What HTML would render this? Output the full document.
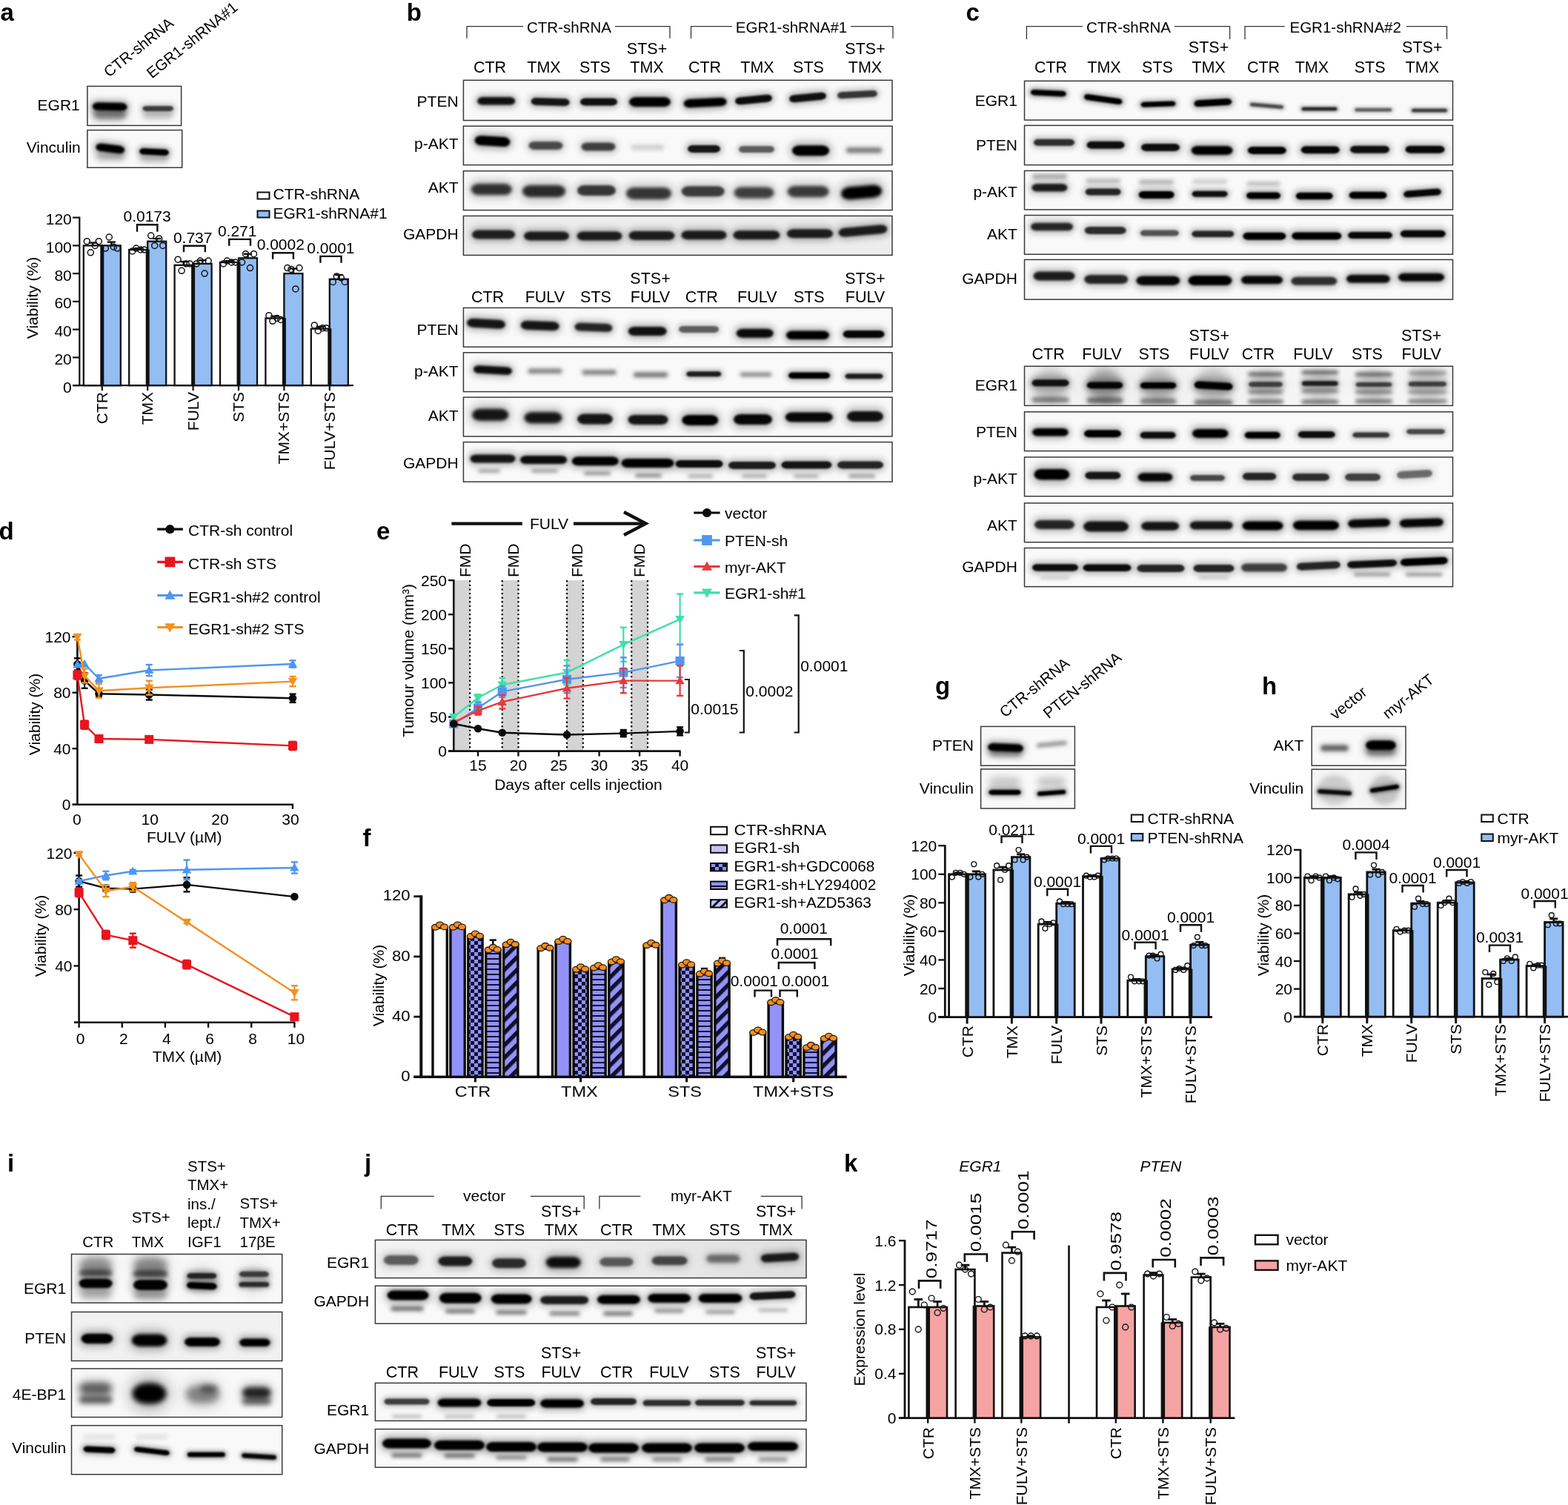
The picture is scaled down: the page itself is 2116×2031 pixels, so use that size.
<!DOCTYPE html>
<html><head><meta charset="utf-8"><title>Figure</title>
<style>html,body{margin:0;padding:0;background:#fff;}svg{display:block;}</style>
</head><body>
<svg xmlns="http://www.w3.org/2000/svg" width="2116" height="2031" viewBox="0 0 2116 2031" font-family='"Liberation Sans", Arial, sans-serif'>
<defs><linearGradient id="gradj" x1="0" y1="0" x2="1" y2="0"><stop offset="0" stop-color="#f3f3f3"/><stop offset="0.5" stop-color="#ececec"/><stop offset="1" stop-color="#e0e0e0"/></linearGradient><filter id="b0" x="-30%" y="-120%" width="160%" height="340%"><feGaussianBlur stdDeviation="4.5"/></filter><filter id="b1" x="-30%" y="-120%" width="160%" height="340%"><feGaussianBlur stdDeviation="1.5"/></filter><filter id="b2" x="-30%" y="-120%" width="160%" height="340%"><feGaussianBlur stdDeviation="5.5"/></filter><filter id="b3" x="-30%" y="-120%" width="160%" height="340%"><feGaussianBlur stdDeviation="3.0"/></filter><filter id="b4" x="-30%" y="-120%" width="160%" height="340%"><feGaussianBlur stdDeviation="1.0"/></filter><filter id="b5" x="-30%" y="-120%" width="160%" height="340%"><feGaussianBlur stdDeviation="4.0"/></filter><filter id="b6" x="-30%" y="-120%" width="160%" height="340%"><feGaussianBlur stdDeviation="3.5"/></filter><filter id="b7" x="-30%" y="-120%" width="160%" height="340%"><feGaussianBlur stdDeviation="5.0"/></filter><filter id="b8" x="-30%" y="-120%" width="160%" height="340%"><feGaussianBlur stdDeviation="2.0"/></filter><filter id="b9" x="-30%" y="-120%" width="160%" height="340%"><feGaussianBlur stdDeviation="6.0"/></filter><filter id="b10" x="-30%" y="-120%" width="160%" height="340%"><feGaussianBlur stdDeviation="6.5"/></filter><filter id="b11" x="-30%" y="-120%" width="160%" height="340%"><feGaussianBlur stdDeviation="7.0"/></filter><filter id="b12" x="-30%" y="-120%" width="160%" height="340%"><feGaussianBlur stdDeviation="2.5"/></filter><filter id="b13" x="-30%" y="-120%" width="160%" height="340%"><feGaussianBlur stdDeviation="17.5"/></filter><filter id="b14" x="-30%" y="-120%" width="160%" height="340%"><feGaussianBlur stdDeviation="16.0"/></filter><filter id="b15" x="-30%" y="-120%" width="160%" height="340%"><feGaussianBlur stdDeviation="9.0"/></filter><filter id="b16" x="-30%" y="-120%" width="160%" height="340%"><feGaussianBlur stdDeviation="12.0"/></filter><filter id="b17" x="-30%" y="-120%" width="160%" height="340%"><feGaussianBlur stdDeviation="11.0"/></filter><filter id="b18" x="-30%" y="-120%" width="160%" height="340%"><feGaussianBlur stdDeviation="9.5"/></filter><pattern id="pchk" patternUnits="userSpaceOnUse" width="10" height="10"><rect width="10" height="10" fill="#9292f8"/><rect width="5" height="5" fill="#101030"/><rect x="5" y="5" width="5" height="5" fill="#101030"/></pattern><pattern id="phor" patternUnits="userSpaceOnUse" width="8" height="7"><rect width="8" height="7" fill="#9292f8"/><rect y="5" width="8" height="2" fill="#101030"/></pattern><pattern id="pdia" patternUnits="userSpaceOnUse" width="12" height="12" patternTransform="rotate(-45)"><rect width="12" height="12" fill="#9292f8"/><rect y="0" width="12" height="5.5" fill="#101030"/></pattern><pattern id="pdia2" patternUnits="userSpaceOnUse" width="8" height="8" patternTransform="rotate(-45)"><rect width="8" height="8" fill="#c4c4f6"/><rect y="0" width="8" height="3" fill="#101030"/></pattern></defs>
<rect width="2116" height="2031" fill="#fff"/>
<text x="0.5" y="28.0" font-size="33" font-weight="bold" fill="#000">a</text>
<text x="147.0" y="105.0" font-size="20.5" transform="rotate(-38.8 147.0 105.0)">CTR-shRNA</text>
<text x="205.0" y="106.6" font-size="20.5" transform="rotate(-38.8 205.0 106.6)">EGR1-shRNA#1</text>
<rect x="117.9" y="116.4" width="126.7" height="53.0" fill="#f9f9f9"/>
<clipPath id="cl1"><rect x="117.9" y="116.4" width="126.7" height="53.0"/></clipPath>
<g clip-path="url(#cl1)">
<rect x="121.7" y="134.9" width="53.0" height="18.0" rx="9.0" fill="#000" fill-opacity="0.320" filter="url(#b0)" transform="rotate(1.17 148.2 143.9)"/>
<rect x="124.7" y="138.6" width="47.0" height="10.7" rx="7.5" ry="5.3" fill="#000" fill-opacity="1.000" filter="url(#b1)" transform="rotate(1.17 148.2 143.9)"/>
<rect x="122.7" y="142.5" width="51.0" height="23.0" rx="11.5" fill="#000" fill-opacity="0.130" filter="url(#b2)"/>
<rect x="125.7" y="147.0" width="45.0" height="14.0" rx="9.8" ry="7.0" fill="#000" fill-opacity="0.405" filter="url(#b3)"/>
<rect x="189.4" y="140.2" width="47.6" height="12.5" rx="6.2" fill="#000" fill-opacity="0.218" filter="url(#b3)"/>
<rect x="192.4" y="142.9" width="41.6" height="7.0" rx="4.9" ry="3.5" fill="#000" fill-opacity="0.682" filter="url(#b4)"/>
<rect x="190.2" y="146.5" width="46.0" height="17.0" rx="8.5" fill="#000" fill-opacity="0.057" filter="url(#b5)"/>
<rect x="193.2" y="150.0" width="40.0" height="10.0" rx="7.0" ry="5.0" fill="#000" fill-opacity="0.178" filter="url(#b3)"/>
</g>
<rect x="117.9" y="116.4" width="126.7" height="53.0" fill="none" stroke="#3a3a3a" stroke-width="1.5"/>
<text x="107.8" y="148.7" font-size="21" text-anchor="end">EGR1</text>
<rect x="117.9" y="175.6" width="127.8" height="50.6" fill="#f9f9f9"/>
<clipPath id="cl2"><rect x="117.9" y="175.6" width="127.8" height="50.6"/></clipPath>
<g clip-path="url(#cl2)">
<rect x="126.3" y="191.3" width="45.0" height="18.0" rx="9.0" fill="#000" fill-opacity="0.320" filter="url(#b0)" transform="rotate(6.95 148.8 200.3)"/>
<rect x="129.3" y="195.0" width="39.0" height="10.7" rx="7.5" ry="5.3" fill="#000" fill-opacity="1.000" filter="url(#b1)" transform="rotate(6.95 148.8 200.3)"/>
<rect x="126.8" y="202.5" width="44.0" height="17.0" rx="8.5" fill="#000" fill-opacity="0.065" filter="url(#b5)"/>
<rect x="129.8" y="206.0" width="38.0" height="10.0" rx="7.0" ry="5.0" fill="#000" fill-opacity="0.204" filter="url(#b3)"/>
<rect x="185.1" y="197.6" width="45.8" height="14.9" rx="7.4" fill="#000" fill-opacity="0.320" filter="url(#b6)" transform="rotate(2.74 208.0 205.0)"/>
<rect x="188.1" y="200.7" width="39.8" height="8.6" rx="6.0" ry="4.3" fill="#000" fill-opacity="1.000" filter="url(#b4)" transform="rotate(2.74 208.0 205.0)"/>
<rect x="186.0" y="206.2" width="44.0" height="15.5" rx="7.8" fill="#000" fill-opacity="0.057" filter="url(#b6)"/>
<rect x="189.0" y="209.5" width="38.0" height="9.0" rx="6.3" ry="4.5" fill="#000" fill-opacity="0.178" filter="url(#b3)"/>
</g>
<rect x="117.9" y="175.6" width="127.8" height="50.6" fill="none" stroke="#3a3a3a" stroke-width="1.5"/>
<text x="108.8" y="206.4" font-size="21" text-anchor="end">Vinculin</text>
<line x1="107.3" y1="292.6" x2="107.3" y2="521.1" stroke="#111" stroke-width="2.2"/>
<line x1="98.0" y1="520.1" x2="477.0" y2="520.1" stroke="#111" stroke-width="2.2"/>
<line x1="98.0" y1="520.1" x2="107.3" y2="520.1" stroke="#111" stroke-width="2.2"/>
<text x="96.8" y="529.5" font-size="21" text-anchor="end">0</text>
<line x1="98.0" y1="482.4" x2="107.3" y2="482.4" stroke="#111" stroke-width="2.2"/>
<text x="96.8" y="491.8" font-size="21" text-anchor="end">20</text>
<line x1="98.0" y1="444.6" x2="107.3" y2="444.6" stroke="#111" stroke-width="2.2"/>
<text x="96.8" y="454.0" font-size="21" text-anchor="end">40</text>
<line x1="98.0" y1="406.9" x2="107.3" y2="406.9" stroke="#111" stroke-width="2.2"/>
<text x="96.8" y="416.2" font-size="21" text-anchor="end">60</text>
<line x1="98.0" y1="369.1" x2="107.3" y2="369.1" stroke="#111" stroke-width="2.2"/>
<text x="96.8" y="378.5" font-size="21" text-anchor="end">80</text>
<line x1="98.0" y1="331.4" x2="107.3" y2="331.4" stroke="#111" stroke-width="2.2"/>
<text x="96.8" y="340.8" font-size="21" text-anchor="end">100</text>
<line x1="98.0" y1="293.6" x2="107.3" y2="293.6" stroke="#111" stroke-width="2.2"/>
<text x="96.8" y="303.0" font-size="21" text-anchor="end">120</text>
<text x="51.0" y="402.0" font-size="21" transform="rotate(-90 51.0 402.0)" text-anchor="middle">Viability (%)</text>
<rect x="112.8" y="331.4" width="25.0" height="188.8" fill="#fff" stroke="#111" stroke-width="2.3"/>
<rect x="137.8" y="331.4" width="25.0" height="188.8" fill="#93bdf3" stroke="#111" stroke-width="2.3"/>
<rect x="135.3" y="330.9" width="5.0" height="189.2" fill="#111"/>
<line x1="125.3" y1="331.4" x2="125.3" y2="327.6" stroke="#111" stroke-width="2.4"/>
<line x1="119.7" y1="327.6" x2="130.9" y2="327.6" stroke="#111" stroke-width="2.4"/>
<circle cx="117.3" cy="325.7" r="4.0" fill="none" stroke="#111" stroke-width="1.5"/>
<circle cx="122.3" cy="340.8" r="4.0" fill="none" stroke="#111" stroke-width="1.5"/>
<circle cx="128.3" cy="331.4" r="4.0" fill="none" stroke="#111" stroke-width="1.5"/>
<circle cx="133.3" cy="325.7" r="4.0" fill="none" stroke="#111" stroke-width="1.5"/>
<line x1="150.3" y1="331.4" x2="150.3" y2="326.6" stroke="#111" stroke-width="2.4"/>
<line x1="144.7" y1="326.6" x2="155.9" y2="326.6" stroke="#111" stroke-width="2.4"/>
<circle cx="142.3" cy="335.1" r="4.0" fill="none" stroke="#111" stroke-width="1.5"/>
<circle cx="147.3" cy="320.0" r="4.0" fill="none" stroke="#111" stroke-width="1.5"/>
<circle cx="153.3" cy="333.2" r="4.0" fill="none" stroke="#111" stroke-width="1.5"/>
<circle cx="158.3" cy="335.1" r="4.0" fill="none" stroke="#111" stroke-width="1.5"/>
<rect x="174.2" y="337.0" width="25.0" height="183.1" fill="#fff" stroke="#111" stroke-width="2.3"/>
<rect x="199.2" y="325.7" width="25.0" height="194.4" fill="#93bdf3" stroke="#111" stroke-width="2.3"/>
<rect x="196.7" y="336.5" width="5.0" height="183.6" fill="#111"/>
<line x1="186.7" y1="337.0" x2="186.7" y2="335.1" stroke="#111" stroke-width="2.4"/>
<line x1="181.1" y1="335.1" x2="192.3" y2="335.1" stroke="#111" stroke-width="2.4"/>
<circle cx="178.7" cy="338.9" r="4.0" fill="none" stroke="#111" stroke-width="1.5"/>
<circle cx="183.7" cy="335.1" r="4.0" fill="none" stroke="#111" stroke-width="1.5"/>
<circle cx="189.7" cy="337.0" r="4.0" fill="none" stroke="#111" stroke-width="1.5"/>
<circle cx="194.7" cy="337.0" r="4.0" fill="none" stroke="#111" stroke-width="1.5"/>
<line x1="211.7" y1="325.7" x2="211.7" y2="321.9" stroke="#111" stroke-width="2.4"/>
<line x1="206.1" y1="321.9" x2="217.3" y2="321.9" stroke="#111" stroke-width="2.4"/>
<circle cx="203.7" cy="318.1" r="4.0" fill="none" stroke="#111" stroke-width="1.5"/>
<circle cx="208.7" cy="331.4" r="4.0" fill="none" stroke="#111" stroke-width="1.5"/>
<circle cx="214.7" cy="321.9" r="4.0" fill="none" stroke="#111" stroke-width="1.5"/>
<circle cx="219.7" cy="331.4" r="4.0" fill="none" stroke="#111" stroke-width="1.5"/>
<rect x="235.6" y="357.8" width="25.0" height="162.3" fill="#fff" stroke="#111" stroke-width="2.3"/>
<rect x="260.6" y="355.9" width="25.0" height="164.2" fill="#93bdf3" stroke="#111" stroke-width="2.3"/>
<rect x="258.1" y="357.3" width="5.0" height="162.8" fill="#111"/>
<line x1="248.1" y1="357.8" x2="248.1" y2="353.1" stroke="#111" stroke-width="2.4"/>
<line x1="242.5" y1="353.1" x2="253.7" y2="353.1" stroke="#111" stroke-width="2.4"/>
<circle cx="240.1" cy="350.2" r="4.0" fill="none" stroke="#111" stroke-width="1.5"/>
<circle cx="245.1" cy="365.3" r="4.0" fill="none" stroke="#111" stroke-width="1.5"/>
<circle cx="251.1" cy="355.9" r="4.0" fill="none" stroke="#111" stroke-width="1.5"/>
<circle cx="256.1" cy="355.9" r="4.0" fill="none" stroke="#111" stroke-width="1.5"/>
<line x1="273.1" y1="355.9" x2="273.1" y2="351.2" stroke="#111" stroke-width="2.4"/>
<line x1="267.5" y1="351.2" x2="278.7" y2="351.2" stroke="#111" stroke-width="2.4"/>
<circle cx="265.1" cy="355.9" r="4.0" fill="none" stroke="#111" stroke-width="1.5"/>
<circle cx="270.1" cy="352.1" r="4.0" fill="none" stroke="#111" stroke-width="1.5"/>
<circle cx="276.1" cy="369.1" r="4.0" fill="none" stroke="#111" stroke-width="1.5"/>
<circle cx="281.1" cy="352.1" r="4.0" fill="none" stroke="#111" stroke-width="1.5"/>
<rect x="297.0" y="354.0" width="25.0" height="166.1" fill="#fff" stroke="#111" stroke-width="2.3"/>
<rect x="322.0" y="348.3" width="25.0" height="171.8" fill="#93bdf3" stroke="#111" stroke-width="2.3"/>
<rect x="319.5" y="353.5" width="5.0" height="166.6" fill="#111"/>
<line x1="309.5" y1="354.0" x2="309.5" y2="352.1" stroke="#111" stroke-width="2.4"/>
<line x1="303.9" y1="352.1" x2="315.1" y2="352.1" stroke="#111" stroke-width="2.4"/>
<circle cx="301.5" cy="355.9" r="4.0" fill="none" stroke="#111" stroke-width="1.5"/>
<circle cx="306.5" cy="352.1" r="4.0" fill="none" stroke="#111" stroke-width="1.5"/>
<circle cx="312.5" cy="354.0" r="4.0" fill="none" stroke="#111" stroke-width="1.5"/>
<circle cx="317.5" cy="354.0" r="4.0" fill="none" stroke="#111" stroke-width="1.5"/>
<line x1="334.5" y1="348.3" x2="334.5" y2="342.7" stroke="#111" stroke-width="2.4"/>
<line x1="328.9" y1="342.7" x2="340.1" y2="342.7" stroke="#111" stroke-width="2.4"/>
<circle cx="326.5" cy="354.0" r="4.0" fill="none" stroke="#111" stroke-width="1.5"/>
<circle cx="331.5" cy="342.7" r="4.0" fill="none" stroke="#111" stroke-width="1.5"/>
<circle cx="337.5" cy="361.6" r="4.0" fill="none" stroke="#111" stroke-width="1.5"/>
<circle cx="342.5" cy="342.7" r="4.0" fill="none" stroke="#111" stroke-width="1.5"/>
<rect x="358.4" y="429.5" width="25.0" height="90.6" fill="#fff" stroke="#111" stroke-width="2.3"/>
<rect x="383.4" y="369.1" width="25.0" height="151.0" fill="#93bdf3" stroke="#111" stroke-width="2.3"/>
<rect x="380.9" y="429.0" width="5.0" height="91.1" fill="#111"/>
<line x1="370.9" y1="429.5" x2="370.9" y2="426.7" stroke="#111" stroke-width="2.4"/>
<line x1="365.3" y1="426.7" x2="376.5" y2="426.7" stroke="#111" stroke-width="2.4"/>
<circle cx="362.9" cy="425.7" r="4.0" fill="none" stroke="#111" stroke-width="1.5"/>
<circle cx="367.9" cy="433.3" r="4.0" fill="none" stroke="#111" stroke-width="1.5"/>
<circle cx="373.9" cy="429.5" r="4.0" fill="none" stroke="#111" stroke-width="1.5"/>
<circle cx="378.9" cy="431.4" r="4.0" fill="none" stroke="#111" stroke-width="1.5"/>
<line x1="395.9" y1="369.1" x2="395.9" y2="362.5" stroke="#111" stroke-width="2.4"/>
<line x1="390.3" y1="362.5" x2="401.5" y2="362.5" stroke="#111" stroke-width="2.4"/>
<circle cx="387.9" cy="361.6" r="4.0" fill="none" stroke="#111" stroke-width="1.5"/>
<circle cx="392.9" cy="363.4" r="4.0" fill="none" stroke="#111" stroke-width="1.5"/>
<circle cx="398.9" cy="389.9" r="4.0" fill="none" stroke="#111" stroke-width="1.5"/>
<circle cx="403.9" cy="361.6" r="4.0" fill="none" stroke="#111" stroke-width="1.5"/>
<rect x="419.8" y="443.7" width="25.0" height="76.4" fill="#fff" stroke="#111" stroke-width="2.3"/>
<rect x="444.8" y="376.7" width="25.0" height="143.4" fill="#93bdf3" stroke="#111" stroke-width="2.3"/>
<rect x="442.3" y="443.2" width="5.0" height="76.9" fill="#111"/>
<line x1="432.3" y1="443.7" x2="432.3" y2="440.8" stroke="#111" stroke-width="2.4"/>
<line x1="426.7" y1="440.8" x2="437.9" y2="440.8" stroke="#111" stroke-width="2.4"/>
<circle cx="424.3" cy="438.9" r="4.0" fill="none" stroke="#111" stroke-width="1.5"/>
<circle cx="429.3" cy="446.5" r="4.0" fill="none" stroke="#111" stroke-width="1.5"/>
<circle cx="435.3" cy="442.7" r="4.0" fill="none" stroke="#111" stroke-width="1.5"/>
<circle cx="440.3" cy="442.7" r="4.0" fill="none" stroke="#111" stroke-width="1.5"/>
<line x1="457.3" y1="376.7" x2="457.3" y2="371.0" stroke="#111" stroke-width="2.4"/>
<line x1="451.7" y1="371.0" x2="462.9" y2="371.0" stroke="#111" stroke-width="2.4"/>
<circle cx="449.3" cy="380.4" r="4.0" fill="none" stroke="#111" stroke-width="1.5"/>
<circle cx="454.3" cy="372.9" r="4.0" fill="none" stroke="#111" stroke-width="1.5"/>
<circle cx="460.3" cy="374.8" r="4.0" fill="none" stroke="#111" stroke-width="1.5"/>
<circle cx="465.3" cy="380.4" r="4.0" fill="none" stroke="#111" stroke-width="1.5"/>
<line x1="137.8" y1="520.1" x2="137.8" y2="527.1" stroke="#111" stroke-width="2.2"/>
<text x="144.8" y="529.0" font-size="21" transform="rotate(-90 144.8 529.0)" text-anchor="end">CTR</text>
<line x1="199.2" y1="520.1" x2="199.2" y2="527.1" stroke="#111" stroke-width="2.2"/>
<text x="206.2" y="529.0" font-size="21" transform="rotate(-90 206.2 529.0)" text-anchor="end">TMX</text>
<line x1="260.6" y1="520.1" x2="260.6" y2="527.1" stroke="#111" stroke-width="2.2"/>
<text x="267.6" y="529.0" font-size="21" transform="rotate(-90 267.6 529.0)" text-anchor="end">FULV</text>
<line x1="322.0" y1="520.1" x2="322.0" y2="527.1" stroke="#111" stroke-width="2.2"/>
<text x="329.0" y="529.0" font-size="21" transform="rotate(-90 329.0 529.0)" text-anchor="end">STS</text>
<line x1="383.4" y1="520.1" x2="383.4" y2="527.1" stroke="#111" stroke-width="2.2"/>
<text x="390.4" y="529.0" font-size="21" transform="rotate(-90 390.4 529.0)" text-anchor="end">TMX+STS</text>
<line x1="444.8" y1="520.1" x2="444.8" y2="527.1" stroke="#111" stroke-width="2.2"/>
<text x="451.8" y="529.0" font-size="21" transform="rotate(-90 451.8 529.0)" text-anchor="end">FULV+STS</text>
<text x="198.6" y="299.2" font-size="21" text-anchor="middle">0.0173</text>
<polyline points="185.0,312.7 185.0,303.3 212.4,303.3 212.4,312.7" fill="none" stroke="#111" stroke-width="2.4"/>
<text x="260.2" y="328.0" font-size="21" text-anchor="middle">0.737</text>
<polyline points="248.0,340.3 248.0,331.8 276.8,331.8 276.8,340.3" fill="none" stroke="#111" stroke-width="2.4"/>
<text x="320.2" y="319.0" font-size="21" text-anchor="middle">0.271</text>
<polyline points="309.2,331.8 309.2,322.9 338.0,322.9 338.0,331.8" fill="none" stroke="#111" stroke-width="2.4"/>
<text x="378.8" y="337.0" font-size="21" text-anchor="middle">0.0002</text>
<polyline points="368.1,349.7 368.1,341.3 395.9,341.3 395.9,349.7" fill="none" stroke="#111" stroke-width="2.4"/>
<text x="446.4" y="342.0" font-size="21" text-anchor="middle">0.0001</text>
<polyline points="432.4,354.8 432.4,345.9 460.5,345.9 460.5,354.8" fill="none" stroke="#111" stroke-width="2.4"/>
<rect x="347.5" y="259.5" width="16.0" height="9.0" fill="#fff" stroke="#111" stroke-width="2"/>
<text x="368.5" y="268.5" font-size="21">CTR-shRNA</text>
<rect x="347.5" y="284.5" width="16.0" height="9.0" fill="#93bdf3" stroke="#111" stroke-width="2"/>
<text x="368.5" y="294.5" font-size="21">EGR1-shRNA#1</text>
<text x="548.7" y="27.7" font-size="33" font-weight="bold" fill="#000">b</text>
<line x1="630.0" y1="35.7" x2="706.0" y2="35.7" stroke="#333" stroke-width="1.3"/>
<line x1="830.0" y1="35.7" x2="904.0" y2="35.7" stroke="#333" stroke-width="1.3"/>
<line x1="630.0" y1="35.1" x2="630.0" y2="51.8" stroke="#333" stroke-width="1.3"/>
<line x1="904.0" y1="35.1" x2="904.0" y2="51.8" stroke="#333" stroke-width="1.3"/>
<text x="768.0" y="44.2" font-size="20.5" text-anchor="middle">CTR-shRNA</text>
<line x1="932.5" y1="35.7" x2="988.0" y2="35.7" stroke="#333" stroke-width="1.3"/>
<line x1="1148.0" y1="35.7" x2="1205.0" y2="35.7" stroke="#333" stroke-width="1.3"/>
<line x1="932.5" y1="35.1" x2="932.5" y2="51.8" stroke="#333" stroke-width="1.3"/>
<line x1="1205.0" y1="35.1" x2="1205.0" y2="51.8" stroke="#333" stroke-width="1.3"/>
<text x="1068.0" y="44.2" font-size="20.5" text-anchor="middle">EGR1-shRNA#1</text>
<text x="661.0" y="98.2" font-size="21.5" text-anchor="middle">CTR</text>
<text x="734.0" y="98.2" font-size="21.5" text-anchor="middle">TMX</text>
<text x="803.0" y="98.2" font-size="21.5" text-anchor="middle">STS</text>
<text x="873.0" y="73.2" font-size="21.5" text-anchor="middle">STS+</text>
<text x="873.0" y="98.2" font-size="21.5" text-anchor="middle">TMX</text>
<text x="951.0" y="98.2" font-size="21.5" text-anchor="middle">CTR</text>
<text x="1022.0" y="98.2" font-size="21.5" text-anchor="middle">TMX</text>
<text x="1091.0" y="98.2" font-size="21.5" text-anchor="middle">STS</text>
<text x="1167.5" y="73.2" font-size="21.5" text-anchor="middle">STS+</text>
<text x="1167.5" y="98.2" font-size="21.5" text-anchor="middle">TMX</text>
<rect x="625.4" y="108.3" width="578.6" height="54.2" fill="#f9f9f9"/>
<clipPath id="cl3"><rect x="625.4" y="108.3" width="578.6" height="54.2"/></clipPath>
<g clip-path="url(#cl3)">
<rect x="641.2" y="127.4" width="57.0" height="17.8" rx="8.9" fill="#000" fill-opacity="0.291" filter="url(#b5)"/>
<rect x="644.2" y="131.1" width="51.0" height="10.5" rx="7.3" ry="5.2" fill="#000" fill-opacity="0.909" filter="url(#b1)"/>
<rect x="713.6" y="129.0" width="58.0" height="17.0" rx="8.5" fill="#000" fill-opacity="0.283" filter="url(#b5)" transform="rotate(1.70 742.6 137.5)"/>
<rect x="716.6" y="132.5" width="52.0" height="10.0" rx="7.0" ry="5.0" fill="#000" fill-opacity="0.885" filter="url(#b4)" transform="rotate(1.70 742.6 137.5)"/>
<rect x="780.0" y="129.0" width="56.0" height="17.0" rx="8.5" fill="#000" fill-opacity="0.291" filter="url(#b5)"/>
<rect x="783.0" y="132.5" width="50.0" height="10.0" rx="7.0" ry="5.0" fill="#000" fill-opacity="0.909" filter="url(#b4)"/>
<rect x="846.0" y="126.8" width="62.0" height="21.5" rx="10.8" fill="#000" fill-opacity="0.315" filter="url(#b7)"/>
<rect x="849.0" y="131.0" width="56.0" height="13.0" rx="9.1" ry="6.5" fill="#000" fill-opacity="0.985" filter="url(#b1)"/>
<rect x="919.7" y="129.0" width="64.0" height="19.2" rx="9.6" fill="#000" fill-opacity="0.320" filter="url(#b0)" transform="rotate(-2.86 951.7 138.6)"/>
<rect x="922.7" y="132.8" width="58.0" height="11.5" rx="8.0" ry="5.8" fill="#000" fill-opacity="1.000" filter="url(#b1)" transform="rotate(-2.86 951.7 138.6)"/>
<rect x="989.0" y="125.9" width="56.0" height="17.0" rx="8.5" fill="#000" fill-opacity="0.301" filter="url(#b5)" transform="rotate(-5.49 1017.0 134.4)"/>
<rect x="992.0" y="129.4" width="50.0" height="10.0" rx="7.0" ry="5.0" fill="#000" fill-opacity="0.939" filter="url(#b4)" transform="rotate(-5.49 1017.0 134.4)"/>
<rect x="1062.0" y="122.9" width="56.0" height="17.0" rx="8.5" fill="#000" fill-opacity="0.291" filter="url(#b5)" transform="rotate(-5.49 1090.0 131.4)"/>
<rect x="1065.0" y="126.4" width="50.0" height="10.0" rx="7.0" ry="5.0" fill="#000" fill-opacity="0.909" filter="url(#b4)" transform="rotate(-5.49 1090.0 131.4)"/>
<rect x="1127.0" y="119.8" width="60.0" height="15.5" rx="7.8" fill="#000" fill-opacity="0.232" filter="url(#b6)" transform="rotate(-3.07 1157.0 127.6)"/>
<rect x="1130.0" y="123.1" width="54.0" height="9.0" rx="6.3" ry="4.5" fill="#000" fill-opacity="0.724" filter="url(#b4)" transform="rotate(-3.07 1157.0 127.6)"/>
</g>
<rect x="625.4" y="108.3" width="578.6" height="54.2" fill="none" stroke="#3a3a3a" stroke-width="1.5"/>
<text x="618.6" y="143.5" font-size="21" text-anchor="end">PTEN</text>
<rect x="625.4" y="170.2" width="578.6" height="52.4" fill="#f9f9f9"/>
<clipPath id="cl4"><rect x="625.4" y="170.2" width="578.6" height="52.4"/></clipPath>
<g clip-path="url(#cl4)">
<rect x="637.5" y="179.8" width="54.0" height="21.5" rx="10.8" fill="#000" fill-opacity="0.320" filter="url(#b7)" transform="rotate(3.43 664.5 190.6)"/>
<rect x="640.5" y="184.1" width="48.0" height="13.0" rx="9.1" ry="6.5" fill="#000" fill-opacity="1.000" filter="url(#b1)" transform="rotate(3.43 664.5 190.6)"/>
<rect x="710.5" y="187.2" width="52.0" height="18.5" rx="9.2" fill="#000" fill-opacity="0.204" filter="url(#b0)"/>
<rect x="713.5" y="190.9" width="46.0" height="11.0" rx="7.7" ry="5.5" fill="#000" fill-opacity="0.639" filter="url(#b1)"/>
<rect x="781.5" y="188.8" width="52.0" height="18.5" rx="9.2" fill="#000" fill-opacity="0.218" filter="url(#b0)"/>
<rect x="784.5" y="192.5" width="46.0" height="11.0" rx="7.7" ry="5.5" fill="#000" fill-opacity="0.682" filter="url(#b1)"/>
<rect x="849.0" y="192.8" width="50.0" height="12.5" rx="6.2" fill="#000" fill-opacity="0.039" filter="url(#b3)"/>
<rect x="852.0" y="195.5" width="44.0" height="7.0" rx="4.9" ry="3.5" fill="#000" fill-opacity="0.121" filter="url(#b8)"/>
<rect x="925.0" y="192.5" width="50.0" height="17.0" rx="8.5" fill="#000" fill-opacity="0.283" filter="url(#b5)"/>
<rect x="928.0" y="196.0" width="44.0" height="10.0" rx="7.0" ry="5.0" fill="#000" fill-opacity="0.885" filter="url(#b4)"/>
<rect x="994.0" y="193.8" width="54.0" height="15.5" rx="7.8" fill="#000" fill-opacity="0.176" filter="url(#b6)"/>
<rect x="997.0" y="197.0" width="48.0" height="9.0" rx="6.3" ry="4.5" fill="#000" fill-opacity="0.549" filter="url(#b4)"/>
<rect x="1066.0" y="191.8" width="56.0" height="23.0" rx="11.5" fill="#000" fill-opacity="0.320" filter="url(#b2)"/>
<rect x="1069.0" y="196.3" width="50.0" height="14.0" rx="9.8" ry="7.0" fill="#000" fill-opacity="1.000" filter="url(#b1)"/>
<rect x="1139.0" y="196.4" width="54.0" height="12.5" rx="6.2" fill="#000" fill-opacity="0.130" filter="url(#b3)"/>
<rect x="1142.0" y="199.2" width="48.0" height="7.0" rx="4.9" ry="3.5" fill="#000" fill-opacity="0.405" filter="url(#b8)"/>
</g>
<rect x="625.4" y="170.2" width="578.6" height="52.4" fill="none" stroke="#3a3a3a" stroke-width="1.5"/>
<text x="618.6" y="200.5" font-size="21" text-anchor="end">p-AKT</text>
<rect x="625.4" y="230.7" width="578.6" height="52.9" fill="#f9f9f9"/>
<clipPath id="cl5"><rect x="625.4" y="230.7" width="578.6" height="52.9"/></clipPath>
<g clip-path="url(#cl5)">
<rect x="632.8" y="243.3" width="61.0" height="24.5" rx="12.2" fill="#000" fill-opacity="0.240" filter="url(#b9)"/>
<rect x="635.8" y="248.1" width="55.0" height="15.0" rx="10.5" ry="7.5" fill="#000" fill-opacity="0.749" filter="url(#b8)"/>
<rect x="702.0" y="245.0" width="64.0" height="26.0" rx="13.0" fill="#000" fill-opacity="0.250" filter="url(#b10)"/>
<rect x="705.0" y="250.0" width="58.0" height="16.0" rx="11.2" ry="8.0" fill="#000" fill-opacity="0.782" filter="url(#b8)"/>
<rect x="776.0" y="245.5" width="58.0" height="23.0" rx="11.5" fill="#000" fill-opacity="0.232" filter="url(#b2)"/>
<rect x="779.0" y="250.0" width="52.0" height="14.0" rx="9.8" ry="7.0" fill="#000" fill-opacity="0.724" filter="url(#b1)"/>
<rect x="842.0" y="248.0" width="67.0" height="26.0" rx="13.0" fill="#000" fill-opacity="0.232" filter="url(#b10)"/>
<rect x="845.0" y="253.0" width="61.0" height="16.0" rx="11.2" ry="8.0" fill="#000" fill-opacity="0.724" filter="url(#b8)"/>
<rect x="916.7" y="246.8" width="64.0" height="23.0" rx="11.5" fill="#000" fill-opacity="0.224" filter="url(#b2)"/>
<rect x="919.7" y="251.3" width="58.0" height="14.0" rx="9.8" ry="7.0" fill="#000" fill-opacity="0.699" filter="url(#b1)"/>
<rect x="987.5" y="247.8" width="60.0" height="24.5" rx="12.2" fill="#000" fill-opacity="0.218" filter="url(#b9)"/>
<rect x="990.5" y="252.5" width="54.0" height="15.0" rx="10.5" ry="7.5" fill="#000" fill-opacity="0.682" filter="url(#b8)"/>
<rect x="1059.6" y="246.2" width="62.0" height="24.5" rx="12.2" fill="#000" fill-opacity="0.226" filter="url(#b9)"/>
<rect x="1062.6" y="251.0" width="56.0" height="15.0" rx="10.5" ry="7.5" fill="#000" fill-opacity="0.707" filter="url(#b8)"/>
<rect x="1132.1" y="245.8" width="61.0" height="27.5" rx="13.8" fill="#000" fill-opacity="0.320" filter="url(#b11)" transform="rotate(-5.01 1162.6 259.5)"/>
<rect x="1135.1" y="251.0" width="55.0" height="17.0" rx="11.9" ry="8.5" fill="#000" fill-opacity="1.000" filter="url(#b8)" transform="rotate(-5.01 1162.6 259.5)"/>
</g>
<rect x="625.4" y="230.7" width="578.6" height="52.9" fill="none" stroke="#3a3a3a" stroke-width="1.5"/>
<text x="618.6" y="259.5" font-size="21" text-anchor="end">AKT</text>
<rect x="625.4" y="291.4" width="578.6" height="53.0" fill="#ededed"/>
<clipPath id="cl6"><rect x="625.4" y="291.4" width="578.6" height="53.0"/></clipPath>
<g clip-path="url(#cl6)">
<rect x="634.0" y="306.5" width="64.0" height="20.0" rx="10.0" fill="#000" fill-opacity="0.266" filter="url(#b7)"/>
<rect x="637.0" y="310.5" width="58.0" height="12.0" rx="8.4" ry="6.0" fill="#000" fill-opacity="0.830" filter="url(#b1)"/>
<rect x="704.0" y="308.4" width="67.0" height="20.0" rx="10.0" fill="#000" fill-opacity="0.271" filter="url(#b7)"/>
<rect x="707.0" y="312.4" width="61.0" height="12.0" rx="8.4" ry="6.0" fill="#000" fill-opacity="0.846" filter="url(#b1)"/>
<rect x="775.5" y="308.4" width="67.0" height="20.0" rx="10.0" fill="#000" fill-opacity="0.271" filter="url(#b7)"/>
<rect x="778.5" y="312.4" width="61.0" height="12.0" rx="8.4" ry="6.0" fill="#000" fill-opacity="0.846" filter="url(#b1)"/>
<rect x="845.5" y="308.0" width="68.0" height="20.0" rx="10.0" fill="#000" fill-opacity="0.271" filter="url(#b7)"/>
<rect x="848.5" y="312.0" width="62.0" height="12.0" rx="8.4" ry="6.0" fill="#000" fill-opacity="0.846" filter="url(#b1)"/>
<rect x="916.5" y="307.3" width="67.0" height="20.0" rx="10.0" fill="#000" fill-opacity="0.271" filter="url(#b7)"/>
<rect x="919.5" y="311.3" width="61.0" height="12.0" rx="8.4" ry="6.0" fill="#000" fill-opacity="0.846" filter="url(#b1)"/>
<rect x="986.5" y="307.3" width="69.0" height="20.0" rx="10.0" fill="#000" fill-opacity="0.271" filter="url(#b7)"/>
<rect x="989.5" y="311.3" width="63.0" height="12.0" rx="8.4" ry="6.0" fill="#000" fill-opacity="0.846" filter="url(#b1)"/>
<rect x="1059.0" y="305.2" width="68.0" height="20.0" rx="10.0" fill="#000" fill-opacity="0.271" filter="url(#b7)"/>
<rect x="1062.0" y="309.2" width="62.0" height="12.0" rx="8.4" ry="6.0" fill="#000" fill-opacity="0.846" filter="url(#b1)"/>
<rect x="1128.5" y="301.6" width="72.0" height="20.0" rx="10.0" fill="#000" fill-opacity="0.271" filter="url(#b7)" transform="rotate(-5.04 1164.5 311.6)"/>
<rect x="1131.5" y="305.6" width="66.0" height="12.0" rx="8.4" ry="6.0" fill="#000" fill-opacity="0.846" filter="url(#b1)" transform="rotate(-5.04 1164.5 311.6)"/>
</g>
<rect x="625.4" y="291.4" width="578.6" height="53.0" fill="none" stroke="#3a3a3a" stroke-width="1.5"/>
<text x="618.6" y="323.2" font-size="21" text-anchor="end">GAPDH</text>
<text x="658.0" y="408.2" font-size="21.5" text-anchor="middle">CTR</text>
<text x="735.4" y="408.2" font-size="21.5" text-anchor="middle">FULV</text>
<text x="804.0" y="408.2" font-size="21.5" text-anchor="middle">STS</text>
<text x="877.5" y="382.9" font-size="21.5" text-anchor="middle">STS+</text>
<text x="877.5" y="408.2" font-size="21.5" text-anchor="middle">FULV</text>
<text x="946.8" y="408.2" font-size="21.5" text-anchor="middle">CTR</text>
<text x="1021.8" y="408.2" font-size="21.5" text-anchor="middle">FULV</text>
<text x="1091.8" y="408.2" font-size="21.5" text-anchor="middle">STS</text>
<text x="1167.5" y="382.9" font-size="21.5" text-anchor="middle">STS+</text>
<text x="1167.5" y="408.2" font-size="21.5" text-anchor="middle">FULV</text>
<rect x="625.4" y="415.4" width="578.6" height="52.8" fill="#f9f9f9"/>
<clipPath id="cl7"><rect x="625.4" y="415.4" width="578.6" height="52.8"/></clipPath>
<g clip-path="url(#cl7)">
<rect x="627.0" y="426.8" width="58.0" height="20.0" rx="10.0" fill="#000" fill-opacity="0.283" filter="url(#b7)" transform="rotate(3.18 656.0 436.8)"/>
<rect x="630.0" y="430.8" width="52.0" height="12.0" rx="8.4" ry="6.0" fill="#000" fill-opacity="0.885" filter="url(#b1)" transform="rotate(3.18 656.0 436.8)"/>
<rect x="699.7" y="429.5" width="58.0" height="20.0" rx="10.0" fill="#000" fill-opacity="0.283" filter="url(#b7)" transform="rotate(2.12 728.7 439.5)"/>
<rect x="702.7" y="433.5" width="52.0" height="12.0" rx="8.4" ry="6.0" fill="#000" fill-opacity="0.885" filter="url(#b1)" transform="rotate(2.12 728.7 439.5)"/>
<rect x="772.5" y="432.6" width="57.0" height="18.5" rx="9.2" fill="#000" fill-opacity="0.258" filter="url(#b0)" transform="rotate(2.16 801.0 441.8)"/>
<rect x="775.5" y="436.3" width="51.0" height="11.0" rx="7.7" ry="5.5" fill="#000" fill-opacity="0.806" filter="url(#b1)" transform="rotate(2.16 801.0 441.8)"/>
<rect x="844.7" y="437.0" width="58.0" height="20.0" rx="10.0" fill="#000" fill-opacity="0.291" filter="url(#b7)"/>
<rect x="847.7" y="441.0" width="52.0" height="12.0" rx="8.4" ry="6.0" fill="#000" fill-opacity="0.909" filter="url(#b1)"/>
<rect x="913.0" y="436.6" width="60.0" height="15.5" rx="7.8" fill="#000" fill-opacity="0.176" filter="url(#b6)"/>
<rect x="916.0" y="439.9" width="54.0" height="9.0" rx="6.3" ry="4.5" fill="#000" fill-opacity="0.549" filter="url(#b4)"/>
<rect x="990.7" y="439.8" width="56.0" height="20.0" rx="10.0" fill="#000" fill-opacity="0.301" filter="url(#b7)"/>
<rect x="993.7" y="443.8" width="50.0" height="12.0" rx="8.4" ry="6.0" fill="#000" fill-opacity="0.939" filter="url(#b1)"/>
<rect x="1058.0" y="442.8" width="64.0" height="19.2" rx="9.6" fill="#000" fill-opacity="0.320" filter="url(#b0)"/>
<rect x="1061.0" y="446.6" width="58.0" height="11.5" rx="8.0" ry="5.8" fill="#000" fill-opacity="1.000" filter="url(#b1)"/>
<rect x="1134.6" y="442.5" width="62.0" height="17.0" rx="8.5" fill="#000" fill-opacity="0.308" filter="url(#b5)"/>
<rect x="1137.6" y="446.0" width="56.0" height="10.0" rx="7.0" ry="5.0" fill="#000" fill-opacity="0.962" filter="url(#b4)"/>
</g>
<rect x="625.4" y="415.4" width="578.6" height="52.8" fill="none" stroke="#3a3a3a" stroke-width="1.5"/>
<text x="618.6" y="451.6" font-size="21" text-anchor="end">PTEN</text>
<rect x="625.4" y="475.8" width="578.6" height="52.8" fill="#f9f9f9"/>
<clipPath id="cl8"><rect x="625.4" y="475.8" width="578.6" height="52.8"/></clipPath>
<g clip-path="url(#cl8)">
<rect x="636.0" y="490.6" width="58.0" height="17.8" rx="8.9" fill="#000" fill-opacity="0.296" filter="url(#b5)" transform="rotate(3.18 665.0 499.5)"/>
<rect x="639.0" y="494.2" width="52.0" height="10.5" rx="7.3" ry="5.2" fill="#000" fill-opacity="0.924" filter="url(#b1)" transform="rotate(3.18 665.0 499.5)"/>
<rect x="710.0" y="495.3" width="51.0" height="11.0" rx="5.5" fill="#000" fill-opacity="0.123" filter="url(#b12)"/>
<rect x="713.0" y="497.8" width="45.0" height="6.0" rx="4.2" ry="3.0" fill="#000" fill-opacity="0.385" filter="url(#b8)"/>
<rect x="783.1" y="496.9" width="51.0" height="11.0" rx="5.5" fill="#000" fill-opacity="0.123" filter="url(#b12)"/>
<rect x="786.1" y="499.4" width="45.0" height="6.0" rx="4.2" ry="3.0" fill="#000" fill-opacity="0.385" filter="url(#b8)"/>
<rect x="852.5" y="500.2" width="51.0" height="11.0" rx="5.5" fill="#000" fill-opacity="0.139" filter="url(#b12)"/>
<rect x="855.5" y="502.7" width="45.0" height="6.0" rx="4.2" ry="3.0" fill="#000" fill-opacity="0.435" filter="url(#b8)"/>
<rect x="923.3" y="498.6" width="53.0" height="12.5" rx="6.2" fill="#000" fill-opacity="0.271" filter="url(#b3)"/>
<rect x="926.3" y="501.3" width="47.0" height="7.0" rx="4.9" ry="3.5" fill="#000" fill-opacity="0.846" filter="url(#b4)"/>
<rect x="996.5" y="500.6" width="47.0" height="9.5" rx="4.8" fill="#000" fill-opacity="0.113" filter="url(#b8)"/>
<rect x="999.5" y="502.9" width="41.0" height="5.0" rx="3.5" ry="2.5" fill="#000" fill-opacity="0.354" filter="url(#b8)"/>
<rect x="1061.0" y="499.4" width="62.0" height="14.8" rx="7.4" fill="#000" fill-opacity="0.320" filter="url(#b6)"/>
<rect x="1064.0" y="502.6" width="56.0" height="8.5" rx="5.9" ry="4.2" fill="#000" fill-opacity="1.000" filter="url(#b4)"/>
<rect x="1137.5" y="501.6" width="57.0" height="12.5" rx="6.2" fill="#000" fill-opacity="0.271" filter="url(#b3)"/>
<rect x="1140.5" y="504.3" width="51.0" height="7.0" rx="4.9" ry="3.5" fill="#000" fill-opacity="0.846" filter="url(#b4)"/>
</g>
<rect x="625.4" y="475.8" width="578.6" height="52.8" fill="none" stroke="#3a3a3a" stroke-width="1.5"/>
<text x="618.6" y="507.5" font-size="21" text-anchor="end">p-AKT</text>
<rect x="625.4" y="536.1" width="578.6" height="52.8" fill="#f9f9f9"/>
<clipPath id="cl9"><rect x="625.4" y="536.1" width="578.6" height="52.8"/></clipPath>
<g clip-path="url(#cl9)">
<rect x="634.2" y="546.8" width="55.0" height="26.0" rx="13.0" fill="#000" fill-opacity="0.283" filter="url(#b10)"/>
<rect x="637.2" y="551.8" width="49.0" height="16.0" rx="11.2" ry="8.0" fill="#000" fill-opacity="0.885" filter="url(#b8)"/>
<rect x="704.5" y="551.5" width="57.0" height="24.5" rx="12.2" fill="#000" fill-opacity="0.283" filter="url(#b9)"/>
<rect x="707.5" y="556.2" width="51.0" height="15.0" rx="10.5" ry="7.5" fill="#000" fill-opacity="0.885" filter="url(#b8)"/>
<rect x="776.0" y="554.1" width="54.0" height="23.0" rx="11.5" fill="#000" fill-opacity="0.283" filter="url(#b2)"/>
<rect x="779.0" y="558.6" width="48.0" height="14.0" rx="9.8" ry="7.0" fill="#000" fill-opacity="0.885" filter="url(#b1)"/>
<rect x="844.5" y="555.6" width="60.0" height="21.5" rx="10.8" fill="#000" fill-opacity="0.283" filter="url(#b7)"/>
<rect x="847.5" y="559.9" width="54.0" height="13.0" rx="9.1" ry="6.5" fill="#000" fill-opacity="0.885" filter="url(#b1)"/>
<rect x="917.3" y="555.5" width="55.0" height="23.0" rx="11.5" fill="#000" fill-opacity="0.320" filter="url(#b2)"/>
<rect x="920.3" y="560.0" width="49.0" height="14.0" rx="9.8" ry="7.0" fill="#000" fill-opacity="1.000" filter="url(#b1)"/>
<rect x="987.0" y="554.5" width="58.0" height="23.0" rx="11.5" fill="#000" fill-opacity="0.308" filter="url(#b2)"/>
<rect x="990.0" y="559.0" width="52.0" height="14.0" rx="9.8" ry="7.0" fill="#000" fill-opacity="0.962" filter="url(#b1)"/>
<rect x="1056.8" y="552.2" width="70.0" height="21.5" rx="10.8" fill="#000" fill-opacity="0.308" filter="url(#b7)"/>
<rect x="1059.8" y="556.5" width="64.0" height="13.0" rx="9.1" ry="6.5" fill="#000" fill-opacity="0.962" filter="url(#b1)"/>
<rect x="1140.0" y="550.5" width="55.0" height="23.0" rx="11.5" fill="#000" fill-opacity="0.291" filter="url(#b2)"/>
<rect x="1143.0" y="555.0" width="49.0" height="14.0" rx="9.8" ry="7.0" fill="#000" fill-opacity="0.909" filter="url(#b1)"/>
</g>
<rect x="625.4" y="536.1" width="578.6" height="52.8" fill="none" stroke="#3a3a3a" stroke-width="1.5"/>
<text x="618.6" y="568.0" font-size="21" text-anchor="end">AKT</text>
<rect x="625.4" y="596.6" width="578.6" height="53.6" fill="#f9f9f9"/>
<clipPath id="cl10"><rect x="625.4" y="596.6" width="578.6" height="53.6"/></clipPath>
<g clip-path="url(#cl10)">
<rect x="631.5" y="609.8" width="67.0" height="18.5" rx="9.2" fill="#000" fill-opacity="0.283" filter="url(#b0)"/>
<rect x="634.5" y="613.5" width="61.0" height="11.0" rx="7.7" ry="5.5" fill="#000" fill-opacity="0.885" filter="url(#b1)"/>
<rect x="699.1" y="611.2" width="69.0" height="18.5" rx="9.2" fill="#000" fill-opacity="0.301" filter="url(#b0)"/>
<rect x="702.1" y="615.0" width="63.0" height="11.0" rx="7.7" ry="5.5" fill="#000" fill-opacity="0.939" filter="url(#b1)"/>
<rect x="768.8" y="612.2" width="69.0" height="20.0" rx="10.0" fill="#000" fill-opacity="0.320" filter="url(#b7)"/>
<rect x="771.8" y="616.2" width="63.0" height="12.0" rx="8.4" ry="6.0" fill="#000" fill-opacity="1.000" filter="url(#b1)"/>
<rect x="835.5" y="615.0" width="77.0" height="20.0" rx="10.0" fill="#000" fill-opacity="0.320" filter="url(#b7)"/>
<rect x="838.5" y="619.0" width="71.0" height="12.0" rx="8.4" ry="6.0" fill="#000" fill-opacity="1.000" filter="url(#b1)"/>
<rect x="908.6" y="617.6" width="70.0" height="17.0" rx="8.5" fill="#000" fill-opacity="0.296" filter="url(#b5)"/>
<rect x="911.6" y="621.1" width="64.0" height="10.0" rx="7.0" ry="5.0" fill="#000" fill-opacity="0.924" filter="url(#b4)"/>
<rect x="980.0" y="619.5" width="70.0" height="17.0" rx="8.5" fill="#000" fill-opacity="0.271" filter="url(#b5)"/>
<rect x="983.0" y="623.0" width="64.0" height="10.0" rx="7.0" ry="5.0" fill="#000" fill-opacity="0.846" filter="url(#b4)"/>
<rect x="1051.4" y="619.0" width="74.0" height="17.0" rx="8.5" fill="#000" fill-opacity="0.283" filter="url(#b5)"/>
<rect x="1054.4" y="622.5" width="68.0" height="10.0" rx="7.0" ry="5.0" fill="#000" fill-opacity="0.885" filter="url(#b4)"/>
<rect x="1127.0" y="619.0" width="68.0" height="17.0" rx="8.5" fill="#000" fill-opacity="0.258" filter="url(#b5)"/>
<rect x="1130.0" y="622.5" width="62.0" height="10.0" rx="7.0" ry="5.0" fill="#000" fill-opacity="0.806" filter="url(#b4)"/>
<rect x="643.0" y="631.6" width="34.0" height="8.0" rx="4.0" fill="#000" fill-opacity="0.088" filter="url(#b8)"/>
<rect x="646.0" y="633.6" width="28.0" height="4.0" rx="2.8" ry="2.0" fill="#000" fill-opacity="0.276" filter="url(#b8)"/>
<rect x="715.0" y="631.6" width="40.0" height="8.0" rx="4.0" fill="#000" fill-opacity="0.088" filter="url(#b8)"/>
<rect x="718.0" y="633.6" width="34.0" height="4.0" rx="2.8" ry="2.0" fill="#000" fill-opacity="0.276" filter="url(#b8)"/>
<rect x="786.0" y="634.7" width="40.0" height="8.0" rx="4.0" fill="#000" fill-opacity="0.103" filter="url(#b8)"/>
<rect x="789.0" y="636.7" width="34.0" height="4.0" rx="2.8" ry="2.0" fill="#000" fill-opacity="0.321" filter="url(#b8)"/>
<rect x="855.0" y="637.7" width="40.0" height="8.0" rx="4.0" fill="#000" fill-opacity="0.113" filter="url(#b8)"/>
<rect x="858.0" y="639.7" width="34.0" height="4.0" rx="2.8" ry="2.0" fill="#000" fill-opacity="0.354" filter="url(#b8)"/>
<rect x="926.0" y="638.5" width="38.0" height="8.0" rx="4.0" fill="#000" fill-opacity="0.077" filter="url(#b8)"/>
<rect x="929.0" y="640.5" width="32.0" height="4.0" rx="2.8" ry="2.0" fill="#000" fill-opacity="0.241" filter="url(#b8)"/>
<rect x="999.0" y="638.5" width="38.0" height="8.0" rx="4.0" fill="#000" fill-opacity="0.077" filter="url(#b8)"/>
<rect x="1002.0" y="640.5" width="32.0" height="4.0" rx="2.8" ry="2.0" fill="#000" fill-opacity="0.241" filter="url(#b8)"/>
<rect x="1069.0" y="638.5" width="38.0" height="8.0" rx="4.0" fill="#000" fill-opacity="0.077" filter="url(#b8)"/>
<rect x="1072.0" y="640.5" width="32.0" height="4.0" rx="2.8" ry="2.0" fill="#000" fill-opacity="0.241" filter="url(#b8)"/>
<rect x="1143.0" y="638.5" width="40.0" height="8.0" rx="4.0" fill="#000" fill-opacity="0.096" filter="url(#b8)"/>
<rect x="1146.0" y="640.5" width="34.0" height="4.0" rx="2.8" ry="2.0" fill="#000" fill-opacity="0.299" filter="url(#b8)"/>
</g>
<rect x="625.4" y="596.6" width="578.6" height="53.6" fill="none" stroke="#3a3a3a" stroke-width="1.5"/>
<text x="618.6" y="632.0" font-size="21" text-anchor="end">GAPDH</text>
<text x="1303.5" y="27.7" font-size="33" font-weight="bold" fill="#000">c</text>
<line x1="1385.4" y1="35.7" x2="1461.0" y2="35.7" stroke="#333" stroke-width="1.3"/>
<line x1="1585.0" y1="35.7" x2="1659.6" y2="35.7" stroke="#333" stroke-width="1.3"/>
<line x1="1385.4" y1="35.1" x2="1385.4" y2="52.9" stroke="#333" stroke-width="1.3"/>
<line x1="1659.6" y1="35.1" x2="1659.6" y2="52.9" stroke="#333" stroke-width="1.3"/>
<text x="1523.0" y="44.2" font-size="20.5" text-anchor="middle">CTR-shRNA</text>
<line x1="1680.0" y1="35.7" x2="1733.7" y2="35.7" stroke="#333" stroke-width="1.3"/>
<line x1="1897.7" y1="35.7" x2="1952.5" y2="35.7" stroke="#333" stroke-width="1.3"/>
<line x1="1680.0" y1="35.1" x2="1680.0" y2="52.9" stroke="#333" stroke-width="1.3"/>
<line x1="1952.5" y1="35.1" x2="1952.5" y2="52.9" stroke="#333" stroke-width="1.3"/>
<text x="1815.7" y="44.2" font-size="20.5" text-anchor="middle">EGR1-shRNA#2</text>
<text x="1418.0" y="98.2" font-size="21.5" text-anchor="middle">CTR</text>
<text x="1490.0" y="98.2" font-size="21.5" text-anchor="middle">TMX</text>
<text x="1562.0" y="98.2" font-size="21.5" text-anchor="middle">STS</text>
<text x="1631.0" y="71.4" font-size="21.5" text-anchor="middle">STS+</text>
<text x="1631.0" y="98.2" font-size="21.5" text-anchor="middle">TMX</text>
<text x="1705.0" y="98.2" font-size="21.5" text-anchor="middle">CTR</text>
<text x="1770.4" y="98.2" font-size="21.5" text-anchor="middle">TMX</text>
<text x="1848.6" y="98.2" font-size="21.5" text-anchor="middle">STS</text>
<text x="1919.3" y="71.4" font-size="21.5" text-anchor="middle">STS+</text>
<text x="1919.3" y="98.2" font-size="21.5" text-anchor="middle">TMX</text>
<rect x="1382.5" y="109.3" width="578.0" height="52.7" fill="#f9f9f9"/>
<clipPath id="cl11"><rect x="1382.5" y="109.3" width="578.0" height="52.7"/></clipPath>
<g clip-path="url(#cl11)">
<rect x="1387.8" y="118.8" width="54.0" height="13.6" rx="6.8" fill="#000" fill-opacity="0.320" filter="url(#b3)" transform="rotate(2.75 1414.8 125.6)"/>
<rect x="1390.8" y="121.8" width="48.0" height="7.7" rx="5.4" ry="3.9" fill="#000" fill-opacity="1.000" filter="url(#b4)" transform="rotate(2.75 1414.8 125.6)"/>
<rect x="1459.7" y="127.0" width="58.0" height="14.0" rx="7.0" fill="#000" fill-opacity="0.320" filter="url(#b3)" transform="rotate(8.01 1488.7 134.0)"/>
<rect x="1462.7" y="130.0" width="52.0" height="8.0" rx="5.6" ry="4.0" fill="#000" fill-opacity="1.000" filter="url(#b4)" transform="rotate(8.01 1488.7 134.0)"/>
<rect x="1536.5" y="134.3" width="53.0" height="12.5" rx="6.2" fill="#000" fill-opacity="0.320" filter="url(#b3)" transform="rotate(-1.87 1563.0 140.6)"/>
<rect x="1539.5" y="137.1" width="47.0" height="7.0" rx="4.9" ry="3.5" fill="#000" fill-opacity="1.000" filter="url(#b4)" transform="rotate(-1.87 1563.0 140.6)"/>
<rect x="1608.3" y="130.8" width="57.0" height="15.5" rx="7.8" fill="#000" fill-opacity="0.320" filter="url(#b6)" transform="rotate(-3.24 1636.8 138.6)"/>
<rect x="1611.3" y="134.1" width="51.0" height="9.0" rx="6.3" ry="4.5" fill="#000" fill-opacity="1.000" filter="url(#b4)" transform="rotate(-3.24 1636.8 138.6)"/>
<rect x="1683.9" y="138.1" width="51.0" height="9.5" rx="4.8" fill="#000" fill-opacity="0.204" filter="url(#b8)" transform="rotate(4.86 1709.4 142.8)"/>
<rect x="1686.9" y="140.3" width="45.0" height="5.0" rx="3.5" ry="2.5" fill="#000" fill-opacity="0.639" filter="url(#b4)" transform="rotate(4.86 1709.4 142.8)"/>
<rect x="1753.5" y="142.2" width="54.0" height="9.5" rx="4.8" fill="#000" fill-opacity="0.250" filter="url(#b8)"/>
<rect x="1756.5" y="144.4" width="48.0" height="5.0" rx="3.5" ry="2.5" fill="#000" fill-opacity="0.782" filter="url(#b4)"/>
<rect x="1825.3" y="143.6" width="56.0" height="9.5" rx="4.8" fill="#000" fill-opacity="0.167" filter="url(#b8)"/>
<rect x="1828.3" y="145.8" width="50.0" height="5.0" rx="3.5" ry="2.5" fill="#000" fill-opacity="0.522" filter="url(#b4)"/>
<rect x="1902.0" y="144.2" width="54.0" height="9.5" rx="4.8" fill="#000" fill-opacity="0.218" filter="url(#b8)"/>
<rect x="1905.0" y="146.5" width="48.0" height="5.0" rx="3.5" ry="2.5" fill="#000" fill-opacity="0.682" filter="url(#b4)"/>
</g>
<rect x="1382.5" y="109.3" width="578.0" height="52.7" fill="none" stroke="#3a3a3a" stroke-width="1.5"/>
<text x="1372.9" y="142.5" font-size="21" text-anchor="end">EGR1</text>
<rect x="1382.5" y="169.3" width="578.0" height="53.3" fill="#f9f9f9"/>
<clipPath id="cl12"><rect x="1382.5" y="169.3" width="578.0" height="53.3"/></clipPath>
<g clip-path="url(#cl12)">
<rect x="1392.0" y="184.6" width="61.0" height="15.5" rx="7.8" fill="#000" fill-opacity="0.245" filter="url(#b6)"/>
<rect x="1395.0" y="187.8" width="55.0" height="9.0" rx="6.3" ry="4.5" fill="#000" fill-opacity="0.765" filter="url(#b4)"/>
<rect x="1463.5" y="187.2" width="57.0" height="17.0" rx="8.5" fill="#000" fill-opacity="0.296" filter="url(#b5)"/>
<rect x="1466.5" y="190.7" width="51.0" height="10.0" rx="7.0" ry="5.0" fill="#000" fill-opacity="0.924" filter="url(#b4)"/>
<rect x="1537.0" y="190.5" width="58.0" height="17.0" rx="8.5" fill="#000" fill-opacity="0.296" filter="url(#b5)"/>
<rect x="1540.0" y="194.0" width="52.0" height="10.0" rx="7.0" ry="5.0" fill="#000" fill-opacity="0.924" filter="url(#b4)"/>
<rect x="1604.6" y="193.0" width="62.0" height="20.0" rx="10.0" fill="#000" fill-opacity="0.320" filter="url(#b7)"/>
<rect x="1607.6" y="197.0" width="56.0" height="12.0" rx="8.4" ry="6.0" fill="#000" fill-opacity="1.000" filter="url(#b1)"/>
<rect x="1680.8" y="194.5" width="58.0" height="17.0" rx="8.5" fill="#000" fill-opacity="0.315" filter="url(#b5)"/>
<rect x="1683.8" y="198.0" width="52.0" height="10.0" rx="7.0" ry="5.0" fill="#000" fill-opacity="0.985" filter="url(#b4)"/>
<rect x="1752.7" y="193.7" width="58.0" height="17.0" rx="8.5" fill="#000" fill-opacity="0.308" filter="url(#b5)"/>
<rect x="1755.7" y="197.2" width="52.0" height="10.0" rx="7.0" ry="5.0" fill="#000" fill-opacity="0.962" filter="url(#b4)"/>
<rect x="1819.0" y="193.3" width="59.0" height="17.0" rx="8.5" fill="#000" fill-opacity="0.296" filter="url(#b5)"/>
<rect x="1822.0" y="196.8" width="53.0" height="10.0" rx="7.0" ry="5.0" fill="#000" fill-opacity="0.924" filter="url(#b4)"/>
<rect x="1893.5" y="193.3" width="59.0" height="17.0" rx="8.5" fill="#000" fill-opacity="0.308" filter="url(#b5)"/>
<rect x="1896.5" y="196.8" width="53.0" height="10.0" rx="7.0" ry="5.0" fill="#000" fill-opacity="0.962" filter="url(#b4)"/>
</g>
<rect x="1382.5" y="169.3" width="578.0" height="53.3" fill="none" stroke="#3a3a3a" stroke-width="1.5"/>
<text x="1372.9" y="202.5" font-size="21" text-anchor="end">PTEN</text>
<rect x="1382.5" y="230.4" width="578.0" height="52.5" fill="#f9f9f9"/>
<clipPath id="cl13"><rect x="1382.5" y="230.4" width="578.0" height="52.5"/></clipPath>
<g clip-path="url(#cl13)">
<rect x="1389.4" y="244.4" width="54.0" height="17.8" rx="8.9" fill="#000" fill-opacity="0.271" filter="url(#b5)"/>
<rect x="1392.4" y="248.1" width="48.0" height="10.5" rx="7.3" ry="5.2" fill="#000" fill-opacity="0.846" filter="url(#b1)"/>
<rect x="1461.7" y="251.2" width="54.0" height="15.5" rx="7.8" fill="#000" fill-opacity="0.258" filter="url(#b6)"/>
<rect x="1464.7" y="254.5" width="48.0" height="9.0" rx="6.3" ry="4.5" fill="#000" fill-opacity="0.806" filter="url(#b4)"/>
<rect x="1533.6" y="254.4" width="54.0" height="17.0" rx="8.5" fill="#000" fill-opacity="0.320" filter="url(#b5)"/>
<rect x="1536.6" y="257.9" width="48.0" height="10.0" rx="7.0" ry="5.0" fill="#000" fill-opacity="1.000" filter="url(#b4)"/>
<rect x="1605.6" y="254.7" width="54.0" height="14.0" rx="7.0" fill="#000" fill-opacity="0.296" filter="url(#b3)"/>
<rect x="1608.6" y="257.7" width="48.0" height="8.0" rx="5.6" ry="4.0" fill="#000" fill-opacity="0.924" filter="url(#b4)"/>
<rect x="1679.0" y="256.2" width="52.0" height="15.5" rx="7.8" fill="#000" fill-opacity="0.320" filter="url(#b6)"/>
<rect x="1682.0" y="259.5" width="46.0" height="9.0" rx="6.3" ry="4.5" fill="#000" fill-opacity="1.000" filter="url(#b4)"/>
<rect x="1745.7" y="256.4" width="56.0" height="16.2" rx="8.1" fill="#000" fill-opacity="0.320" filter="url(#b5)"/>
<rect x="1748.7" y="259.8" width="50.0" height="9.5" rx="6.6" ry="4.8" fill="#000" fill-opacity="1.000" filter="url(#b4)"/>
<rect x="1817.5" y="255.4" width="57.0" height="16.2" rx="8.1" fill="#000" fill-opacity="0.320" filter="url(#b5)"/>
<rect x="1820.5" y="258.8" width="51.0" height="9.5" rx="6.6" ry="4.8" fill="#000" fill-opacity="1.000" filter="url(#b4)"/>
<rect x="1891.0" y="252.9" width="57.0" height="15.5" rx="7.8" fill="#000" fill-opacity="0.308" filter="url(#b6)" transform="rotate(-4.32 1919.5 260.6)"/>
<rect x="1894.0" y="256.1" width="51.0" height="9.0" rx="6.3" ry="4.5" fill="#000" fill-opacity="0.962" filter="url(#b4)" transform="rotate(-4.32 1919.5 260.6)"/>
<rect x="1390.4" y="232.5" width="52.0" height="11.0" rx="5.5" fill="#000" fill-opacity="0.077" filter="url(#b12)"/>
<rect x="1393.4" y="235.0" width="46.0" height="6.0" rx="4.2" ry="3.0" fill="#000" fill-opacity="0.241" filter="url(#b8)"/>
<rect x="1462.7" y="238.5" width="52.0" height="11.0" rx="5.5" fill="#000" fill-opacity="0.057" filter="url(#b12)"/>
<rect x="1465.7" y="241.0" width="46.0" height="6.0" rx="4.2" ry="3.0" fill="#000" fill-opacity="0.178" filter="url(#b8)"/>
<rect x="1534.6" y="240.2" width="52.0" height="11.0" rx="5.5" fill="#000" fill-opacity="0.065" filter="url(#b12)"/>
<rect x="1537.6" y="242.7" width="46.0" height="6.0" rx="4.2" ry="3.0" fill="#000" fill-opacity="0.204" filter="url(#b8)"/>
<rect x="1606.6" y="239.5" width="52.0" height="11.0" rx="5.5" fill="#000" fill-opacity="0.039" filter="url(#b12)"/>
<rect x="1609.6" y="242.0" width="46.0" height="6.0" rx="4.2" ry="3.0" fill="#000" fill-opacity="0.121" filter="url(#b8)"/>
<rect x="1680.0" y="243.2" width="50.0" height="9.5" rx="4.8" fill="#000" fill-opacity="0.057" filter="url(#b8)"/>
<rect x="1683.0" y="245.5" width="44.0" height="5.0" rx="3.5" ry="2.5" fill="#000" fill-opacity="0.178" filter="url(#b8)"/>
</g>
<rect x="1382.5" y="230.4" width="578.0" height="52.5" fill="none" stroke="#3a3a3a" stroke-width="1.5"/>
<text x="1372.9" y="266.0" font-size="21" text-anchor="end">p-AKT</text>
<rect x="1382.5" y="290.5" width="578.0" height="52.7" fill="#f9f9f9"/>
<clipPath id="cl14"><rect x="1382.5" y="290.5" width="578.0" height="52.7"/></clipPath>
<g clip-path="url(#cl14)">
<rect x="1388.0" y="297.1" width="63.0" height="17.8" rx="8.9" fill="#000" fill-opacity="0.258" filter="url(#b5)"/>
<rect x="1391.0" y="300.8" width="57.0" height="10.5" rx="7.3" ry="5.2" fill="#000" fill-opacity="0.806" filter="url(#b1)"/>
<rect x="1460.7" y="302.5" width="62.0" height="17.0" rx="8.5" fill="#000" fill-opacity="0.245" filter="url(#b5)"/>
<rect x="1463.7" y="306.0" width="56.0" height="10.0" rx="7.0" ry="5.0" fill="#000" fill-opacity="0.765" filter="url(#b4)"/>
<rect x="1535.8" y="307.5" width="58.0" height="14.0" rx="7.0" fill="#000" fill-opacity="0.190" filter="url(#b3)"/>
<rect x="1538.8" y="310.5" width="52.0" height="8.0" rx="5.6" ry="4.0" fill="#000" fill-opacity="0.595" filter="url(#b4)"/>
<rect x="1605.3" y="308.3" width="63.0" height="14.8" rx="7.4" fill="#000" fill-opacity="0.258" filter="url(#b6)"/>
<rect x="1608.3" y="311.4" width="57.0" height="8.5" rx="5.9" ry="4.2" fill="#000" fill-opacity="0.806" filter="url(#b4)"/>
<rect x="1674.3" y="310.3" width="64.0" height="17.0" rx="8.5" fill="#000" fill-opacity="0.320" filter="url(#b5)"/>
<rect x="1677.3" y="313.8" width="58.0" height="10.0" rx="7.0" ry="5.0" fill="#000" fill-opacity="1.000" filter="url(#b4)"/>
<rect x="1740.3" y="309.9" width="73.0" height="17.0" rx="8.5" fill="#000" fill-opacity="0.320" filter="url(#b5)"/>
<rect x="1743.3" y="313.4" width="67.0" height="10.0" rx="7.0" ry="5.0" fill="#000" fill-opacity="1.000" filter="url(#b4)"/>
<rect x="1816.0" y="309.9" width="66.0" height="15.5" rx="7.8" fill="#000" fill-opacity="0.308" filter="url(#b6)"/>
<rect x="1819.0" y="313.1" width="60.0" height="9.0" rx="6.3" ry="4.5" fill="#000" fill-opacity="0.962" filter="url(#b4)"/>
<rect x="1886.8" y="307.4" width="67.0" height="16.2" rx="8.1" fill="#000" fill-opacity="0.308" filter="url(#b5)"/>
<rect x="1889.8" y="310.8" width="61.0" height="9.5" rx="6.6" ry="4.8" fill="#000" fill-opacity="0.962" filter="url(#b4)"/>
</g>
<rect x="1382.5" y="290.5" width="578.0" height="52.7" fill="none" stroke="#3a3a3a" stroke-width="1.5"/>
<text x="1372.9" y="323.0" font-size="21" text-anchor="end">AKT</text>
<rect x="1382.5" y="350.4" width="578.0" height="53.7" fill="#f9f9f9"/>
<clipPath id="cl15"><rect x="1382.5" y="350.4" width="578.0" height="53.7"/></clipPath>
<g clip-path="url(#cl15)">
<rect x="1391.5" y="362.6" width="62.0" height="20.0" rx="10.0" fill="#000" fill-opacity="0.271" filter="url(#b7)"/>
<rect x="1394.5" y="366.6" width="56.0" height="12.0" rx="8.4" ry="6.0" fill="#000" fill-opacity="0.846" filter="url(#b1)"/>
<rect x="1460.2" y="367.0" width="65.0" height="20.0" rx="10.0" fill="#000" fill-opacity="0.258" filter="url(#b7)"/>
<rect x="1463.2" y="371.0" width="59.0" height="12.0" rx="8.4" ry="6.0" fill="#000" fill-opacity="0.806" filter="url(#b1)"/>
<rect x="1530.3" y="368.2" width="65.0" height="20.8" rx="10.4" fill="#000" fill-opacity="0.308" filter="url(#b7)"/>
<rect x="1533.3" y="372.4" width="59.0" height="12.5" rx="8.8" ry="6.2" fill="#000" fill-opacity="0.962" filter="url(#b1)"/>
<rect x="1600.5" y="367.9" width="65.0" height="21.5" rx="10.8" fill="#000" fill-opacity="0.320" filter="url(#b7)"/>
<rect x="1603.5" y="372.1" width="59.0" height="13.0" rx="9.1" ry="6.5" fill="#000" fill-opacity="1.000" filter="url(#b1)"/>
<rect x="1672.0" y="368.6" width="62.0" height="18.5" rx="9.2" fill="#000" fill-opacity="0.308" filter="url(#b0)"/>
<rect x="1675.0" y="372.3" width="56.0" height="11.0" rx="7.7" ry="5.5" fill="#000" fill-opacity="0.962" filter="url(#b1)"/>
<rect x="1739.3" y="370.1" width="68.0" height="18.5" rx="9.2" fill="#000" fill-opacity="0.245" filter="url(#b0)"/>
<rect x="1742.3" y="373.8" width="62.0" height="11.0" rx="7.7" ry="5.5" fill="#000" fill-opacity="0.765" filter="url(#b1)"/>
<rect x="1813.9" y="367.1" width="65.0" height="18.5" rx="9.2" fill="#000" fill-opacity="0.296" filter="url(#b0)"/>
<rect x="1816.9" y="370.8" width="59.0" height="11.0" rx="7.7" ry="5.5" fill="#000" fill-opacity="0.924" filter="url(#b1)"/>
<rect x="1884.0" y="364.9" width="68.0" height="18.5" rx="9.2" fill="#000" fill-opacity="0.308" filter="url(#b0)"/>
<rect x="1887.0" y="368.7" width="62.0" height="11.0" rx="7.7" ry="5.5" fill="#000" fill-opacity="0.962" filter="url(#b1)"/>
</g>
<rect x="1382.5" y="350.4" width="578.0" height="53.7" fill="none" stroke="#3a3a3a" stroke-width="1.5"/>
<text x="1372.9" y="383.0" font-size="21" text-anchor="end">GAPDH</text>
<text x="1414.6" y="485.0" font-size="21.5" text-anchor="middle">CTR</text>
<text x="1487.0" y="485.0" font-size="21.5" text-anchor="middle">FULV</text>
<text x="1557.5" y="485.0" font-size="21.5" text-anchor="middle">STS</text>
<text x="1631.8" y="460.0" font-size="21.5" text-anchor="middle">STS+</text>
<text x="1631.8" y="485.0" font-size="21.5" text-anchor="middle">FULV</text>
<text x="1697.9" y="485.0" font-size="21.5" text-anchor="middle">CTR</text>
<text x="1772.0" y="485.0" font-size="21.5" text-anchor="middle">FULV</text>
<text x="1845.0" y="485.0" font-size="21.5" text-anchor="middle">STS</text>
<text x="1918.2" y="460.0" font-size="21.5" text-anchor="middle">STS+</text>
<text x="1918.2" y="485.0" font-size="21.5" text-anchor="middle">FULV</text>
<rect x="1382.5" y="494.3" width="578.0" height="53.1" fill="#f9f9f9"/>
<clipPath id="cl16"><rect x="1382.5" y="494.3" width="578.0" height="53.1"/></clipPath>
<g clip-path="url(#cl16)">
<rect x="1389.5" y="509.0" width="56.0" height="15.5" rx="7.8" fill="#000" fill-opacity="0.283" filter="url(#b6)"/>
<rect x="1392.5" y="512.3" width="50.0" height="9.0" rx="6.3" ry="4.5" fill="#000" fill-opacity="0.885" filter="url(#b4)"/>
<rect x="1463.8" y="512.1" width="54.5" height="15.5" rx="7.8" fill="#000" fill-opacity="0.308" filter="url(#b6)"/>
<rect x="1466.8" y="515.4" width="48.5" height="9.0" rx="6.3" ry="4.5" fill="#000" fill-opacity="0.962" filter="url(#b4)"/>
<rect x="1535.8" y="512.8" width="54.5" height="14.8" rx="7.4" fill="#000" fill-opacity="0.320" filter="url(#b6)"/>
<rect x="1538.8" y="516.0" width="48.5" height="8.5" rx="5.9" ry="4.2" fill="#000" fill-opacity="1.000" filter="url(#b4)"/>
<rect x="1608.6" y="512.1" width="58.0" height="17.0" rx="8.5" fill="#000" fill-opacity="0.320" filter="url(#b5)" transform="rotate(3.18 1637.6 520.6)"/>
<rect x="1611.6" y="515.6" width="52.0" height="10.0" rx="7.0" ry="5.0" fill="#000" fill-opacity="1.000" filter="url(#b4)" transform="rotate(3.18 1637.6 520.6)"/>
<rect x="1682.0" y="512.5" width="52.0" height="12.5" rx="6.2" fill="#000" fill-opacity="0.204" filter="url(#b3)"/>
<rect x="1685.0" y="515.3" width="46.0" height="7.0" rx="4.9" ry="3.5" fill="#000" fill-opacity="0.639" filter="url(#b4)"/>
<rect x="1754.0" y="511.6" width="54.5" height="11.8" rx="5.9" fill="#000" fill-opacity="0.258" filter="url(#b12)"/>
<rect x="1757.0" y="514.2" width="48.5" height="6.5" rx="4.5" ry="3.2" fill="#000" fill-opacity="0.806" filter="url(#b4)"/>
<rect x="1826.8" y="513.6" width="54.5" height="11.0" rx="5.5" fill="#000" fill-opacity="0.204" filter="url(#b12)"/>
<rect x="1829.8" y="516.1" width="48.5" height="6.0" rx="4.2" ry="3.0" fill="#000" fill-opacity="0.639" filter="url(#b4)"/>
<rect x="1897.9" y="512.4" width="57.0" height="11.8" rx="5.9" fill="#000" fill-opacity="0.204" filter="url(#b12)"/>
<rect x="1900.9" y="515.0" width="51.0" height="6.5" rx="4.5" ry="3.2" fill="#000" fill-opacity="0.639" filter="url(#b4)"/>
<rect x="1389.5" y="533.5" width="56.0" height="12.5" rx="6.2" fill="#000" fill-opacity="0.113" filter="url(#b3)"/>
<rect x="1392.5" y="536.2" width="50.0" height="7.0" rx="4.9" ry="3.5" fill="#000" fill-opacity="0.354" filter="url(#b8)"/>
<rect x="1463.8" y="533.5" width="54.5" height="14.0" rx="7.0" fill="#000" fill-opacity="0.130" filter="url(#b3)"/>
<rect x="1466.8" y="536.5" width="48.5" height="8.0" rx="5.6" ry="4.0" fill="#000" fill-opacity="0.405" filter="url(#b8)"/>
<rect x="1535.8" y="534.5" width="54.5" height="14.0" rx="7.0" fill="#000" fill-opacity="0.113" filter="url(#b3)"/>
<rect x="1538.8" y="537.5" width="48.5" height="8.0" rx="5.6" ry="4.0" fill="#000" fill-opacity="0.354" filter="url(#b8)"/>
<rect x="1608.6" y="536.8" width="58.0" height="12.5" rx="6.2" fill="#000" fill-opacity="0.130" filter="url(#b3)"/>
<rect x="1611.6" y="539.5" width="52.0" height="7.0" rx="4.9" ry="3.5" fill="#000" fill-opacity="0.405" filter="url(#b8)"/>
<rect x="1682.0" y="537.2" width="52.0" height="9.5" rx="4.8" fill="#000" fill-opacity="0.130" filter="url(#b8)"/>
<rect x="1685.0" y="539.5" width="46.0" height="5.0" rx="3.5" ry="2.5" fill="#000" fill-opacity="0.405" filter="url(#b8)"/>
<rect x="1754.0" y="537.5" width="54.5" height="9.5" rx="4.8" fill="#000" fill-opacity="0.130" filter="url(#b8)"/>
<rect x="1757.0" y="539.7" width="48.5" height="5.0" rx="3.5" ry="2.5" fill="#000" fill-opacity="0.405" filter="url(#b8)"/>
<rect x="1826.8" y="536.8" width="54.5" height="9.5" rx="4.8" fill="#000" fill-opacity="0.130" filter="url(#b8)"/>
<rect x="1829.8" y="539.0" width="48.5" height="5.0" rx="3.5" ry="2.5" fill="#000" fill-opacity="0.405" filter="url(#b8)"/>
<rect x="1897.9" y="536.8" width="57.0" height="9.5" rx="4.8" fill="#000" fill-opacity="0.113" filter="url(#b8)"/>
<rect x="1900.9" y="539.0" width="51.0" height="5.0" rx="3.5" ry="2.5" fill="#000" fill-opacity="0.354" filter="url(#b8)"/>
<rect x="1682.0" y="500.1" width="52.0" height="9.5" rx="4.8" fill="#000" fill-opacity="0.130" filter="url(#b8)"/>
<rect x="1685.0" y="502.4" width="46.0" height="5.0" rx="3.5" ry="2.5" fill="#000" fill-opacity="0.405" filter="url(#b8)"/>
<rect x="1754.0" y="497.9" width="54.5" height="9.5" rx="4.8" fill="#000" fill-opacity="0.130" filter="url(#b8)"/>
<rect x="1757.0" y="500.1" width="48.5" height="5.0" rx="3.5" ry="2.5" fill="#000" fill-opacity="0.405" filter="url(#b8)"/>
<rect x="1826.8" y="500.6" width="54.5" height="9.5" rx="4.8" fill="#000" fill-opacity="0.130" filter="url(#b8)"/>
<rect x="1829.8" y="502.8" width="48.5" height="5.0" rx="3.5" ry="2.5" fill="#000" fill-opacity="0.405" filter="url(#b8)"/>
<rect x="1897.9" y="497.1" width="57.0" height="12.5" rx="6.2" fill="#000" fill-opacity="0.077" filter="url(#b3)"/>
<rect x="1900.9" y="499.9" width="51.0" height="7.0" rx="4.9" ry="3.5" fill="#000" fill-opacity="0.241" filter="url(#b8)"/>
<rect x="1682.0" y="524.0" width="52.0" height="9.5" rx="4.8" fill="#000" fill-opacity="0.096" filter="url(#b8)"/>
<rect x="1685.0" y="526.3" width="46.0" height="5.0" rx="3.5" ry="2.5" fill="#000" fill-opacity="0.299" filter="url(#b8)"/>
<rect x="1754.0" y="522.8" width="54.5" height="9.5" rx="4.8" fill="#000" fill-opacity="0.096" filter="url(#b8)"/>
<rect x="1757.0" y="525.0" width="48.5" height="5.0" rx="3.5" ry="2.5" fill="#000" fill-opacity="0.299" filter="url(#b8)"/>
<rect x="1826.8" y="524.2" width="54.5" height="9.5" rx="4.8" fill="#000" fill-opacity="0.096" filter="url(#b8)"/>
<rect x="1829.8" y="526.5" width="48.5" height="5.0" rx="3.5" ry="2.5" fill="#000" fill-opacity="0.299" filter="url(#b8)"/>
<rect x="1897.9" y="524.2" width="57.0" height="9.5" rx="4.8" fill="#000" fill-opacity="0.077" filter="url(#b8)"/>
<rect x="1900.9" y="526.5" width="51.0" height="5.0" rx="3.5" ry="2.5" fill="#000" fill-opacity="0.241" filter="url(#b8)"/>
<rect x="1390.5" y="486.0" width="54.0" height="68.0" rx="27.0" fill="#000" fill-opacity="0.065" filter="url(#b13)"/>
<rect x="1393.5" y="498.0" width="48.0" height="44.0" rx="24.0" ry="22.0" fill="#000" fill-opacity="0.204" filter="url(#b9)"/>
<rect x="1465.0" y="486.0" width="52.0" height="68.0" rx="26.0" fill="#000" fill-opacity="0.103" filter="url(#b13)"/>
<rect x="1468.0" y="498.0" width="46.0" height="44.0" rx="23.0" ry="22.0" fill="#000" fill-opacity="0.321" filter="url(#b9)"/>
<rect x="1537.0" y="486.0" width="52.0" height="68.0" rx="26.0" fill="#000" fill-opacity="0.077" filter="url(#b13)"/>
<rect x="1540.0" y="498.0" width="46.0" height="44.0" rx="23.0" ry="22.0" fill="#000" fill-opacity="0.241" filter="url(#b9)"/>
<rect x="1609.6" y="486.0" width="56.0" height="68.0" rx="28.0" fill="#000" fill-opacity="0.065" filter="url(#b13)"/>
<rect x="1612.6" y="498.0" width="50.0" height="44.0" rx="25.0" ry="22.0" fill="#000" fill-opacity="0.204" filter="url(#b9)"/>
<rect x="1683.0" y="486.0" width="50.0" height="68.0" rx="25.0" fill="#000" fill-opacity="0.048" filter="url(#b13)"/>
<rect x="1686.0" y="498.0" width="44.0" height="44.0" rx="22.0" ry="22.0" fill="#000" fill-opacity="0.150" filter="url(#b9)"/>
<rect x="1755.3" y="486.0" width="52.0" height="68.0" rx="26.0" fill="#000" fill-opacity="0.048" filter="url(#b13)"/>
<rect x="1758.3" y="498.0" width="46.0" height="44.0" rx="23.0" ry="22.0" fill="#000" fill-opacity="0.150" filter="url(#b9)"/>
<rect x="1828.0" y="486.0" width="52.0" height="68.0" rx="26.0" fill="#000" fill-opacity="0.048" filter="url(#b13)"/>
<rect x="1831.0" y="498.0" width="46.0" height="44.0" rx="23.0" ry="22.0" fill="#000" fill-opacity="0.150" filter="url(#b9)"/>
<rect x="1899.4" y="486.0" width="54.0" height="68.0" rx="27.0" fill="#000" fill-opacity="0.048" filter="url(#b13)"/>
<rect x="1902.4" y="498.0" width="48.0" height="44.0" rx="24.0" ry="22.0" fill="#000" fill-opacity="0.150" filter="url(#b9)"/>
</g>
<rect x="1382.5" y="494.3" width="578.0" height="53.1" fill="none" stroke="#3a3a3a" stroke-width="1.5"/>
<text x="1372.9" y="527.0" font-size="21" text-anchor="end">EGR1</text>
<rect x="1382.5" y="555.8" width="578.0" height="52.8" fill="#f9f9f9"/>
<clipPath id="cl17"><rect x="1382.5" y="555.8" width="578.0" height="52.8"/></clipPath>
<g clip-path="url(#cl17)">
<rect x="1390.2" y="574.4" width="54.5" height="17.8" rx="8.9" fill="#000" fill-opacity="0.320" filter="url(#b5)"/>
<rect x="1393.2" y="578.0" width="48.5" height="10.5" rx="7.3" ry="5.2" fill="#000" fill-opacity="1.000" filter="url(#b1)"/>
<rect x="1460.0" y="576.8" width="56.0" height="17.0" rx="8.5" fill="#000" fill-opacity="0.320" filter="url(#b5)"/>
<rect x="1463.0" y="580.3" width="50.0" height="10.0" rx="7.0" ry="5.0" fill="#000" fill-opacity="1.000" filter="url(#b4)"/>
<rect x="1535.6" y="579.5" width="54.0" height="15.5" rx="7.8" fill="#000" fill-opacity="0.296" filter="url(#b6)"/>
<rect x="1538.6" y="582.7" width="48.0" height="9.0" rx="6.3" ry="4.5" fill="#000" fill-opacity="0.924" filter="url(#b4)"/>
<rect x="1606.0" y="574.9" width="54.5" height="20.0" rx="10.0" fill="#000" fill-opacity="0.320" filter="url(#b7)"/>
<rect x="1609.0" y="578.9" width="48.5" height="12.0" rx="8.4" ry="6.0" fill="#000" fill-opacity="1.000" filter="url(#b1)"/>
<rect x="1676.7" y="579.5" width="54.0" height="15.5" rx="7.8" fill="#000" fill-opacity="0.320" filter="url(#b6)"/>
<rect x="1679.7" y="582.7" width="48.0" height="9.0" rx="6.3" ry="4.5" fill="#000" fill-opacity="1.000" filter="url(#b4)"/>
<rect x="1748.7" y="578.6" width="56.0" height="15.5" rx="7.8" fill="#000" fill-opacity="0.296" filter="url(#b6)"/>
<rect x="1751.7" y="581.9" width="50.0" height="9.0" rx="6.3" ry="4.5" fill="#000" fill-opacity="0.924" filter="url(#b4)"/>
<rect x="1822.2" y="580.9" width="56.0" height="12.5" rx="6.2" fill="#000" fill-opacity="0.232" filter="url(#b3)"/>
<rect x="1825.2" y="583.6" width="50.0" height="7.0" rx="4.9" ry="3.5" fill="#000" fill-opacity="0.724" filter="url(#b4)"/>
<rect x="1895.0" y="576.1" width="58.0" height="12.5" rx="6.2" fill="#000" fill-opacity="0.204" filter="url(#b3)"/>
<rect x="1898.0" y="578.9" width="52.0" height="7.0" rx="4.9" ry="3.5" fill="#000" fill-opacity="0.639" filter="url(#b4)"/>
</g>
<rect x="1382.5" y="555.8" width="578.0" height="52.8" fill="none" stroke="#3a3a3a" stroke-width="1.5"/>
<text x="1372.9" y="589.5" font-size="21" text-anchor="end">PTEN</text>
<rect x="1382.5" y="616.9" width="578.0" height="52.8" fill="#f9f9f9"/>
<clipPath id="cl18"><rect x="1382.5" y="616.9" width="578.0" height="52.8"/></clipPath>
<g clip-path="url(#cl18)">
<rect x="1392.4" y="628.4" width="54.0" height="23.8" rx="11.9" fill="#000" fill-opacity="0.320" filter="url(#b9)"/>
<rect x="1395.4" y="633.0" width="48.0" height="14.5" rx="10.1" ry="7.2" fill="#000" fill-opacity="1.000" filter="url(#b1)"/>
<rect x="1461.3" y="633.3" width="54.0" height="17.0" rx="8.5" fill="#000" fill-opacity="0.283" filter="url(#b5)"/>
<rect x="1464.3" y="636.8" width="48.0" height="10.0" rx="7.0" ry="5.0" fill="#000" fill-opacity="0.885" filter="url(#b4)"/>
<rect x="1532.5" y="634.4" width="53.0" height="19.2" rx="9.6" fill="#000" fill-opacity="0.308" filter="url(#b0)"/>
<rect x="1535.5" y="638.2" width="47.0" height="11.5" rx="8.0" ry="5.8" fill="#000" fill-opacity="0.962" filter="url(#b1)"/>
<rect x="1603.0" y="638.0" width="53.0" height="14.0" rx="7.0" fill="#000" fill-opacity="0.204" filter="url(#b3)"/>
<rect x="1606.0" y="641.0" width="47.0" height="8.0" rx="5.6" ry="4.0" fill="#000" fill-opacity="0.639" filter="url(#b4)"/>
<rect x="1673.8" y="634.5" width="51.5" height="17.0" rx="8.5" fill="#000" fill-opacity="0.258" filter="url(#b5)"/>
<rect x="1676.8" y="638.0" width="45.5" height="10.0" rx="7.0" ry="5.0" fill="#000" fill-opacity="0.806" filter="url(#b4)"/>
<rect x="1741.0" y="635.5" width="56.0" height="17.0" rx="8.5" fill="#000" fill-opacity="0.245" filter="url(#b5)"/>
<rect x="1744.0" y="639.0" width="50.0" height="10.0" rx="7.0" ry="5.0" fill="#000" fill-opacity="0.765" filter="url(#b4)"/>
<rect x="1812.0" y="635.5" width="54.0" height="17.0" rx="8.5" fill="#000" fill-opacity="0.218" filter="url(#b5)"/>
<rect x="1815.0" y="639.0" width="48.0" height="10.0" rx="7.0" ry="5.0" fill="#000" fill-opacity="0.682" filter="url(#b4)"/>
<rect x="1882.0" y="631.5" width="54.0" height="17.0" rx="8.5" fill="#000" fill-opacity="0.161" filter="url(#b5)" transform="rotate(-3.43 1909.0 640.0)"/>
<rect x="1885.0" y="635.0" width="48.0" height="10.0" rx="7.0" ry="5.0" fill="#000" fill-opacity="0.503" filter="url(#b4)" transform="rotate(-3.43 1909.0 640.0)"/>
</g>
<rect x="1382.5" y="616.9" width="578.0" height="52.8" fill="none" stroke="#3a3a3a" stroke-width="1.5"/>
<text x="1372.9" y="652.5" font-size="21" text-anchor="end">p-AKT</text>
<rect x="1382.5" y="678.9" width="578.0" height="52.8" fill="#f9f9f9"/>
<clipPath id="cl19"><rect x="1382.5" y="678.9" width="578.0" height="52.8"/></clipPath>
<g clip-path="url(#cl19)">
<rect x="1393.0" y="698.0" width="60.0" height="20.0" rx="10.0" fill="#000" fill-opacity="0.258" filter="url(#b7)"/>
<rect x="1396.0" y="702.0" width="54.0" height="12.0" rx="8.4" ry="6.0" fill="#000" fill-opacity="0.806" filter="url(#b1)"/>
<rect x="1459.0" y="699.1" width="67.0" height="23.0" rx="11.5" fill="#000" fill-opacity="0.283" filter="url(#b2)"/>
<rect x="1462.0" y="703.6" width="61.0" height="14.0" rx="9.8" ry="7.0" fill="#000" fill-opacity="0.885" filter="url(#b1)"/>
<rect x="1537.1" y="700.4" width="57.0" height="19.2" rx="9.6" fill="#000" fill-opacity="0.283" filter="url(#b0)"/>
<rect x="1540.1" y="704.2" width="51.0" height="11.5" rx="8.0" ry="5.8" fill="#000" fill-opacity="0.885" filter="url(#b1)"/>
<rect x="1602.8" y="699.8" width="64.0" height="18.5" rx="9.2" fill="#000" fill-opacity="0.283" filter="url(#b0)"/>
<rect x="1605.8" y="703.5" width="58.0" height="11.0" rx="7.7" ry="5.5" fill="#000" fill-opacity="0.885" filter="url(#b1)"/>
<rect x="1673.5" y="699.6" width="61.0" height="20.0" rx="10.0" fill="#000" fill-opacity="0.320" filter="url(#b7)"/>
<rect x="1676.5" y="703.6" width="55.0" height="12.0" rx="8.4" ry="6.0" fill="#000" fill-opacity="1.000" filter="url(#b1)"/>
<rect x="1742.0" y="698.6" width="68.0" height="20.8" rx="10.4" fill="#000" fill-opacity="0.320" filter="url(#b7)"/>
<rect x="1745.0" y="702.8" width="62.0" height="12.5" rx="8.8" ry="6.2" fill="#000" fill-opacity="1.000" filter="url(#b1)"/>
<rect x="1816.0" y="696.8" width="63.0" height="18.5" rx="9.2" fill="#000" fill-opacity="0.308" filter="url(#b0)" transform="rotate(-1.94 1847.5 706.0)"/>
<rect x="1819.0" y="700.5" width="57.0" height="11.0" rx="7.7" ry="5.5" fill="#000" fill-opacity="0.962" filter="url(#b1)" transform="rotate(-1.94 1847.5 706.0)"/>
<rect x="1885.8" y="696.2" width="65.0" height="18.5" rx="9.2" fill="#000" fill-opacity="0.308" filter="url(#b0)" transform="rotate(-1.88 1918.3 705.5)"/>
<rect x="1888.8" y="700.0" width="59.0" height="11.0" rx="7.7" ry="5.5" fill="#000" fill-opacity="0.962" filter="url(#b1)" transform="rotate(-1.88 1918.3 705.5)"/>
</g>
<rect x="1382.5" y="678.9" width="578.0" height="52.8" fill="none" stroke="#3a3a3a" stroke-width="1.5"/>
<text x="1372.9" y="715.5" font-size="21" text-anchor="end">AKT</text>
<rect x="1382.5" y="739.5" width="578.0" height="52.2" fill="#f9f9f9"/>
<clipPath id="cl20"><rect x="1382.5" y="739.5" width="578.0" height="52.2"/></clipPath>
<g clip-path="url(#cl20)">
<rect x="1390.0" y="757.9" width="68.0" height="16.2" rx="8.1" fill="#000" fill-opacity="0.296" filter="url(#b5)"/>
<rect x="1393.0" y="761.2" width="62.0" height="9.5" rx="6.6" ry="4.8" fill="#000" fill-opacity="0.924" filter="url(#b4)"/>
<rect x="1458.5" y="758.2" width="71.0" height="16.2" rx="8.1" fill="#000" fill-opacity="0.301" filter="url(#b5)"/>
<rect x="1461.5" y="761.5" width="65.0" height="9.5" rx="6.6" ry="4.8" fill="#000" fill-opacity="0.939" filter="url(#b4)"/>
<rect x="1531.5" y="758.5" width="70.0" height="17.0" rx="8.5" fill="#000" fill-opacity="0.258" filter="url(#b5)"/>
<rect x="1534.5" y="762.0" width="64.0" height="10.0" rx="7.0" ry="5.0" fill="#000" fill-opacity="0.806" filter="url(#b4)"/>
<rect x="1607.5" y="758.5" width="61.0" height="17.0" rx="8.5" fill="#000" fill-opacity="0.258" filter="url(#b5)"/>
<rect x="1610.5" y="762.0" width="55.0" height="10.0" rx="7.0" ry="5.0" fill="#000" fill-opacity="0.806" filter="url(#b4)"/>
<rect x="1672.0" y="756.8" width="68.0" height="18.5" rx="9.2" fill="#000" fill-opacity="0.218" filter="url(#b0)"/>
<rect x="1675.0" y="760.5" width="62.0" height="11.0" rx="7.7" ry="5.5" fill="#000" fill-opacity="0.682" filter="url(#b1)"/>
<rect x="1746.8" y="754.9" width="65.0" height="17.0" rx="8.5" fill="#000" fill-opacity="0.258" filter="url(#b5)" transform="rotate(-2.82 1779.3 763.4)"/>
<rect x="1749.8" y="758.4" width="59.0" height="10.0" rx="7.0" ry="5.0" fill="#000" fill-opacity="0.806" filter="url(#b4)" transform="rotate(-2.82 1779.3 763.4)"/>
<rect x="1815.1" y="752.9" width="73.0" height="16.2" rx="8.1" fill="#000" fill-opacity="0.296" filter="url(#b5)" transform="rotate(-2.49 1851.6 761.0)"/>
<rect x="1818.1" y="756.2" width="67.0" height="9.5" rx="6.6" ry="4.8" fill="#000" fill-opacity="0.924" filter="url(#b4)" transform="rotate(-2.49 1851.6 761.0)"/>
<rect x="1886.8" y="749.3" width="70.0" height="17.0" rx="8.5" fill="#000" fill-opacity="0.320" filter="url(#b5)" transform="rotate(-2.60 1921.8 757.8)"/>
<rect x="1889.8" y="752.8" width="64.0" height="10.0" rx="7.0" ry="5.0" fill="#000" fill-opacity="1.000" filter="url(#b4)" transform="rotate(-2.60 1921.8 757.8)"/>
<rect x="1824.6" y="771.3" width="54.0" height="8.0" rx="4.0" fill="#000" fill-opacity="0.096" filter="url(#b8)"/>
<rect x="1827.6" y="773.3" width="48.0" height="4.0" rx="2.8" ry="2.0" fill="#000" fill-opacity="0.299" filter="url(#b8)"/>
<rect x="1894.8" y="771.3" width="54.0" height="8.0" rx="4.0" fill="#000" fill-opacity="0.103" filter="url(#b8)"/>
<rect x="1897.8" y="773.3" width="48.0" height="4.0" rx="2.8" ry="2.0" fill="#000" fill-opacity="0.321" filter="url(#b8)"/>
<rect x="1402.0" y="776.5" width="44.0" height="6.5" rx="3.2" fill="#000" fill-opacity="0.048" filter="url(#b8)"/>
<rect x="1405.0" y="778.3" width="38.0" height="3.0" rx="2.1" ry="1.5" fill="#000" fill-opacity="0.150" filter="url(#b8)"/>
<rect x="1616.0" y="776.5" width="44.0" height="6.5" rx="3.2" fill="#000" fill-opacity="0.048" filter="url(#b8)"/>
<rect x="1619.0" y="778.3" width="38.0" height="3.0" rx="2.1" ry="1.5" fill="#000" fill-opacity="0.150" filter="url(#b8)"/>
</g>
<rect x="1382.5" y="739.5" width="578.0" height="52.2" fill="none" stroke="#3a3a3a" stroke-width="1.5"/>
<text x="1372.9" y="772.0" font-size="21" text-anchor="end">GAPDH</text>
<text x="-1.5" y="728.0" font-size="33" font-weight="bold" fill="#000">d</text>
<line x1="212.2" y1="714.2" x2="246.9" y2="714.2" stroke="#0a0a0a" stroke-width="3.2"/>
<circle cx="229.4" cy="714.2" r="6.1" fill="#0a0a0a"/>
<text x="254.0" y="723.4" font-size="21">CTR-sh control</text>
<line x1="212.2" y1="758.4" x2="246.9" y2="758.4" stroke="#e8141e" stroke-width="3.2"/>
<rect x="222.5" y="751.5" width="13.8" height="13.8" fill="#e8141e"/>
<text x="254.0" y="767.6" font-size="21">CTR-sh STS</text>
<line x1="212.2" y1="803.5" x2="246.9" y2="803.5" stroke="#5096ee" stroke-width="3.2"/>
<path d="M229.4,796.4 L236.5,808.8 L222.3,808.8Z" fill="#5096ee"/>
<text x="254.0" y="812.7" font-size="21">EGR1-sh#2 control</text>
<line x1="212.2" y1="846.5" x2="246.9" y2="846.5" stroke="#f39020" stroke-width="3.2"/>
<path d="M229.4,853.6 L236.5,841.2 L222.3,841.2Z" fill="#f39020"/>
<text x="254.0" y="855.7" font-size="21">EGR1-sh#2 STS</text>
<line x1="104.4" y1="858.2" x2="104.4" y2="1086.7" stroke="#111" stroke-width="2.6"/>
<line x1="98.0" y1="1085.7" x2="396.0" y2="1085.7" stroke="#111" stroke-width="2.6"/>
<line x1="97.5" y1="1085.7" x2="104.4" y2="1085.7" stroke="#111" stroke-width="2.4"/>
<text x="95.5" y="1093.2" font-size="21" text-anchor="end">0</text>
<line x1="97.5" y1="1010.2" x2="104.4" y2="1010.2" stroke="#111" stroke-width="2.4"/>
<text x="95.5" y="1017.7" font-size="21" text-anchor="end">40</text>
<line x1="97.5" y1="934.7" x2="104.4" y2="934.7" stroke="#111" stroke-width="2.4"/>
<text x="95.5" y="942.2" font-size="21" text-anchor="end">80</text>
<line x1="97.5" y1="859.2" x2="104.4" y2="859.2" stroke="#111" stroke-width="2.4"/>
<text x="95.5" y="866.7" font-size="21" text-anchor="end">120</text>
<line x1="395.0" y1="1085.7" x2="395.0" y2="1091.7" stroke="#111" stroke-width="2.4"/>
<text x="103.9" y="1112.6" font-size="21" text-anchor="middle">0</text>
<text x="202.2" y="1112.6" font-size="21" text-anchor="middle">10</text>
<text x="296.9" y="1112.6" font-size="21" text-anchor="middle">20</text>
<text x="392.0" y="1112.6" font-size="21" text-anchor="middle">30</text>
<text x="248.8" y="1137.0" font-size="21" text-anchor="middle">FULV (µM)</text>
<text x="54.0" y="964.0" font-size="21" transform="rotate(-90 54.0 964.0)" text-anchor="middle">Viability (%)</text>
<polyline points="104.4,896.4 114.1,918.5 133.5,936.2 201.2,937.5 395.0,942.2" fill="none" stroke="#0a0a0a" stroke-width="2.4" stroke-linejoin="round"/>
<line x1="104.4" y1="904.5" x2="104.4" y2="888.3" stroke="#0a0a0a" stroke-width="2.2"/>
<line x1="99.9" y1="888.3" x2="108.9" y2="888.3" stroke="#0a0a0a" stroke-width="2.4"/>
<line x1="99.9" y1="904.5" x2="108.9" y2="904.5" stroke="#0a0a0a" stroke-width="2.4"/>
<line x1="114.1" y1="928.8" x2="114.1" y2="908.1" stroke="#0a0a0a" stroke-width="2.2"/>
<line x1="109.6" y1="908.1" x2="118.6" y2="908.1" stroke="#0a0a0a" stroke-width="2.4"/>
<line x1="109.6" y1="928.8" x2="118.6" y2="928.8" stroke="#0a0a0a" stroke-width="2.4"/>
<line x1="133.5" y1="940.0" x2="133.5" y2="932.4" stroke="#0a0a0a" stroke-width="2.2"/>
<line x1="129.0" y1="932.4" x2="138.0" y2="932.4" stroke="#0a0a0a" stroke-width="2.4"/>
<line x1="129.0" y1="940.0" x2="138.0" y2="940.0" stroke="#0a0a0a" stroke-width="2.4"/>
<line x1="201.2" y1="944.5" x2="201.2" y2="930.5" stroke="#0a0a0a" stroke-width="2.2"/>
<line x1="196.8" y1="930.5" x2="205.8" y2="930.5" stroke="#0a0a0a" stroke-width="2.4"/>
<line x1="196.8" y1="944.5" x2="205.8" y2="944.5" stroke="#0a0a0a" stroke-width="2.4"/>
<line x1="395.0" y1="947.9" x2="395.0" y2="936.6" stroke="#0a0a0a" stroke-width="2.2"/>
<line x1="390.5" y1="936.6" x2="399.5" y2="936.6" stroke="#0a0a0a" stroke-width="2.4"/>
<line x1="390.5" y1="947.9" x2="399.5" y2="947.9" stroke="#0a0a0a" stroke-width="2.4"/>
<circle cx="104.4" cy="896.4" r="5.3" fill="#0a0a0a"/>
<circle cx="114.1" cy="918.5" r="5.3" fill="#0a0a0a"/>
<circle cx="133.5" cy="936.2" r="5.3" fill="#0a0a0a"/>
<circle cx="201.2" cy="937.5" r="5.3" fill="#0a0a0a"/>
<circle cx="395.0" cy="942.2" r="5.3" fill="#0a0a0a"/>
<polyline points="104.4,897.0 114.1,896.0 133.5,915.8 201.2,904.5 395.0,896.0" fill="none" stroke="#5096ee" stroke-width="2.4" stroke-linejoin="round"/>
<line x1="133.5" y1="920.5" x2="133.5" y2="911.1" stroke="#5096ee" stroke-width="2.2"/>
<line x1="129.0" y1="911.1" x2="138.0" y2="911.1" stroke="#5096ee" stroke-width="2.4"/>
<line x1="129.0" y1="920.5" x2="138.0" y2="920.5" stroke="#5096ee" stroke-width="2.4"/>
<line x1="201.2" y1="912.1" x2="201.2" y2="897.0" stroke="#5096ee" stroke-width="2.2"/>
<line x1="196.8" y1="897.0" x2="205.8" y2="897.0" stroke="#5096ee" stroke-width="2.4"/>
<line x1="196.8" y1="912.1" x2="205.8" y2="912.1" stroke="#5096ee" stroke-width="2.4"/>
<line x1="395.0" y1="900.7" x2="395.0" y2="891.3" stroke="#5096ee" stroke-width="2.2"/>
<line x1="390.5" y1="891.3" x2="399.5" y2="891.3" stroke="#5096ee" stroke-width="2.4"/>
<line x1="390.5" y1="900.7" x2="399.5" y2="900.7" stroke="#5096ee" stroke-width="2.4"/>
<path d="M104.4,890.8 L110.6,901.6 L98.2,901.6Z" fill="#5096ee"/>
<path d="M114.1,889.8 L120.3,900.7 L107.9,900.7Z" fill="#5096ee"/>
<path d="M133.5,909.6 L139.7,920.5 L127.3,920.5Z" fill="#5096ee"/>
<path d="M201.2,898.3 L207.4,909.1 L195.1,909.1Z" fill="#5096ee"/>
<path d="M395.0,889.8 L401.2,900.7 L388.8,900.7Z" fill="#5096ee"/>
<polyline points="104.4,859.8 114.1,912.1 133.5,932.2 201.2,928.3 395.0,919.6" fill="none" stroke="#f39020" stroke-width="2.4" stroke-linejoin="round"/>
<line x1="104.4" y1="863.5" x2="104.4" y2="856.0" stroke="#f39020" stroke-width="2.2"/>
<line x1="99.9" y1="856.0" x2="108.9" y2="856.0" stroke="#f39020" stroke-width="2.4"/>
<line x1="99.9" y1="863.5" x2="108.9" y2="863.5" stroke="#f39020" stroke-width="2.4"/>
<line x1="114.1" y1="921.5" x2="114.1" y2="902.6" stroke="#f39020" stroke-width="2.2"/>
<line x1="109.6" y1="902.6" x2="118.6" y2="902.6" stroke="#f39020" stroke-width="2.4"/>
<line x1="109.6" y1="921.5" x2="118.6" y2="921.5" stroke="#f39020" stroke-width="2.4"/>
<line x1="133.5" y1="941.7" x2="133.5" y2="922.8" stroke="#f39020" stroke-width="2.2"/>
<line x1="129.0" y1="922.8" x2="138.0" y2="922.8" stroke="#f39020" stroke-width="2.4"/>
<line x1="129.0" y1="941.7" x2="138.0" y2="941.7" stroke="#f39020" stroke-width="2.4"/>
<line x1="201.2" y1="937.7" x2="201.2" y2="918.8" stroke="#f39020" stroke-width="2.2"/>
<line x1="196.8" y1="918.8" x2="205.8" y2="918.8" stroke="#f39020" stroke-width="2.4"/>
<line x1="196.8" y1="937.7" x2="205.8" y2="937.7" stroke="#f39020" stroke-width="2.4"/>
<line x1="395.0" y1="926.2" x2="395.0" y2="913.0" stroke="#f39020" stroke-width="2.2"/>
<line x1="390.5" y1="913.0" x2="399.5" y2="913.0" stroke="#f39020" stroke-width="2.4"/>
<line x1="390.5" y1="926.2" x2="399.5" y2="926.2" stroke="#f39020" stroke-width="2.4"/>
<path d="M104.4,866.0 L110.6,855.1 L98.2,855.1Z" fill="#f39020"/>
<path d="M114.1,918.3 L120.3,907.4 L107.9,907.4Z" fill="#f39020"/>
<path d="M133.5,938.4 L139.7,927.6 L127.3,927.6Z" fill="#f39020"/>
<path d="M201.2,934.5 L207.4,923.6 L195.1,923.6Z" fill="#f39020"/>
<path d="M395.0,925.8 L401.2,915.0 L388.8,915.0Z" fill="#f39020"/>
<polyline points="104.4,910.9 114.1,978.1 133.5,997.0 201.2,997.9 395.0,1006.4" fill="none" stroke="#e8141e" stroke-width="2.4" stroke-linejoin="round"/>
<line x1="104.4" y1="916.6" x2="104.4" y2="905.3" stroke="#e8141e" stroke-width="2.2"/>
<line x1="99.9" y1="905.3" x2="108.9" y2="905.3" stroke="#e8141e" stroke-width="2.4"/>
<line x1="99.9" y1="916.6" x2="108.9" y2="916.6" stroke="#e8141e" stroke-width="2.4"/>
<line x1="114.1" y1="983.8" x2="114.1" y2="972.5" stroke="#e8141e" stroke-width="2.2"/>
<line x1="109.6" y1="972.5" x2="118.6" y2="972.5" stroke="#e8141e" stroke-width="2.4"/>
<line x1="109.6" y1="983.8" x2="118.6" y2="983.8" stroke="#e8141e" stroke-width="2.4"/>
<line x1="133.5" y1="998.9" x2="133.5" y2="995.1" stroke="#e8141e" stroke-width="2.2"/>
<line x1="129.0" y1="995.1" x2="138.0" y2="995.1" stroke="#e8141e" stroke-width="2.4"/>
<line x1="129.0" y1="998.9" x2="138.0" y2="998.9" stroke="#e8141e" stroke-width="2.4"/>
<line x1="201.2" y1="999.8" x2="201.2" y2="996.0" stroke="#e8141e" stroke-width="2.2"/>
<line x1="196.8" y1="996.0" x2="205.8" y2="996.0" stroke="#e8141e" stroke-width="2.4"/>
<line x1="196.8" y1="999.8" x2="205.8" y2="999.8" stroke="#e8141e" stroke-width="2.4"/>
<line x1="395.0" y1="1012.1" x2="395.0" y2="1000.8" stroke="#e8141e" stroke-width="2.2"/>
<line x1="390.5" y1="1000.8" x2="399.5" y2="1000.8" stroke="#e8141e" stroke-width="2.4"/>
<line x1="390.5" y1="1012.1" x2="399.5" y2="1012.1" stroke="#e8141e" stroke-width="2.4"/>
<rect x="98.4" y="904.9" width="12.0" height="12.0" fill="#e8141e"/>
<rect x="108.1" y="972.1" width="12.0" height="12.0" fill="#e8141e"/>
<rect x="127.5" y="991.0" width="12.0" height="12.0" fill="#e8141e"/>
<rect x="195.2" y="991.9" width="12.0" height="12.0" fill="#e8141e"/>
<rect x="389.0" y="1000.4" width="12.0" height="12.0" fill="#e8141e"/>
<line x1="106.6" y1="1150.0" x2="106.6" y2="1380.8" stroke="#111" stroke-width="2.6"/>
<line x1="100.0" y1="1379.8" x2="398.4" y2="1379.8" stroke="#111" stroke-width="2.6"/>
<line x1="100.0" y1="1379.8" x2="106.6" y2="1379.8" stroke="#111" stroke-width="2.4"/>
<line x1="99.5" y1="1303.5" x2="106.6" y2="1303.5" stroke="#111" stroke-width="2.4"/>
<text x="97.5" y="1311.0" font-size="21" text-anchor="end">40</text>
<line x1="99.5" y1="1227.2" x2="106.6" y2="1227.2" stroke="#111" stroke-width="2.4"/>
<text x="97.5" y="1234.7" font-size="21" text-anchor="end">80</text>
<line x1="99.5" y1="1151.0" x2="106.6" y2="1151.0" stroke="#111" stroke-width="2.4"/>
<text x="97.5" y="1158.5" font-size="21" text-anchor="end">120</text>
<line x1="106.6" y1="1379.8" x2="106.6" y2="1386.8" stroke="#111" stroke-width="2.4"/>
<text x="108.6" y="1408.7" font-size="21" text-anchor="middle">0</text>
<line x1="164.8" y1="1379.8" x2="164.8" y2="1386.8" stroke="#111" stroke-width="2.4"/>
<text x="166.8" y="1408.7" font-size="21" text-anchor="middle">2</text>
<line x1="222.9" y1="1379.8" x2="222.9" y2="1386.8" stroke="#111" stroke-width="2.4"/>
<text x="224.9" y="1408.7" font-size="21" text-anchor="middle">4</text>
<line x1="281.1" y1="1379.8" x2="281.1" y2="1386.8" stroke="#111" stroke-width="2.4"/>
<text x="283.1" y="1408.7" font-size="21" text-anchor="middle">6</text>
<line x1="339.2" y1="1379.8" x2="339.2" y2="1386.8" stroke="#111" stroke-width="2.4"/>
<text x="341.2" y="1408.7" font-size="21" text-anchor="middle">8</text>
<line x1="397.4" y1="1379.8" x2="397.4" y2="1386.8" stroke="#111" stroke-width="2.4"/>
<text x="399.4" y="1408.7" font-size="21" text-anchor="middle">10</text>
<text x="252.5" y="1433.0" font-size="21" text-anchor="middle">TMX (µM)</text>
<text x="62.0" y="1263.0" font-size="21" transform="rotate(-90 62.0 1263.0)" text-anchor="middle">Viability (%)</text>
<polyline points="106.6,1189.1 142.9,1198.6 179.3,1199.6 252.0,1193.9 397.4,1210.1" fill="none" stroke="#0a0a0a" stroke-width="2.4" stroke-linejoin="round"/>
<line x1="106.6" y1="1196.7" x2="106.6" y2="1181.5" stroke="#0a0a0a" stroke-width="2.2"/>
<line x1="102.1" y1="1181.5" x2="111.1" y2="1181.5" stroke="#0a0a0a" stroke-width="2.4"/>
<line x1="102.1" y1="1196.7" x2="111.1" y2="1196.7" stroke="#0a0a0a" stroke-width="2.4"/>
<line x1="142.9" y1="1202.4" x2="142.9" y2="1194.8" stroke="#0a0a0a" stroke-width="2.2"/>
<line x1="138.4" y1="1194.8" x2="147.4" y2="1194.8" stroke="#0a0a0a" stroke-width="2.4"/>
<line x1="138.4" y1="1202.4" x2="147.4" y2="1202.4" stroke="#0a0a0a" stroke-width="2.4"/>
<line x1="179.3" y1="1203.4" x2="179.3" y2="1195.8" stroke="#0a0a0a" stroke-width="2.2"/>
<line x1="174.8" y1="1195.8" x2="183.8" y2="1195.8" stroke="#0a0a0a" stroke-width="2.4"/>
<line x1="174.8" y1="1203.4" x2="183.8" y2="1203.4" stroke="#0a0a0a" stroke-width="2.4"/>
<line x1="252.0" y1="1203.4" x2="252.0" y2="1184.3" stroke="#0a0a0a" stroke-width="2.2"/>
<line x1="247.5" y1="1184.3" x2="256.5" y2="1184.3" stroke="#0a0a0a" stroke-width="2.4"/>
<line x1="247.5" y1="1203.4" x2="256.5" y2="1203.4" stroke="#0a0a0a" stroke-width="2.4"/>
<line x1="397.4" y1="1212.0" x2="397.4" y2="1208.2" stroke="#0a0a0a" stroke-width="2.2"/>
<line x1="392.9" y1="1208.2" x2="401.9" y2="1208.2" stroke="#0a0a0a" stroke-width="2.4"/>
<line x1="392.9" y1="1212.0" x2="401.9" y2="1212.0" stroke="#0a0a0a" stroke-width="2.4"/>
<circle cx="106.6" cy="1189.1" r="5.3" fill="#0a0a0a"/>
<circle cx="142.9" cy="1198.6" r="5.3" fill="#0a0a0a"/>
<circle cx="179.3" cy="1199.6" r="5.3" fill="#0a0a0a"/>
<circle cx="252.0" cy="1193.9" r="5.3" fill="#0a0a0a"/>
<circle cx="397.4" cy="1210.1" r="5.3" fill="#0a0a0a"/>
<polyline points="106.6,1189.1 142.9,1181.5 179.3,1175.8 252.0,1173.8 397.4,1171.0" fill="none" stroke="#5096ee" stroke-width="2.4" stroke-linejoin="round"/>
<line x1="106.6" y1="1191.0" x2="106.6" y2="1187.2" stroke="#5096ee" stroke-width="2.2"/>
<line x1="102.1" y1="1187.2" x2="111.1" y2="1187.2" stroke="#5096ee" stroke-width="2.4"/>
<line x1="102.1" y1="1191.0" x2="111.1" y2="1191.0" stroke="#5096ee" stroke-width="2.4"/>
<line x1="142.9" y1="1187.2" x2="142.9" y2="1175.8" stroke="#5096ee" stroke-width="2.2"/>
<line x1="138.4" y1="1175.8" x2="147.4" y2="1175.8" stroke="#5096ee" stroke-width="2.4"/>
<line x1="138.4" y1="1187.2" x2="147.4" y2="1187.2" stroke="#5096ee" stroke-width="2.4"/>
<line x1="179.3" y1="1177.7" x2="179.3" y2="1173.8" stroke="#5096ee" stroke-width="2.2"/>
<line x1="174.8" y1="1173.8" x2="183.8" y2="1173.8" stroke="#5096ee" stroke-width="2.4"/>
<line x1="174.8" y1="1177.7" x2="183.8" y2="1177.7" stroke="#5096ee" stroke-width="2.4"/>
<line x1="252.0" y1="1187.2" x2="252.0" y2="1160.5" stroke="#5096ee" stroke-width="2.2"/>
<line x1="247.5" y1="1160.5" x2="256.5" y2="1160.5" stroke="#5096ee" stroke-width="2.4"/>
<line x1="247.5" y1="1187.2" x2="256.5" y2="1187.2" stroke="#5096ee" stroke-width="2.4"/>
<line x1="397.4" y1="1178.6" x2="397.4" y2="1163.4" stroke="#5096ee" stroke-width="2.2"/>
<line x1="392.9" y1="1163.4" x2="401.9" y2="1163.4" stroke="#5096ee" stroke-width="2.4"/>
<line x1="392.9" y1="1178.6" x2="401.9" y2="1178.6" stroke="#5096ee" stroke-width="2.4"/>
<path d="M106.6,1182.9 L112.8,1193.8 L100.4,1193.8Z" fill="#5096ee"/>
<path d="M142.9,1175.3 L149.1,1186.1 L136.8,1186.1Z" fill="#5096ee"/>
<path d="M179.3,1169.6 L185.5,1180.4 L173.1,1180.4Z" fill="#5096ee"/>
<path d="M252.0,1167.6 L258.2,1178.5 L245.8,1178.5Z" fill="#5096ee"/>
<path d="M397.4,1164.8 L403.6,1175.6 L391.2,1175.6Z" fill="#5096ee"/>
<polyline points="106.6,1152.9 142.9,1202.4 179.3,1196.7 252.0,1244.4 397.4,1339.8" fill="none" stroke="#f39020" stroke-width="2.4" stroke-linejoin="round"/>
<line x1="106.6" y1="1154.8" x2="106.6" y2="1151.0" stroke="#f39020" stroke-width="2.2"/>
<line x1="102.1" y1="1151.0" x2="111.1" y2="1151.0" stroke="#f39020" stroke-width="2.4"/>
<line x1="102.1" y1="1154.8" x2="111.1" y2="1154.8" stroke="#f39020" stroke-width="2.4"/>
<line x1="142.9" y1="1210.1" x2="142.9" y2="1194.8" stroke="#f39020" stroke-width="2.2"/>
<line x1="138.4" y1="1194.8" x2="147.4" y2="1194.8" stroke="#f39020" stroke-width="2.4"/>
<line x1="138.4" y1="1210.1" x2="147.4" y2="1210.1" stroke="#f39020" stroke-width="2.4"/>
<line x1="179.3" y1="1202.4" x2="179.3" y2="1191.0" stroke="#f39020" stroke-width="2.2"/>
<line x1="174.8" y1="1191.0" x2="183.8" y2="1191.0" stroke="#f39020" stroke-width="2.4"/>
<line x1="174.8" y1="1202.4" x2="183.8" y2="1202.4" stroke="#f39020" stroke-width="2.4"/>
<line x1="252.0" y1="1246.3" x2="252.0" y2="1242.5" stroke="#f39020" stroke-width="2.2"/>
<line x1="247.5" y1="1242.5" x2="256.5" y2="1242.5" stroke="#f39020" stroke-width="2.4"/>
<line x1="247.5" y1="1246.3" x2="256.5" y2="1246.3" stroke="#f39020" stroke-width="2.4"/>
<line x1="397.4" y1="1349.3" x2="397.4" y2="1330.2" stroke="#f39020" stroke-width="2.2"/>
<line x1="392.9" y1="1330.2" x2="401.9" y2="1330.2" stroke="#f39020" stroke-width="2.4"/>
<line x1="392.9" y1="1349.3" x2="401.9" y2="1349.3" stroke="#f39020" stroke-width="2.4"/>
<path d="M106.6,1159.1 L112.8,1148.2 L100.4,1148.2Z" fill="#f39020"/>
<path d="M142.9,1208.6 L149.1,1197.8 L136.8,1197.8Z" fill="#f39020"/>
<path d="M179.3,1202.9 L185.5,1192.1 L173.1,1192.1Z" fill="#f39020"/>
<path d="M252.0,1250.6 L258.2,1239.8 L245.8,1239.8Z" fill="#f39020"/>
<path d="M397.4,1346.0 L403.6,1335.1 L391.2,1335.1Z" fill="#f39020"/>
<polyline points="106.6,1204.4 142.9,1261.6 179.3,1269.2 252.0,1301.6 397.4,1372.2" fill="none" stroke="#e8141e" stroke-width="2.4" stroke-linejoin="round"/>
<line x1="106.6" y1="1210.1" x2="106.6" y2="1198.6" stroke="#e8141e" stroke-width="2.2"/>
<line x1="102.1" y1="1198.6" x2="111.1" y2="1198.6" stroke="#e8141e" stroke-width="2.4"/>
<line x1="102.1" y1="1210.1" x2="111.1" y2="1210.1" stroke="#e8141e" stroke-width="2.4"/>
<line x1="142.9" y1="1267.3" x2="142.9" y2="1255.8" stroke="#e8141e" stroke-width="2.2"/>
<line x1="138.4" y1="1255.8" x2="147.4" y2="1255.8" stroke="#e8141e" stroke-width="2.4"/>
<line x1="138.4" y1="1267.3" x2="147.4" y2="1267.3" stroke="#e8141e" stroke-width="2.4"/>
<line x1="179.3" y1="1278.7" x2="179.3" y2="1259.7" stroke="#e8141e" stroke-width="2.2"/>
<line x1="174.8" y1="1259.7" x2="183.8" y2="1259.7" stroke="#e8141e" stroke-width="2.4"/>
<line x1="174.8" y1="1278.7" x2="183.8" y2="1278.7" stroke="#e8141e" stroke-width="2.4"/>
<line x1="252.0" y1="1307.3" x2="252.0" y2="1295.9" stroke="#e8141e" stroke-width="2.2"/>
<line x1="247.5" y1="1295.9" x2="256.5" y2="1295.9" stroke="#e8141e" stroke-width="2.4"/>
<line x1="247.5" y1="1307.3" x2="256.5" y2="1307.3" stroke="#e8141e" stroke-width="2.4"/>
<line x1="397.4" y1="1374.1" x2="397.4" y2="1370.3" stroke="#e8141e" stroke-width="2.2"/>
<line x1="392.9" y1="1370.3" x2="401.9" y2="1370.3" stroke="#e8141e" stroke-width="2.4"/>
<line x1="392.9" y1="1374.1" x2="401.9" y2="1374.1" stroke="#e8141e" stroke-width="2.4"/>
<rect x="100.6" y="1198.4" width="12.0" height="12.0" fill="#e8141e"/>
<rect x="136.9" y="1255.6" width="12.0" height="12.0" fill="#e8141e"/>
<rect x="173.3" y="1263.2" width="12.0" height="12.0" fill="#e8141e"/>
<rect x="246.0" y="1295.6" width="12.0" height="12.0" fill="#e8141e"/>
<rect x="391.4" y="1366.2" width="12.0" height="12.0" fill="#e8141e"/>
<text x="508.0" y="728.0" font-size="33" font-weight="bold" fill="#000">e</text>
<line x1="609.4" y1="706.6" x2="704.8" y2="706.6" stroke="#111" stroke-width="4.2"/>
<text x="741.0" y="714.0" font-size="21" text-anchor="middle">FULV</text>
<line x1="774.0" y1="706.6" x2="871.0" y2="706.6" stroke="#111" stroke-width="4.2"/>
<polyline points="842.0,691.0 871.5,706.6 842.0,722.0" fill="none" stroke="#111" stroke-width="4.4" stroke-linejoin="miter"/>
<rect x="612.3" y="783.1" width="21.8" height="230.5" fill="#d4d4d4"/>
<line x1="634.1" y1="783.1" x2="634.1" y2="1013.6" stroke="#111" stroke-width="2.2" stroke-dasharray="2.4,3.2"/>
<text x="634.5" y="779.0" font-size="21" transform="rotate(-90 634.5 779.0)">FMD</text>
<rect x="677.7" y="783.1" width="21.8" height="230.5" fill="#d4d4d4"/>
<line x1="677.7" y1="783.1" x2="677.7" y2="1013.6" stroke="#111" stroke-width="2.2" stroke-dasharray="2.4,3.2"/>
<line x1="699.5" y1="783.1" x2="699.5" y2="1013.6" stroke="#111" stroke-width="2.2" stroke-dasharray="2.4,3.2"/>
<text x="699.5" y="779.0" font-size="21" transform="rotate(-90 699.5 779.0)">FMD</text>
<rect x="765.0" y="783.1" width="21.8" height="230.5" fill="#d4d4d4"/>
<line x1="765.0" y1="783.1" x2="765.0" y2="1013.6" stroke="#111" stroke-width="2.2" stroke-dasharray="2.4,3.2"/>
<line x1="786.8" y1="783.1" x2="786.8" y2="1013.6" stroke="#111" stroke-width="2.2" stroke-dasharray="2.4,3.2"/>
<text x="785.6" y="779.0" font-size="21" transform="rotate(-90 785.6 779.0)">FMD</text>
<rect x="852.2" y="783.1" width="21.8" height="230.5" fill="#d4d4d4"/>
<line x1="852.2" y1="783.1" x2="852.2" y2="1013.6" stroke="#111" stroke-width="2.2" stroke-dasharray="2.4,3.2"/>
<line x1="874.0" y1="783.1" x2="874.0" y2="1013.6" stroke="#111" stroke-width="2.2" stroke-dasharray="2.4,3.2"/>
<text x="869.8" y="779.0" font-size="21" transform="rotate(-90 869.8 779.0)">FMD</text>
<line x1="612.3" y1="782.1" x2="612.3" y2="1014.6" stroke="#111" stroke-width="2.6"/>
<line x1="605.0" y1="1013.6" x2="918.6" y2="1013.6" stroke="#111" stroke-width="2.6"/>
<line x1="605.0" y1="1013.6" x2="612.3" y2="1013.6" stroke="#111" stroke-width="2.4"/>
<text x="603.0" y="1021.1" font-size="21" text-anchor="end">0</text>
<line x1="605.0" y1="967.5" x2="612.3" y2="967.5" stroke="#111" stroke-width="2.4"/>
<text x="603.0" y="975.0" font-size="21" text-anchor="end">50</text>
<line x1="605.0" y1="921.4" x2="612.3" y2="921.4" stroke="#111" stroke-width="2.4"/>
<text x="603.0" y="928.9" font-size="21" text-anchor="end">100</text>
<line x1="605.0" y1="875.3" x2="612.3" y2="875.3" stroke="#111" stroke-width="2.4"/>
<text x="603.0" y="882.8" font-size="21" text-anchor="end">150</text>
<line x1="605.0" y1="829.2" x2="612.3" y2="829.2" stroke="#111" stroke-width="2.4"/>
<text x="603.0" y="836.7" font-size="21" text-anchor="end">200</text>
<line x1="605.0" y1="783.1" x2="612.3" y2="783.1" stroke="#111" stroke-width="2.4"/>
<text x="603.0" y="790.6" font-size="21" text-anchor="end">250</text>
<line x1="645.0" y1="1013.6" x2="645.0" y2="1020.6" stroke="#111" stroke-width="2.4"/>
<text x="645.0" y="1039.5" font-size="21" text-anchor="middle">15</text>
<line x1="699.5" y1="1013.6" x2="699.5" y2="1020.6" stroke="#111" stroke-width="2.4"/>
<text x="699.5" y="1039.5" font-size="21" text-anchor="middle">20</text>
<line x1="754.1" y1="1013.6" x2="754.1" y2="1020.6" stroke="#111" stroke-width="2.4"/>
<text x="754.1" y="1039.5" font-size="21" text-anchor="middle">25</text>
<line x1="808.6" y1="1013.6" x2="808.6" y2="1020.6" stroke="#111" stroke-width="2.4"/>
<text x="808.6" y="1039.5" font-size="21" text-anchor="middle">30</text>
<line x1="863.1" y1="1013.6" x2="863.1" y2="1020.6" stroke="#111" stroke-width="2.4"/>
<text x="863.1" y="1039.5" font-size="21" text-anchor="middle">35</text>
<line x1="917.6" y1="1013.6" x2="917.6" y2="1020.6" stroke="#111" stroke-width="2.4"/>
<text x="917.6" y="1039.5" font-size="21" text-anchor="middle">40</text>
<text x="780.4" y="1066.0" font-size="21" text-anchor="middle">Days after cells injection</text>
<text x="558.0" y="891.4" font-size="21" transform="rotate(-90 558.0 891.4)" text-anchor="middle">Tumour volume (mm³)</text>
<polyline points="612.3,967.5 645.0,941.7 677.7,924.2 765.0,907.6 841.3,869.8 917.6,835.7" fill="none" stroke="#3fe0a8" stroke-width="2.4" stroke-linejoin="round"/>
<line x1="645.0" y1="946.3" x2="645.0" y2="937.1" stroke="#3fe0a8" stroke-width="2.2"/>
<line x1="640.5" y1="937.1" x2="649.5" y2="937.1" stroke="#3fe0a8" stroke-width="2.4"/>
<line x1="640.5" y1="946.3" x2="649.5" y2="946.3" stroke="#3fe0a8" stroke-width="2.4"/>
<line x1="677.7" y1="933.4" x2="677.7" y2="914.9" stroke="#3fe0a8" stroke-width="2.2"/>
<line x1="673.2" y1="914.9" x2="682.2" y2="914.9" stroke="#3fe0a8" stroke-width="2.4"/>
<line x1="673.2" y1="933.4" x2="682.2" y2="933.4" stroke="#3fe0a8" stroke-width="2.4"/>
<line x1="765.0" y1="924.2" x2="765.0" y2="891.0" stroke="#3fe0a8" stroke-width="2.2"/>
<line x1="760.5" y1="891.0" x2="769.5" y2="891.0" stroke="#3fe0a8" stroke-width="2.4"/>
<line x1="760.5" y1="924.2" x2="769.5" y2="924.2" stroke="#3fe0a8" stroke-width="2.4"/>
<line x1="841.3" y1="892.8" x2="841.3" y2="846.7" stroke="#3fe0a8" stroke-width="2.2"/>
<line x1="836.8" y1="846.7" x2="845.8" y2="846.7" stroke="#3fe0a8" stroke-width="2.4"/>
<line x1="836.8" y1="892.8" x2="845.8" y2="892.8" stroke="#3fe0a8" stroke-width="2.4"/>
<line x1="917.6" y1="869.8" x2="917.6" y2="801.5" stroke="#3fe0a8" stroke-width="2.2"/>
<line x1="913.1" y1="801.5" x2="922.1" y2="801.5" stroke="#3fe0a8" stroke-width="2.4"/>
<line x1="913.1" y1="869.8" x2="922.1" y2="869.8" stroke="#3fe0a8" stroke-width="2.4"/>
<path d="M612.3,973.7 L618.5,962.9 L606.1,962.9Z" fill="#3fe0a8"/>
<path d="M645.0,947.9 L651.2,937.0 L638.8,937.0Z" fill="#3fe0a8"/>
<path d="M677.7,930.4 L683.9,919.5 L671.5,919.5Z" fill="#3fe0a8"/>
<path d="M765.0,913.8 L771.2,902.9 L758.8,902.9Z" fill="#3fe0a8"/>
<path d="M841.3,876.0 L847.5,865.1 L835.1,865.1Z" fill="#3fe0a8"/>
<path d="M917.6,841.9 L923.8,831.0 L911.4,831.0Z" fill="#3fe0a8"/>
<polyline points="612.3,976.7 645.0,955.5 677.7,933.4 765.0,916.8 841.3,907.6 917.6,891.9" fill="none" stroke="#5096ee" stroke-width="2.4" stroke-linejoin="round"/>
<line x1="645.0" y1="962.9" x2="645.0" y2="948.1" stroke="#5096ee" stroke-width="2.2"/>
<line x1="640.5" y1="948.1" x2="649.5" y2="948.1" stroke="#5096ee" stroke-width="2.4"/>
<line x1="640.5" y1="962.9" x2="649.5" y2="962.9" stroke="#5096ee" stroke-width="2.4"/>
<line x1="677.7" y1="940.8" x2="677.7" y2="926.0" stroke="#5096ee" stroke-width="2.2"/>
<line x1="673.2" y1="926.0" x2="682.2" y2="926.0" stroke="#5096ee" stroke-width="2.4"/>
<line x1="673.2" y1="940.8" x2="682.2" y2="940.8" stroke="#5096ee" stroke-width="2.4"/>
<line x1="765.0" y1="935.2" x2="765.0" y2="898.4" stroke="#5096ee" stroke-width="2.2"/>
<line x1="760.5" y1="898.4" x2="769.5" y2="898.4" stroke="#5096ee" stroke-width="2.4"/>
<line x1="760.5" y1="935.2" x2="769.5" y2="935.2" stroke="#5096ee" stroke-width="2.4"/>
<line x1="841.3" y1="927.9" x2="841.3" y2="887.3" stroke="#5096ee" stroke-width="2.2"/>
<line x1="836.8" y1="887.3" x2="845.8" y2="887.3" stroke="#5096ee" stroke-width="2.4"/>
<line x1="836.8" y1="927.9" x2="845.8" y2="927.9" stroke="#5096ee" stroke-width="2.4"/>
<line x1="917.6" y1="914.0" x2="917.6" y2="869.8" stroke="#5096ee" stroke-width="2.2"/>
<line x1="913.1" y1="869.8" x2="922.1" y2="869.8" stroke="#5096ee" stroke-width="2.4"/>
<line x1="913.1" y1="914.0" x2="922.1" y2="914.0" stroke="#5096ee" stroke-width="2.4"/>
<rect x="606.3" y="970.7" width="12.0" height="12.0" fill="#5096ee"/>
<rect x="639.0" y="949.5" width="12.0" height="12.0" fill="#5096ee"/>
<rect x="671.7" y="927.4" width="12.0" height="12.0" fill="#5096ee"/>
<rect x="759.0" y="910.8" width="12.0" height="12.0" fill="#5096ee"/>
<rect x="835.3" y="901.6" width="12.0" height="12.0" fill="#5096ee"/>
<rect x="911.6" y="885.9" width="12.0" height="12.0" fill="#5096ee"/>
<polyline points="612.3,974.9 645.0,959.2 677.7,947.2 765.0,928.8 841.3,918.6 917.6,918.6" fill="none" stroke="#e63a3e" stroke-width="2.4" stroke-linejoin="round"/>
<line x1="645.0" y1="964.7" x2="645.0" y2="953.7" stroke="#e63a3e" stroke-width="2.2"/>
<line x1="640.5" y1="953.7" x2="649.5" y2="953.7" stroke="#e63a3e" stroke-width="2.4"/>
<line x1="640.5" y1="964.7" x2="649.5" y2="964.7" stroke="#e63a3e" stroke-width="2.4"/>
<line x1="677.7" y1="956.4" x2="677.7" y2="938.0" stroke="#e63a3e" stroke-width="2.2"/>
<line x1="673.2" y1="938.0" x2="682.2" y2="938.0" stroke="#e63a3e" stroke-width="2.4"/>
<line x1="673.2" y1="956.4" x2="682.2" y2="956.4" stroke="#e63a3e" stroke-width="2.4"/>
<line x1="765.0" y1="942.6" x2="765.0" y2="914.9" stroke="#e63a3e" stroke-width="2.2"/>
<line x1="760.5" y1="914.9" x2="769.5" y2="914.9" stroke="#e63a3e" stroke-width="2.4"/>
<line x1="760.5" y1="942.6" x2="769.5" y2="942.6" stroke="#e63a3e" stroke-width="2.4"/>
<line x1="841.3" y1="935.2" x2="841.3" y2="902.0" stroke="#e63a3e" stroke-width="2.2"/>
<line x1="836.8" y1="902.0" x2="845.8" y2="902.0" stroke="#e63a3e" stroke-width="2.4"/>
<line x1="836.8" y1="935.2" x2="845.8" y2="935.2" stroke="#e63a3e" stroke-width="2.4"/>
<line x1="917.6" y1="938.9" x2="917.6" y2="898.4" stroke="#e63a3e" stroke-width="2.2"/>
<line x1="913.1" y1="898.4" x2="922.1" y2="898.4" stroke="#e63a3e" stroke-width="2.4"/>
<line x1="913.1" y1="938.9" x2="922.1" y2="938.9" stroke="#e63a3e" stroke-width="2.4"/>
<path d="M612.3,968.7 L618.5,979.5 L606.1,979.5Z" fill="#e63a3e"/>
<path d="M645.0,953.0 L651.2,963.9 L638.8,963.9Z" fill="#e63a3e"/>
<path d="M677.7,941.0 L683.9,951.9 L671.5,951.9Z" fill="#e63a3e"/>
<path d="M765.0,922.6 L771.2,933.4 L758.8,933.4Z" fill="#e63a3e"/>
<path d="M841.3,912.4 L847.5,923.3 L835.1,923.3Z" fill="#e63a3e"/>
<path d="M917.6,912.4 L923.8,923.3 L911.4,923.3Z" fill="#e63a3e"/>
<polyline points="612.3,976.7 645.0,983.2 677.7,988.7 765.0,991.5 841.3,989.6 917.6,986.9" fill="none" stroke="#0a0a0a" stroke-width="2.4" stroke-linejoin="round"/>
<line x1="841.3" y1="994.2" x2="841.3" y2="985.0" stroke="#0a0a0a" stroke-width="2.2"/>
<line x1="836.8" y1="985.0" x2="845.8" y2="985.0" stroke="#0a0a0a" stroke-width="2.4"/>
<line x1="836.8" y1="994.2" x2="845.8" y2="994.2" stroke="#0a0a0a" stroke-width="2.4"/>
<line x1="917.6" y1="992.4" x2="917.6" y2="981.3" stroke="#0a0a0a" stroke-width="2.2"/>
<line x1="913.1" y1="981.3" x2="922.1" y2="981.3" stroke="#0a0a0a" stroke-width="2.4"/>
<line x1="913.1" y1="992.4" x2="922.1" y2="992.4" stroke="#0a0a0a" stroke-width="2.4"/>
<circle cx="612.3" cy="976.7" r="5.3" fill="#0a0a0a"/>
<circle cx="645.0" cy="983.2" r="5.3" fill="#0a0a0a"/>
<circle cx="677.7" cy="988.7" r="5.3" fill="#0a0a0a"/>
<circle cx="765.0" cy="991.5" r="5.3" fill="#0a0a0a"/>
<circle cx="841.3" cy="989.6" r="5.3" fill="#0a0a0a"/>
<circle cx="917.6" cy="986.9" r="5.3" fill="#0a0a0a"/>
<line x1="936.3" y1="692.0" x2="971.6" y2="692.0" stroke="#0a0a0a" stroke-width="3.2"/>
<circle cx="954.0" cy="692.0" r="6.1" fill="#0a0a0a"/>
<text x="978.0" y="700.0" font-size="21">vector</text>
<line x1="936.3" y1="729.0" x2="971.6" y2="729.0" stroke="#5096ee" stroke-width="3.2"/>
<rect x="947.1" y="722.1" width="13.8" height="13.8" fill="#5096ee"/>
<text x="978.0" y="737.0" font-size="21">PTEN-sh</text>
<line x1="936.3" y1="764.5" x2="971.6" y2="764.5" stroke="#e63a3e" stroke-width="3.2"/>
<path d="M954.0,757.4 L961.1,769.8 L946.9,769.8Z" fill="#e63a3e"/>
<text x="978.0" y="772.5" font-size="21">myr-AKT</text>
<line x1="936.3" y1="799.8" x2="971.6" y2="799.8" stroke="#3fe0a8" stroke-width="3.2"/>
<path d="M954.0,806.9 L961.1,794.5 L946.9,794.5Z" fill="#3fe0a8"/>
<text x="978.0" y="807.8" font-size="21">EGR1-sh#1</text>
<polyline points="923.8,917.0 929.8,917.0 929.8,988.5 923.8,988.5" fill="none" stroke="#111" stroke-width="2.2"/>
<text x="932.3" y="964.0" font-size="21">0.0015</text>
<polyline points="997.8,878.0 1003.8,878.0 1003.8,988.5 997.8,988.5" fill="none" stroke="#111" stroke-width="2.2"/>
<text x="1006.3" y="940.0" font-size="21">0.0002</text>
<polyline points="1071.7,830.4 1077.7,830.4 1077.7,988.5 1071.7,988.5" fill="none" stroke="#111" stroke-width="2.2"/>
<text x="1080.2" y="906.0" font-size="21">0.0001</text>
<text x="489.5" y="1142.0" font-size="33" font-weight="bold" fill="#000">f</text>
<line x1="568.3" y1="1208.2" x2="568.3" y2="1454.8" stroke="#111" stroke-width="4"/>
<line x1="558.3" y1="1453.3" x2="1142.7" y2="1453.3" stroke="#111" stroke-width="3.4"/>
<line x1="558.3" y1="1453.3" x2="568.3" y2="1453.3" stroke="#111" stroke-width="2.8"/>
<text x="0" y="0" font-size="21" transform="translate(553.5 1458.9) scale(1.05 1)" text-anchor="end">0</text>
<line x1="558.3" y1="1372.1" x2="568.3" y2="1372.1" stroke="#111" stroke-width="2.8"/>
<text x="0" y="0" font-size="21" transform="translate(553.5 1377.7) scale(1.05 1)" text-anchor="end">40</text>
<line x1="558.3" y1="1290.9" x2="568.3" y2="1290.9" stroke="#111" stroke-width="2.8"/>
<text x="0" y="0" font-size="21" transform="translate(553.5 1296.5) scale(1.05 1)" text-anchor="end">80</text>
<line x1="558.3" y1="1209.7" x2="568.3" y2="1209.7" stroke="#111" stroke-width="2.8"/>
<text x="0" y="0" font-size="21" transform="translate(553.5 1215.3) scale(1.05 1)" text-anchor="end">120</text>
<text x="517.5" y="1330.0" font-size="21" transform="rotate(-90 517.5 1330.0)" text-anchor="middle">Viability (%)</text>
<rect x="584.0" y="1251.9" width="19.3" height="201.4" fill="#fff" stroke="#0a0a0a" stroke-width="3.4"/>
<line x1="593.6" y1="1250.3" x2="593.6" y2="1246.2" stroke="#111" stroke-width="2.6"/>
<line x1="589.1" y1="1246.2" x2="598.1" y2="1246.2" stroke="#111" stroke-width="2.6"/>
<ellipse cx="587.6" cy="1251.3" rx="5" ry="3.8" fill="#f39020" stroke="#2a1a05" stroke-width="1.3"/>
<ellipse cx="593.6" cy="1247.9" rx="5" ry="3.8" fill="#f39020" stroke="#2a1a05" stroke-width="1.3"/>
<ellipse cx="599.6" cy="1250.9" rx="5" ry="3.8" fill="#f39020" stroke="#2a1a05" stroke-width="1.3"/>
<rect x="607.9" y="1251.9" width="19.3" height="201.4" fill="#9292f8" stroke="#0a0a0a" stroke-width="3.4"/>
<line x1="617.5" y1="1250.3" x2="617.5" y2="1249.3" stroke="#111" stroke-width="2.6"/>
<line x1="613.0" y1="1249.3" x2="622.0" y2="1249.3" stroke="#111" stroke-width="2.6"/>
<ellipse cx="611.5" cy="1251.3" rx="5" ry="3.8" fill="#f39020" stroke="#2a1a05" stroke-width="1.3"/>
<ellipse cx="617.5" cy="1247.9" rx="5" ry="3.8" fill="#f39020" stroke="#2a1a05" stroke-width="1.3"/>
<ellipse cx="623.5" cy="1250.9" rx="5" ry="3.8" fill="#f39020" stroke="#2a1a05" stroke-width="1.3"/>
<rect x="631.8" y="1264.1" width="19.3" height="189.2" fill="url(#pchk)" stroke="#0a0a0a" stroke-width="3.4"/>
<line x1="641.4" y1="1262.5" x2="641.4" y2="1259.4" stroke="#111" stroke-width="2.6"/>
<line x1="636.9" y1="1259.4" x2="645.9" y2="1259.4" stroke="#111" stroke-width="2.6"/>
<ellipse cx="635.4" cy="1263.5" rx="5" ry="3.8" fill="#f39020" stroke="#2a1a05" stroke-width="1.3"/>
<ellipse cx="641.4" cy="1260.0" rx="5" ry="3.8" fill="#f39020" stroke="#2a1a05" stroke-width="1.3"/>
<ellipse cx="647.4" cy="1263.1" rx="5" ry="3.8" fill="#f39020" stroke="#2a1a05" stroke-width="1.3"/>
<rect x="655.7" y="1282.3" width="19.3" height="170.9" fill="url(#phor)" stroke="#0a0a0a" stroke-width="3.4"/>
<line x1="665.3" y1="1280.8" x2="665.3" y2="1268.6" stroke="#111" stroke-width="2.6"/>
<line x1="660.8" y1="1268.6" x2="669.8" y2="1268.6" stroke="#111" stroke-width="2.6"/>
<ellipse cx="659.3" cy="1281.8" rx="5" ry="3.8" fill="#f39020" stroke="#2a1a05" stroke-width="1.3"/>
<ellipse cx="665.3" cy="1278.3" rx="5" ry="3.8" fill="#f39020" stroke="#2a1a05" stroke-width="1.3"/>
<ellipse cx="671.3" cy="1281.4" rx="5" ry="3.8" fill="#f39020" stroke="#2a1a05" stroke-width="1.3"/>
<rect x="679.6" y="1275.2" width="19.3" height="178.1" fill="url(#pdia)" stroke="#0a0a0a" stroke-width="3.4"/>
<line x1="689.2" y1="1273.6" x2="689.2" y2="1271.6" stroke="#111" stroke-width="2.6"/>
<line x1="684.8" y1="1271.6" x2="693.8" y2="1271.6" stroke="#111" stroke-width="2.6"/>
<ellipse cx="683.2" cy="1274.7" rx="5" ry="3.8" fill="#f39020" stroke="#2a1a05" stroke-width="1.3"/>
<ellipse cx="689.2" cy="1271.2" rx="5" ry="3.8" fill="#f39020" stroke="#2a1a05" stroke-width="1.3"/>
<ellipse cx="695.2" cy="1274.3" rx="5" ry="3.8" fill="#f39020" stroke="#2a1a05" stroke-width="1.3"/>
<line x1="641.4" y1="1453.3" x2="641.4" y2="1460.3" stroke="#111" stroke-width="3.2"/>
<text x="0" y="0" font-size="21" transform="translate(638.0 1480.0) scale(1.12 1)" text-anchor="middle">CTR</text>
<rect x="726.2" y="1280.3" width="19.3" height="173.0" fill="#fff" stroke="#0a0a0a" stroke-width="3.4"/>
<line x1="735.9" y1="1278.7" x2="735.9" y2="1276.7" stroke="#111" stroke-width="2.6"/>
<line x1="731.4" y1="1276.7" x2="740.4" y2="1276.7" stroke="#111" stroke-width="2.6"/>
<ellipse cx="729.9" cy="1279.7" rx="5" ry="3.8" fill="#f39020" stroke="#2a1a05" stroke-width="1.3"/>
<ellipse cx="735.9" cy="1276.3" rx="5" ry="3.8" fill="#f39020" stroke="#2a1a05" stroke-width="1.3"/>
<ellipse cx="741.9" cy="1279.3" rx="5" ry="3.8" fill="#f39020" stroke="#2a1a05" stroke-width="1.3"/>
<rect x="750.1" y="1271.2" width="19.3" height="182.1" fill="#9292f8" stroke="#0a0a0a" stroke-width="3.4"/>
<line x1="759.8" y1="1269.6" x2="759.8" y2="1267.6" stroke="#111" stroke-width="2.6"/>
<line x1="755.2" y1="1267.6" x2="764.2" y2="1267.6" stroke="#111" stroke-width="2.6"/>
<ellipse cx="753.8" cy="1270.6" rx="5" ry="3.8" fill="#f39020" stroke="#2a1a05" stroke-width="1.3"/>
<ellipse cx="759.8" cy="1267.1" rx="5" ry="3.8" fill="#f39020" stroke="#2a1a05" stroke-width="1.3"/>
<ellipse cx="765.8" cy="1270.2" rx="5" ry="3.8" fill="#f39020" stroke="#2a1a05" stroke-width="1.3"/>
<rect x="774.0" y="1308.7" width="19.3" height="144.6" fill="url(#pchk)" stroke="#0a0a0a" stroke-width="3.4"/>
<line x1="783.6" y1="1307.1" x2="783.6" y2="1303.1" stroke="#111" stroke-width="2.6"/>
<line x1="779.1" y1="1303.1" x2="788.1" y2="1303.1" stroke="#111" stroke-width="2.6"/>
<ellipse cx="777.6" cy="1308.2" rx="5" ry="3.8" fill="#f39020" stroke="#2a1a05" stroke-width="1.3"/>
<ellipse cx="783.6" cy="1304.7" rx="5" ry="3.8" fill="#f39020" stroke="#2a1a05" stroke-width="1.3"/>
<ellipse cx="789.6" cy="1307.7" rx="5" ry="3.8" fill="#f39020" stroke="#2a1a05" stroke-width="1.3"/>
<rect x="797.9" y="1306.7" width="19.3" height="146.6" fill="url(#phor)" stroke="#0a0a0a" stroke-width="3.4"/>
<line x1="807.5" y1="1305.1" x2="807.5" y2="1302.1" stroke="#111" stroke-width="2.6"/>
<line x1="803.0" y1="1302.1" x2="812.0" y2="1302.1" stroke="#111" stroke-width="2.6"/>
<ellipse cx="801.5" cy="1306.1" rx="5" ry="3.8" fill="#f39020" stroke="#2a1a05" stroke-width="1.3"/>
<ellipse cx="807.5" cy="1302.7" rx="5" ry="3.8" fill="#f39020" stroke="#2a1a05" stroke-width="1.3"/>
<ellipse cx="813.5" cy="1305.7" rx="5" ry="3.8" fill="#f39020" stroke="#2a1a05" stroke-width="1.3"/>
<rect x="821.8" y="1298.6" width="19.3" height="154.7" fill="url(#pdia)" stroke="#0a0a0a" stroke-width="3.4"/>
<line x1="831.5" y1="1297.0" x2="831.5" y2="1292.9" stroke="#111" stroke-width="2.6"/>
<line x1="827.0" y1="1292.9" x2="836.0" y2="1292.9" stroke="#111" stroke-width="2.6"/>
<ellipse cx="825.5" cy="1298.0" rx="5" ry="3.8" fill="#f39020" stroke="#2a1a05" stroke-width="1.3"/>
<ellipse cx="831.5" cy="1294.6" rx="5" ry="3.8" fill="#f39020" stroke="#2a1a05" stroke-width="1.3"/>
<ellipse cx="837.5" cy="1297.6" rx="5" ry="3.8" fill="#f39020" stroke="#2a1a05" stroke-width="1.3"/>
<line x1="783.6" y1="1453.3" x2="783.6" y2="1460.3" stroke="#111" stroke-width="3.2"/>
<text x="0" y="0" font-size="21" transform="translate(781.9 1480.0) scale(1.12 1)" text-anchor="middle">TMX</text>
<rect x="869.2" y="1276.3" width="19.3" height="177.0" fill="#fff" stroke="#0a0a0a" stroke-width="3.4"/>
<line x1="878.9" y1="1274.7" x2="878.9" y2="1272.6" stroke="#111" stroke-width="2.6"/>
<line x1="874.4" y1="1272.6" x2="883.4" y2="1272.6" stroke="#111" stroke-width="2.6"/>
<ellipse cx="872.9" cy="1275.7" rx="5" ry="3.8" fill="#f39020" stroke="#2a1a05" stroke-width="1.3"/>
<ellipse cx="878.9" cy="1272.2" rx="5" ry="3.8" fill="#f39020" stroke="#2a1a05" stroke-width="1.3"/>
<ellipse cx="884.9" cy="1275.3" rx="5" ry="3.8" fill="#f39020" stroke="#2a1a05" stroke-width="1.3"/>
<rect x="893.1" y="1215.4" width="19.3" height="237.9" fill="#9292f8" stroke="#0a0a0a" stroke-width="3.4"/>
<line x1="902.8" y1="1213.8" x2="902.8" y2="1211.7" stroke="#111" stroke-width="2.6"/>
<line x1="898.2" y1="1211.7" x2="907.2" y2="1211.7" stroke="#111" stroke-width="2.6"/>
<ellipse cx="896.8" cy="1214.8" rx="5" ry="3.8" fill="#f39020" stroke="#2a1a05" stroke-width="1.3"/>
<ellipse cx="902.8" cy="1211.3" rx="5" ry="3.8" fill="#f39020" stroke="#2a1a05" stroke-width="1.3"/>
<ellipse cx="908.8" cy="1214.4" rx="5" ry="3.8" fill="#f39020" stroke="#2a1a05" stroke-width="1.3"/>
<rect x="917.0" y="1302.6" width="19.3" height="150.7" fill="url(#pchk)" stroke="#0a0a0a" stroke-width="3.4"/>
<line x1="926.6" y1="1301.0" x2="926.6" y2="1299.0" stroke="#111" stroke-width="2.6"/>
<line x1="922.1" y1="1299.0" x2="931.1" y2="1299.0" stroke="#111" stroke-width="2.6"/>
<ellipse cx="920.6" cy="1302.1" rx="5" ry="3.8" fill="#f39020" stroke="#2a1a05" stroke-width="1.3"/>
<ellipse cx="926.6" cy="1298.6" rx="5" ry="3.8" fill="#f39020" stroke="#2a1a05" stroke-width="1.3"/>
<ellipse cx="932.6" cy="1301.7" rx="5" ry="3.8" fill="#f39020" stroke="#2a1a05" stroke-width="1.3"/>
<rect x="940.9" y="1314.8" width="19.3" height="138.5" fill="url(#phor)" stroke="#0a0a0a" stroke-width="3.4"/>
<line x1="950.5" y1="1313.2" x2="950.5" y2="1307.1" stroke="#111" stroke-width="2.6"/>
<line x1="946.0" y1="1307.1" x2="955.0" y2="1307.1" stroke="#111" stroke-width="2.6"/>
<ellipse cx="944.5" cy="1314.2" rx="5" ry="3.8" fill="#f39020" stroke="#2a1a05" stroke-width="1.3"/>
<ellipse cx="950.5" cy="1310.8" rx="5" ry="3.8" fill="#f39020" stroke="#2a1a05" stroke-width="1.3"/>
<ellipse cx="956.5" cy="1313.8" rx="5" ry="3.8" fill="#f39020" stroke="#2a1a05" stroke-width="1.3"/>
<rect x="964.8" y="1300.6" width="19.3" height="152.7" fill="url(#pdia)" stroke="#0a0a0a" stroke-width="3.4"/>
<line x1="974.5" y1="1299.0" x2="974.5" y2="1292.9" stroke="#111" stroke-width="2.6"/>
<line x1="970.0" y1="1292.9" x2="979.0" y2="1292.9" stroke="#111" stroke-width="2.6"/>
<ellipse cx="968.5" cy="1300.0" rx="5" ry="3.8" fill="#f39020" stroke="#2a1a05" stroke-width="1.3"/>
<ellipse cx="974.5" cy="1296.6" rx="5" ry="3.8" fill="#f39020" stroke="#2a1a05" stroke-width="1.3"/>
<ellipse cx="980.5" cy="1299.6" rx="5" ry="3.8" fill="#f39020" stroke="#2a1a05" stroke-width="1.3"/>
<line x1="926.6" y1="1453.3" x2="926.6" y2="1460.3" stroke="#111" stroke-width="3.2"/>
<text x="0" y="0" font-size="21" transform="translate(924.2 1480.0) scale(1.12 1)" text-anchor="middle">STS</text>
<rect x="1013.2" y="1394.0" width="19.3" height="59.3" fill="#fff" stroke="#0a0a0a" stroke-width="3.4"/>
<line x1="1022.9" y1="1392.4" x2="1022.9" y2="1390.4" stroke="#111" stroke-width="2.6"/>
<line x1="1018.4" y1="1390.4" x2="1027.3" y2="1390.4" stroke="#111" stroke-width="2.6"/>
<ellipse cx="1016.9" cy="1393.4" rx="5" ry="3.8" fill="#f39020" stroke="#2a1a05" stroke-width="1.3"/>
<ellipse cx="1022.9" cy="1390.0" rx="5" ry="3.8" fill="#f39020" stroke="#2a1a05" stroke-width="1.3"/>
<ellipse cx="1028.8" cy="1393.0" rx="5" ry="3.8" fill="#f39020" stroke="#2a1a05" stroke-width="1.3"/>
<rect x="1037.1" y="1353.4" width="19.3" height="99.9" fill="#9292f8" stroke="#0a0a0a" stroke-width="3.4"/>
<line x1="1046.8" y1="1351.8" x2="1046.8" y2="1349.8" stroke="#111" stroke-width="2.6"/>
<line x1="1042.2" y1="1349.8" x2="1051.2" y2="1349.8" stroke="#111" stroke-width="2.6"/>
<ellipse cx="1040.8" cy="1352.8" rx="5" ry="3.8" fill="#f39020" stroke="#2a1a05" stroke-width="1.3"/>
<ellipse cx="1046.8" cy="1349.4" rx="5" ry="3.8" fill="#f39020" stroke="#2a1a05" stroke-width="1.3"/>
<ellipse cx="1052.8" cy="1352.4" rx="5" ry="3.8" fill="#f39020" stroke="#2a1a05" stroke-width="1.3"/>
<rect x="1061.0" y="1400.1" width="19.3" height="53.2" fill="url(#pchk)" stroke="#0a0a0a" stroke-width="3.4"/>
<line x1="1070.7" y1="1398.5" x2="1070.7" y2="1396.5" stroke="#111" stroke-width="2.6"/>
<line x1="1066.2" y1="1396.5" x2="1075.2" y2="1396.5" stroke="#111" stroke-width="2.6"/>
<ellipse cx="1064.7" cy="1399.5" rx="5" ry="3.8" fill="#f39020" stroke="#2a1a05" stroke-width="1.3"/>
<ellipse cx="1070.7" cy="1396.1" rx="5" ry="3.8" fill="#f39020" stroke="#2a1a05" stroke-width="1.3"/>
<ellipse cx="1076.7" cy="1399.1" rx="5" ry="3.8" fill="#f39020" stroke="#2a1a05" stroke-width="1.3"/>
<rect x="1084.9" y="1414.3" width="19.3" height="39.0" fill="url(#phor)" stroke="#0a0a0a" stroke-width="3.4"/>
<line x1="1094.5" y1="1412.7" x2="1094.5" y2="1408.6" stroke="#111" stroke-width="2.6"/>
<line x1="1090.0" y1="1408.6" x2="1099.0" y2="1408.6" stroke="#111" stroke-width="2.6"/>
<ellipse cx="1088.5" cy="1413.7" rx="5" ry="3.8" fill="#f39020" stroke="#2a1a05" stroke-width="1.3"/>
<ellipse cx="1094.5" cy="1410.3" rx="5" ry="3.8" fill="#f39020" stroke="#2a1a05" stroke-width="1.3"/>
<ellipse cx="1100.5" cy="1413.3" rx="5" ry="3.8" fill="#f39020" stroke="#2a1a05" stroke-width="1.3"/>
<rect x="1108.8" y="1402.1" width="19.3" height="51.2" fill="url(#pdia)" stroke="#0a0a0a" stroke-width="3.4"/>
<line x1="1118.5" y1="1400.5" x2="1118.5" y2="1398.5" stroke="#111" stroke-width="2.6"/>
<line x1="1114.0" y1="1398.5" x2="1123.0" y2="1398.5" stroke="#111" stroke-width="2.6"/>
<ellipse cx="1112.5" cy="1401.5" rx="5" ry="3.8" fill="#f39020" stroke="#2a1a05" stroke-width="1.3"/>
<ellipse cx="1118.5" cy="1398.1" rx="5" ry="3.8" fill="#f39020" stroke="#2a1a05" stroke-width="1.3"/>
<ellipse cx="1124.5" cy="1401.1" rx="5" ry="3.8" fill="#f39020" stroke="#2a1a05" stroke-width="1.3"/>
<line x1="1070.7" y1="1453.3" x2="1070.7" y2="1460.3" stroke="#111" stroke-width="3.2"/>
<text x="0" y="0" font-size="21" transform="translate(1070.6 1480.0) scale(1.12 1)" text-anchor="middle">TMX+STS</text>
<text x="1084.8" y="1260.0" font-size="21" text-anchor="middle">0.0001</text>
<polyline points="1049.0,1276.2 1049.0,1267.2 1121.2,1267.2 1121.2,1276.2" fill="none" stroke="#111" stroke-width="2.4"/>
<text x="1072.6" y="1294.0" font-size="21" text-anchor="middle">0.0001</text>
<polyline points="1050.8,1308.0 1050.8,1299.0 1099.4,1299.0 1099.4,1308.0" fill="none" stroke="#111" stroke-width="2.4"/>
<text x="1017.8" y="1330.5" font-size="21" text-anchor="middle">0.0001</text>
<polyline points="1018.5,1345.6 1018.5,1336.6 1041.0,1336.6 1041.0,1345.6" fill="none" stroke="#111" stroke-width="2.4"/>
<text x="1087.0" y="1330.5" font-size="21" text-anchor="middle">0.0001</text>
<polyline points="1052.5,1345.6 1052.5,1336.6 1075.8,1336.6 1075.8,1345.6" fill="none" stroke="#111" stroke-width="2.4"/>
<rect x="959.0" y="1115.8" width="22.0" height="10.4" fill="#fff" stroke="#0a0a0a" stroke-width="2"/>
<text x="0" y="0" font-size="21" transform="translate(990.5 1126.8) scale(1.07 1)">CTR-shRNA</text>
<rect x="959.0" y="1140.4" width="22.0" height="10.4" fill="#c4c4f6" stroke="#0a0a0a" stroke-width="2"/>
<text x="0" y="0" font-size="21" transform="translate(990.5 1151.4) scale(1.03 1)">EGR1-sh</text>
<rect x="959.0" y="1165.0" width="22.0" height="10.4" fill="url(#pchk)" stroke="#0a0a0a" stroke-width="2"/>
<text x="0" y="0" font-size="21" transform="translate(990.5 1176.0) scale(0.99 1)">EGR1-sh+GDC0068</text>
<rect x="959.0" y="1189.6" width="22.0" height="10.4" fill="url(#phor)" stroke="#0a0a0a" stroke-width="2"/>
<text x="0" y="0" font-size="21" transform="translate(990.5 1200.6) scale(0.995 1)">EGR1-sh+LY294002</text>
<rect x="959.0" y="1214.2" width="22.0" height="10.4" fill="url(#pdia2)" stroke="#0a0a0a" stroke-width="2"/>
<text x="0" y="0" font-size="21" transform="translate(990.5 1225.2) scale(0.99 1)">EGR1-sh+AZD5363</text>
<text x="1262.0" y="936.5" font-size="33" font-weight="bold" fill="#000">g</text>
<text x="1356.0" y="969.0" font-size="20.5" transform="rotate(-39 1356.0 969.0)">CTR-shRNA</text>
<text x="1415.0" y="970.5" font-size="20.8" transform="rotate(-39 1415.0 970.5)">PTEN-shRNA</text>
<rect x="1323.6" y="980.4" width="126.8" height="52.8" fill="#f9f9f9"/>
<clipPath id="cl21"><rect x="1323.6" y="980.4" width="126.8" height="52.8"/></clipPath>
<g clip-path="url(#cl21)">
<rect x="1330.0" y="1000.0" width="54.0" height="18.0" rx="9.0" fill="#000" fill-opacity="0.320" filter="url(#b0)" transform="rotate(2.29 1357.0 1009.0)"/>
<rect x="1333.0" y="1003.6" width="48.0" height="10.7" rx="7.5" ry="5.3" fill="#000" fill-opacity="1.000" filter="url(#b1)" transform="rotate(2.29 1357.0 1009.0)"/>
<rect x="1332.0" y="1007.5" width="50.0" height="17.0" rx="8.5" fill="#000" fill-opacity="0.096" filter="url(#b5)"/>
<rect x="1335.0" y="1011.0" width="44.0" height="10.0" rx="7.0" ry="5.0" fill="#000" fill-opacity="0.299" filter="url(#b3)"/>
<rect x="1396.6" y="999.5" width="45.4" height="9.5" rx="4.8" fill="#000" fill-opacity="0.103" filter="url(#b8)" transform="rotate(-5.52 1419.3 1004.3)"/>
<rect x="1399.6" y="1001.8" width="39.4" height="5.0" rx="3.5" ry="2.5" fill="#000" fill-opacity="0.321" filter="url(#b8)" transform="rotate(-5.52 1419.3 1004.3)"/>
</g>
<rect x="1323.6" y="980.4" width="126.8" height="52.8" fill="none" stroke="#3a3a3a" stroke-width="1.5"/>
<text x="1314.0" y="1013.0" font-size="21" text-anchor="end">PTEN</text>
<rect x="1323.6" y="1037.9" width="126.8" height="53.1" fill="#f9f9f9"/>
<clipPath id="cl22"><rect x="1323.6" y="1037.9" width="126.8" height="53.1"/></clipPath>
<g clip-path="url(#cl22)">
<rect x="1331.3" y="1063.0" width="49.4" height="12.5" rx="6.2" fill="#000" fill-opacity="0.320" filter="url(#b3)"/>
<rect x="1334.3" y="1065.8" width="43.4" height="7.0" rx="4.9" ry="3.5" fill="#000" fill-opacity="1.000" filter="url(#b4)"/>
<rect x="1396.7" y="1064.5" width="44.7" height="11.0" rx="5.5" fill="#000" fill-opacity="0.320" filter="url(#b12)" transform="rotate(-4.22 1419.0 1070.0)"/>
<rect x="1399.7" y="1067.0" width="38.7" height="6.0" rx="4.2" ry="3.0" fill="#000" fill-opacity="1.000" filter="url(#b4)" transform="rotate(-4.22 1419.0 1070.0)"/>
<rect x="1332.0" y="1044.5" width="48.0" height="23.0" rx="11.5" fill="#000" fill-opacity="0.048" filter="url(#b2)"/>
<rect x="1335.0" y="1049.0" width="42.0" height="14.0" rx="9.8" ry="7.0" fill="#000" fill-opacity="0.150" filter="url(#b5)"/>
<rect x="1397.0" y="1044.5" width="44.0" height="23.0" rx="11.5" fill="#000" fill-opacity="0.048" filter="url(#b2)"/>
<rect x="1400.0" y="1049.0" width="38.0" height="14.0" rx="9.8" ry="7.0" fill="#000" fill-opacity="0.150" filter="url(#b5)"/>
</g>
<rect x="1323.6" y="1037.9" width="126.8" height="53.1" fill="none" stroke="#3a3a3a" stroke-width="1.5"/>
<text x="1314.0" y="1071.0" font-size="21" text-anchor="end">Vinculin</text>
<line x1="1275.3" y1="1140.2" x2="1275.3" y2="1373.5" stroke="#111" stroke-width="2.8"/>
<line x1="1266.3" y1="1372.5" x2="1636.0" y2="1372.5" stroke="#111" stroke-width="2.8"/>
<line x1="1266.3" y1="1372.5" x2="1275.3" y2="1372.5" stroke="#111" stroke-width="2.4"/>
<text x="1264.3" y="1380.0" font-size="21" text-anchor="end">0</text>
<line x1="1266.3" y1="1334.0" x2="1275.3" y2="1334.0" stroke="#111" stroke-width="2.4"/>
<text x="1264.3" y="1341.5" font-size="21" text-anchor="end">20</text>
<line x1="1266.3" y1="1295.4" x2="1275.3" y2="1295.4" stroke="#111" stroke-width="2.4"/>
<text x="1264.3" y="1302.9" font-size="21" text-anchor="end">40</text>
<line x1="1266.3" y1="1256.8" x2="1275.3" y2="1256.8" stroke="#111" stroke-width="2.4"/>
<text x="1264.3" y="1264.3" font-size="21" text-anchor="end">60</text>
<line x1="1266.3" y1="1218.3" x2="1275.3" y2="1218.3" stroke="#111" stroke-width="2.4"/>
<text x="1264.3" y="1225.8" font-size="21" text-anchor="end">80</text>
<line x1="1266.3" y1="1179.8" x2="1275.3" y2="1179.8" stroke="#111" stroke-width="2.4"/>
<text x="1264.3" y="1187.2" font-size="21" text-anchor="end">100</text>
<line x1="1266.3" y1="1141.2" x2="1275.3" y2="1141.2" stroke="#111" stroke-width="2.4"/>
<text x="1264.3" y="1148.7" font-size="21" text-anchor="end">120</text>
<text x="1234.0" y="1262.0" font-size="21" transform="rotate(-90 1234.0 1262.0)" text-anchor="middle">Viability (%)</text>
<rect x="1280.6" y="1179.8" width="24.5" height="192.8" fill="#fff" stroke="#111" stroke-width="2.8"/>
<rect x="1305.1" y="1179.8" width="24.5" height="192.8" fill="#93bdf3" stroke="#111" stroke-width="2.8"/>
<rect x="1302.3" y="1179.2" width="5.5" height="193.2" fill="#111"/>
<line x1="1292.8" y1="1179.8" x2="1292.8" y2="1177.8" stroke="#111" stroke-width="2.8"/>
<line x1="1287.3" y1="1177.8" x2="1298.4" y2="1177.8" stroke="#111" stroke-width="2.8"/>
<circle cx="1284.8" cy="1183.6" r="3.4" fill="none" stroke="#111" stroke-width="1.4"/>
<circle cx="1289.8" cy="1177.8" r="3.4" fill="none" stroke="#111" stroke-width="1.4"/>
<circle cx="1295.8" cy="1177.8" r="3.4" fill="none" stroke="#111" stroke-width="1.4"/>
<circle cx="1300.8" cy="1179.8" r="3.4" fill="none" stroke="#111" stroke-width="1.4"/>
<line x1="1317.3" y1="1179.8" x2="1317.3" y2="1175.9" stroke="#111" stroke-width="2.8"/>
<line x1="1311.8" y1="1175.9" x2="1322.9" y2="1175.9" stroke="#111" stroke-width="2.8"/>
<circle cx="1309.3" cy="1183.6" r="3.4" fill="none" stroke="#111" stroke-width="1.4"/>
<circle cx="1314.3" cy="1166.3" r="3.4" fill="none" stroke="#111" stroke-width="1.4"/>
<circle cx="1320.3" cy="1183.6" r="3.4" fill="none" stroke="#111" stroke-width="1.4"/>
<circle cx="1325.3" cy="1179.8" r="3.4" fill="none" stroke="#111" stroke-width="1.4"/>
<rect x="1340.9" y="1174.0" width="24.5" height="198.5" fill="#fff" stroke="#111" stroke-width="2.8"/>
<rect x="1365.4" y="1156.6" width="24.5" height="215.9" fill="#93bdf3" stroke="#111" stroke-width="2.8"/>
<rect x="1362.6" y="1173.5" width="5.5" height="199.0" fill="#111"/>
<line x1="1353.1" y1="1174.0" x2="1353.1" y2="1170.1" stroke="#111" stroke-width="2.8"/>
<line x1="1347.6" y1="1170.1" x2="1358.7" y2="1170.1" stroke="#111" stroke-width="2.8"/>
<circle cx="1345.1" cy="1168.2" r="3.4" fill="none" stroke="#111" stroke-width="1.4"/>
<circle cx="1350.1" cy="1187.5" r="3.4" fill="none" stroke="#111" stroke-width="1.4"/>
<circle cx="1356.1" cy="1174.0" r="3.4" fill="none" stroke="#111" stroke-width="1.4"/>
<circle cx="1361.1" cy="1168.2" r="3.4" fill="none" stroke="#111" stroke-width="1.4"/>
<line x1="1377.6" y1="1156.6" x2="1377.6" y2="1152.8" stroke="#111" stroke-width="2.8"/>
<line x1="1372.1" y1="1152.8" x2="1383.2" y2="1152.8" stroke="#111" stroke-width="2.8"/>
<circle cx="1369.6" cy="1160.5" r="3.4" fill="none" stroke="#111" stroke-width="1.4"/>
<circle cx="1374.6" cy="1147.0" r="3.4" fill="none" stroke="#111" stroke-width="1.4"/>
<circle cx="1380.6" cy="1160.5" r="3.4" fill="none" stroke="#111" stroke-width="1.4"/>
<circle cx="1385.6" cy="1156.6" r="3.4" fill="none" stroke="#111" stroke-width="1.4"/>
<rect x="1401.2" y="1247.2" width="24.5" height="125.3" fill="#fff" stroke="#111" stroke-width="2.8"/>
<rect x="1425.7" y="1219.3" width="24.5" height="153.2" fill="#93bdf3" stroke="#111" stroke-width="2.8"/>
<rect x="1422.9" y="1246.7" width="5.5" height="125.8" fill="#111"/>
<line x1="1413.4" y1="1247.2" x2="1413.4" y2="1244.3" stroke="#111" stroke-width="2.8"/>
<line x1="1407.9" y1="1244.3" x2="1419.0" y2="1244.3" stroke="#111" stroke-width="2.8"/>
<circle cx="1405.4" cy="1243.4" r="3.4" fill="none" stroke="#111" stroke-width="1.4"/>
<circle cx="1410.4" cy="1253.0" r="3.4" fill="none" stroke="#111" stroke-width="1.4"/>
<circle cx="1416.4" cy="1247.2" r="3.4" fill="none" stroke="#111" stroke-width="1.4"/>
<circle cx="1421.4" cy="1245.3" r="3.4" fill="none" stroke="#111" stroke-width="1.4"/>
<line x1="1437.9" y1="1219.3" x2="1437.9" y2="1217.3" stroke="#111" stroke-width="2.8"/>
<line x1="1432.4" y1="1217.3" x2="1443.5" y2="1217.3" stroke="#111" stroke-width="2.8"/>
<circle cx="1429.9" cy="1216.4" r="3.4" fill="none" stroke="#111" stroke-width="1.4"/>
<circle cx="1434.9" cy="1220.2" r="3.4" fill="none" stroke="#111" stroke-width="1.4"/>
<circle cx="1440.9" cy="1220.2" r="3.4" fill="none" stroke="#111" stroke-width="1.4"/>
<circle cx="1445.9" cy="1220.2" r="3.4" fill="none" stroke="#111" stroke-width="1.4"/>
<rect x="1461.5" y="1182.6" width="24.5" height="189.9" fill="#fff" stroke="#111" stroke-width="2.8"/>
<rect x="1486.0" y="1158.5" width="24.5" height="214.0" fill="#93bdf3" stroke="#111" stroke-width="2.8"/>
<rect x="1483.2" y="1182.1" width="5.5" height="190.4" fill="#111"/>
<line x1="1473.8" y1="1182.6" x2="1473.8" y2="1181.7" stroke="#111" stroke-width="2.8"/>
<line x1="1468.2" y1="1181.7" x2="1479.3" y2="1181.7" stroke="#111" stroke-width="2.8"/>
<circle cx="1465.8" cy="1181.7" r="3.4" fill="none" stroke="#111" stroke-width="1.4"/>
<circle cx="1470.8" cy="1183.6" r="3.4" fill="none" stroke="#111" stroke-width="1.4"/>
<circle cx="1476.8" cy="1183.6" r="3.4" fill="none" stroke="#111" stroke-width="1.4"/>
<circle cx="1481.8" cy="1181.7" r="3.4" fill="none" stroke="#111" stroke-width="1.4"/>
<line x1="1498.2" y1="1158.5" x2="1498.2" y2="1157.6" stroke="#111" stroke-width="2.8"/>
<line x1="1492.7" y1="1157.6" x2="1503.8" y2="1157.6" stroke="#111" stroke-width="2.8"/>
<circle cx="1490.2" cy="1160.5" r="3.4" fill="none" stroke="#111" stroke-width="1.4"/>
<circle cx="1495.2" cy="1158.5" r="3.4" fill="none" stroke="#111" stroke-width="1.4"/>
<circle cx="1501.2" cy="1158.5" r="3.4" fill="none" stroke="#111" stroke-width="1.4"/>
<circle cx="1506.2" cy="1158.5" r="3.4" fill="none" stroke="#111" stroke-width="1.4"/>
<rect x="1521.8" y="1323.3" width="24.5" height="49.2" fill="#fff" stroke="#111" stroke-width="2.8"/>
<rect x="1546.3" y="1290.6" width="24.5" height="81.9" fill="#93bdf3" stroke="#111" stroke-width="2.8"/>
<rect x="1543.5" y="1322.8" width="5.5" height="49.7" fill="#111"/>
<line x1="1534.0" y1="1323.3" x2="1534.0" y2="1321.4" stroke="#111" stroke-width="2.8"/>
<line x1="1528.5" y1="1321.4" x2="1539.6" y2="1321.4" stroke="#111" stroke-width="2.8"/>
<circle cx="1526.0" cy="1318.5" r="3.4" fill="none" stroke="#111" stroke-width="1.4"/>
<circle cx="1531.0" cy="1324.3" r="3.4" fill="none" stroke="#111" stroke-width="1.4"/>
<circle cx="1537.0" cy="1324.3" r="3.4" fill="none" stroke="#111" stroke-width="1.4"/>
<circle cx="1542.0" cy="1324.3" r="3.4" fill="none" stroke="#111" stroke-width="1.4"/>
<line x1="1558.5" y1="1290.6" x2="1558.5" y2="1288.7" stroke="#111" stroke-width="2.8"/>
<line x1="1553.0" y1="1288.7" x2="1564.1" y2="1288.7" stroke="#111" stroke-width="2.8"/>
<circle cx="1550.5" cy="1289.6" r="3.4" fill="none" stroke="#111" stroke-width="1.4"/>
<circle cx="1555.5" cy="1289.6" r="3.4" fill="none" stroke="#111" stroke-width="1.4"/>
<circle cx="1561.5" cy="1293.5" r="3.4" fill="none" stroke="#111" stroke-width="1.4"/>
<circle cx="1566.5" cy="1287.7" r="3.4" fill="none" stroke="#111" stroke-width="1.4"/>
<rect x="1582.1" y="1307.9" width="24.5" height="64.6" fill="#fff" stroke="#111" stroke-width="2.8"/>
<rect x="1606.6" y="1275.2" width="24.5" height="97.3" fill="#93bdf3" stroke="#111" stroke-width="2.8"/>
<rect x="1603.8" y="1307.4" width="5.5" height="65.1" fill="#111"/>
<line x1="1594.3" y1="1307.9" x2="1594.3" y2="1306.0" stroke="#111" stroke-width="2.8"/>
<line x1="1588.8" y1="1306.0" x2="1599.9" y2="1306.0" stroke="#111" stroke-width="2.8"/>
<circle cx="1586.3" cy="1308.9" r="3.4" fill="none" stroke="#111" stroke-width="1.4"/>
<circle cx="1591.3" cy="1307.0" r="3.4" fill="none" stroke="#111" stroke-width="1.4"/>
<circle cx="1597.3" cy="1308.9" r="3.4" fill="none" stroke="#111" stroke-width="1.4"/>
<circle cx="1602.3" cy="1303.1" r="3.4" fill="none" stroke="#111" stroke-width="1.4"/>
<line x1="1618.8" y1="1275.2" x2="1618.8" y2="1271.3" stroke="#111" stroke-width="2.8"/>
<line x1="1613.3" y1="1271.3" x2="1624.4" y2="1271.3" stroke="#111" stroke-width="2.8"/>
<circle cx="1610.8" cy="1276.1" r="3.4" fill="none" stroke="#111" stroke-width="1.4"/>
<circle cx="1615.8" cy="1264.6" r="3.4" fill="none" stroke="#111" stroke-width="1.4"/>
<circle cx="1621.8" cy="1276.1" r="3.4" fill="none" stroke="#111" stroke-width="1.4"/>
<circle cx="1626.8" cy="1276.1" r="3.4" fill="none" stroke="#111" stroke-width="1.4"/>
<line x1="1305.1" y1="1372.5" x2="1305.1" y2="1381.5" stroke="#111" stroke-width="3"/>
<text x="1312.6" y="1384.0" font-size="21" transform="rotate(-90 1312.6 1384.0)" text-anchor="end">CTR</text>
<line x1="1365.4" y1="1372.5" x2="1365.4" y2="1381.5" stroke="#111" stroke-width="3"/>
<text x="1372.9" y="1384.0" font-size="21" transform="rotate(-90 1372.9 1384.0)" text-anchor="end">TMX</text>
<line x1="1425.7" y1="1372.5" x2="1425.7" y2="1381.5" stroke="#111" stroke-width="3"/>
<text x="1433.2" y="1384.0" font-size="21" transform="rotate(-90 1433.2 1384.0)" text-anchor="end">FULV</text>
<line x1="1486.0" y1="1372.5" x2="1486.0" y2="1381.5" stroke="#111" stroke-width="3"/>
<text x="1493.5" y="1384.0" font-size="21" transform="rotate(-90 1493.5 1384.0)" text-anchor="end">STS</text>
<line x1="1546.3" y1="1372.5" x2="1546.3" y2="1381.5" stroke="#111" stroke-width="3"/>
<text x="1553.8" y="1384.0" font-size="21" transform="rotate(-90 1553.8 1384.0)" text-anchor="end">TMX+STS</text>
<line x1="1606.6" y1="1372.5" x2="1606.6" y2="1381.5" stroke="#111" stroke-width="3"/>
<text x="1614.1" y="1384.0" font-size="21" transform="rotate(-90 1614.1 1384.0)" text-anchor="end">FULV+STS</text>
<text x="1365.5" y="1126.5" font-size="21" text-anchor="middle">0.0211</text>
<polyline points="1351.5,1138.0 1351.5,1128.5 1379.5,1128.5 1379.5,1138.0" fill="none" stroke="#111" stroke-width="2.4"/>
<text x="1427.0" y="1196.5" font-size="21" text-anchor="middle">0.0001</text>
<polyline points="1413.2,1209.3 1413.2,1199.8 1441.0,1199.8 1441.0,1209.3" fill="none" stroke="#111" stroke-width="2.4"/>
<text x="1486.0" y="1138.5" font-size="21" text-anchor="middle">0.0001</text>
<polyline points="1471.9,1151.4 1471.9,1141.9 1500.0,1141.9 1500.0,1151.4" fill="none" stroke="#111" stroke-width="2.4"/>
<text x="1545.5" y="1268.5" font-size="21" text-anchor="middle">0.0001</text>
<polyline points="1531.5,1281.2 1531.5,1271.7 1559.6,1271.7 1559.6,1281.2" fill="none" stroke="#111" stroke-width="2.4"/>
<text x="1607.0" y="1245.0" font-size="21" text-anchor="middle">0.0001</text>
<polyline points="1593.0,1257.7 1593.0,1248.2 1621.0,1248.2 1621.0,1257.7" fill="none" stroke="#111" stroke-width="2.4"/>
<rect x="1526.8" y="1099.5" width="15.5" height="9.5" fill="#fff" stroke="#111" stroke-width="2"/>
<text x="1548.4" y="1111.5" font-size="21">CTR-shRNA</text>
<rect x="1526.8" y="1125.0" width="15.5" height="9.5" fill="#93bdf3" stroke="#111" stroke-width="2"/>
<text x="1548.4" y="1137.5" font-size="21">PTEN-shRNA</text>
<text x="1703.0" y="936.5" font-size="33" font-weight="bold" fill="#000">h</text>
<text x="1802.0" y="972.0" font-size="20.8" transform="rotate(-39 1802.0 972.0)">vector</text>
<text x="1873.0" y="971.0" font-size="20.8" transform="rotate(-39 1873.0 971.0)">myr-AKT</text>
<rect x="1770.2" y="980.4" width="126.8" height="52.8" fill="#f9f9f9"/>
<clipPath id="cl23"><rect x="1770.2" y="980.4" width="126.8" height="52.8"/></clipPath>
<g clip-path="url(#cl23)">
<rect x="1779.3" y="1002.6" width="43.3" height="14.0" rx="7.0" fill="#000" fill-opacity="0.161" filter="url(#b3)"/>
<rect x="1782.3" y="1005.6" width="37.3" height="8.0" rx="5.6" ry="4.0" fill="#000" fill-opacity="0.503" filter="url(#b8)"/>
<rect x="1839.9" y="995.0" width="47.0" height="21.5" rx="10.8" fill="#000" fill-opacity="0.320" filter="url(#b7)"/>
<rect x="1842.9" y="999.2" width="41.0" height="13.0" rx="9.1" ry="6.5" fill="#000" fill-opacity="1.000" filter="url(#b1)"/>
<rect x="1840.4" y="1004.0" width="46.0" height="20.0" rx="10.0" fill="#000" fill-opacity="0.113" filter="url(#b7)"/>
<rect x="1843.4" y="1008.0" width="40.0" height="12.0" rx="8.4" ry="6.0" fill="#000" fill-opacity="0.354" filter="url(#b3)"/>
</g>
<rect x="1770.2" y="980.4" width="126.8" height="52.8" fill="none" stroke="#3a3a3a" stroke-width="1.5"/>
<text x="1759.3" y="1013.0" font-size="21" text-anchor="end">AKT</text>
<rect x="1770.2" y="1038.2" width="126.8" height="53.2" fill="#f9f9f9"/>
<clipPath id="cl24"><rect x="1770.2" y="1038.2" width="126.8" height="53.2"/></clipPath>
<g clip-path="url(#cl24)">
<rect x="1775.0" y="1063.8" width="52.0" height="11.0" rx="5.5" fill="#000" fill-opacity="0.296" filter="url(#b12)" transform="rotate(3.58 1801.0 1069.3)"/>
<rect x="1778.0" y="1066.3" width="46.0" height="6.0" rx="4.2" ry="3.0" fill="#000" fill-opacity="0.924" filter="url(#b4)" transform="rotate(3.58 1801.0 1069.3)"/>
<rect x="1845.7" y="1058.8" width="45.4" height="11.0" rx="5.5" fill="#000" fill-opacity="0.320" filter="url(#b12)" transform="rotate(-8.79 1868.4 1064.3)"/>
<rect x="1848.7" y="1061.3" width="39.4" height="6.0" rx="4.2" ry="3.0" fill="#000" fill-opacity="1.000" filter="url(#b4)" transform="rotate(-8.79 1868.4 1064.3)"/>
<rect x="1775.0" y="1035.0" width="52.0" height="62.0" rx="26.0" fill="#000" fill-opacity="0.048" filter="url(#b14)"/>
<rect x="1778.0" y="1046.0" width="46.0" height="40.0" rx="23.0" ry="20.0" fill="#000" fill-opacity="0.150" filter="url(#b3)"/>
<rect x="1845.4" y="1035.0" width="46.0" height="62.0" rx="23.0" fill="#000" fill-opacity="0.057" filter="url(#b14)"/>
<rect x="1848.4" y="1046.0" width="40.0" height="40.0" rx="20.0" ry="20.0" fill="#000" fill-opacity="0.178" filter="url(#b3)"/>
</g>
<rect x="1770.2" y="1038.2" width="126.8" height="53.2" fill="none" stroke="#3a3a3a" stroke-width="1.5"/>
<text x="1759.3" y="1071.0" font-size="21" text-anchor="end">Vinculin</text>
<line x1="1755.0" y1="1145.9" x2="1755.0" y2="1373.1" stroke="#111" stroke-width="2.8"/>
<line x1="1746.0" y1="1372.1" x2="2116.0" y2="1372.1" stroke="#111" stroke-width="2.8"/>
<line x1="1746.0" y1="1372.1" x2="1755.0" y2="1372.1" stroke="#111" stroke-width="2.4"/>
<text x="1744.0" y="1379.6" font-size="21" text-anchor="end">0</text>
<line x1="1746.0" y1="1334.6" x2="1755.0" y2="1334.6" stroke="#111" stroke-width="2.4"/>
<text x="1744.0" y="1342.1" font-size="21" text-anchor="end">20</text>
<line x1="1746.0" y1="1297.0" x2="1755.0" y2="1297.0" stroke="#111" stroke-width="2.4"/>
<text x="1744.0" y="1304.5" font-size="21" text-anchor="end">40</text>
<line x1="1746.0" y1="1259.5" x2="1755.0" y2="1259.5" stroke="#111" stroke-width="2.4"/>
<text x="1744.0" y="1267.0" font-size="21" text-anchor="end">60</text>
<line x1="1746.0" y1="1221.9" x2="1755.0" y2="1221.9" stroke="#111" stroke-width="2.4"/>
<text x="1744.0" y="1229.4" font-size="21" text-anchor="end">80</text>
<line x1="1746.0" y1="1184.4" x2="1755.0" y2="1184.4" stroke="#111" stroke-width="2.4"/>
<text x="1744.0" y="1191.9" font-size="21" text-anchor="end">100</text>
<line x1="1746.0" y1="1146.9" x2="1755.0" y2="1146.9" stroke="#111" stroke-width="2.4"/>
<text x="1744.0" y="1154.4" font-size="21" text-anchor="end">120</text>
<text x="1712.0" y="1262.0" font-size="21" transform="rotate(-90 1712.0 1262.0)" text-anchor="middle">Viability (%)</text>
<rect x="1760.3" y="1184.4" width="24.5" height="187.7" fill="#fff" stroke="#111" stroke-width="2.8"/>
<rect x="1784.8" y="1184.4" width="24.5" height="187.7" fill="#93bdf3" stroke="#111" stroke-width="2.8"/>
<rect x="1782.0" y="1183.9" width="5.5" height="188.2" fill="#111"/>
<line x1="1772.5" y1="1184.4" x2="1772.5" y2="1182.5" stroke="#111" stroke-width="2.8"/>
<line x1="1767.0" y1="1182.5" x2="1778.1" y2="1182.5" stroke="#111" stroke-width="2.8"/>
<circle cx="1764.5" cy="1182.5" r="3.4" fill="none" stroke="#111" stroke-width="1.4"/>
<circle cx="1769.5" cy="1188.2" r="3.4" fill="none" stroke="#111" stroke-width="1.4"/>
<circle cx="1775.5" cy="1182.5" r="3.4" fill="none" stroke="#111" stroke-width="1.4"/>
<circle cx="1780.5" cy="1184.4" r="3.4" fill="none" stroke="#111" stroke-width="1.4"/>
<line x1="1797.0" y1="1184.4" x2="1797.0" y2="1182.5" stroke="#111" stroke-width="2.8"/>
<line x1="1791.5" y1="1182.5" x2="1802.6" y2="1182.5" stroke="#111" stroke-width="2.8"/>
<circle cx="1789.0" cy="1182.5" r="3.4" fill="none" stroke="#111" stroke-width="1.4"/>
<circle cx="1794.0" cy="1188.2" r="3.4" fill="none" stroke="#111" stroke-width="1.4"/>
<circle cx="1800.0" cy="1184.4" r="3.4" fill="none" stroke="#111" stroke-width="1.4"/>
<circle cx="1805.0" cy="1186.3" r="3.4" fill="none" stroke="#111" stroke-width="1.4"/>
<rect x="1820.2" y="1206.9" width="24.5" height="165.2" fill="#fff" stroke="#111" stroke-width="2.8"/>
<rect x="1844.8" y="1176.9" width="24.5" height="195.2" fill="#93bdf3" stroke="#111" stroke-width="2.8"/>
<rect x="1842.0" y="1206.4" width="5.5" height="165.7" fill="#111"/>
<line x1="1832.5" y1="1206.9" x2="1832.5" y2="1204.1" stroke="#111" stroke-width="2.8"/>
<line x1="1827.0" y1="1204.1" x2="1838.0" y2="1204.1" stroke="#111" stroke-width="2.8"/>
<circle cx="1824.5" cy="1210.7" r="3.4" fill="none" stroke="#111" stroke-width="1.4"/>
<circle cx="1829.5" cy="1199.4" r="3.4" fill="none" stroke="#111" stroke-width="1.4"/>
<circle cx="1835.5" cy="1208.8" r="3.4" fill="none" stroke="#111" stroke-width="1.4"/>
<circle cx="1840.5" cy="1206.9" r="3.4" fill="none" stroke="#111" stroke-width="1.4"/>
<line x1="1857.0" y1="1176.9" x2="1857.0" y2="1173.1" stroke="#111" stroke-width="2.8"/>
<line x1="1851.5" y1="1173.1" x2="1862.5" y2="1173.1" stroke="#111" stroke-width="2.8"/>
<circle cx="1849.0" cy="1180.6" r="3.4" fill="none" stroke="#111" stroke-width="1.4"/>
<circle cx="1854.0" cy="1167.5" r="3.4" fill="none" stroke="#111" stroke-width="1.4"/>
<circle cx="1860.0" cy="1180.6" r="3.4" fill="none" stroke="#111" stroke-width="1.4"/>
<circle cx="1865.0" cy="1176.9" r="3.4" fill="none" stroke="#111" stroke-width="1.4"/>
<rect x="1880.2" y="1255.7" width="24.5" height="116.4" fill="#fff" stroke="#111" stroke-width="2.8"/>
<rect x="1904.7" y="1219.1" width="24.5" height="153.0" fill="#93bdf3" stroke="#111" stroke-width="2.8"/>
<rect x="1902.0" y="1255.2" width="5.5" height="116.9" fill="#111"/>
<line x1="1892.5" y1="1255.7" x2="1892.5" y2="1254.8" stroke="#111" stroke-width="2.8"/>
<line x1="1886.9" y1="1254.8" x2="1898.0" y2="1254.8" stroke="#111" stroke-width="2.8"/>
<circle cx="1884.5" cy="1253.8" r="3.4" fill="none" stroke="#111" stroke-width="1.4"/>
<circle cx="1889.5" cy="1257.6" r="3.4" fill="none" stroke="#111" stroke-width="1.4"/>
<circle cx="1895.5" cy="1255.7" r="3.4" fill="none" stroke="#111" stroke-width="1.4"/>
<circle cx="1900.5" cy="1255.7" r="3.4" fill="none" stroke="#111" stroke-width="1.4"/>
<line x1="1917.0" y1="1219.1" x2="1917.0" y2="1216.3" stroke="#111" stroke-width="2.8"/>
<line x1="1911.4" y1="1216.3" x2="1922.5" y2="1216.3" stroke="#111" stroke-width="2.8"/>
<circle cx="1909.0" cy="1223.8" r="3.4" fill="none" stroke="#111" stroke-width="1.4"/>
<circle cx="1914.0" cy="1212.6" r="3.4" fill="none" stroke="#111" stroke-width="1.4"/>
<circle cx="1920.0" cy="1220.1" r="3.4" fill="none" stroke="#111" stroke-width="1.4"/>
<circle cx="1925.0" cy="1220.1" r="3.4" fill="none" stroke="#111" stroke-width="1.4"/>
<rect x="1940.2" y="1218.2" width="24.5" height="153.9" fill="#fff" stroke="#111" stroke-width="2.8"/>
<rect x="1964.7" y="1191.0" width="24.5" height="181.1" fill="#93bdf3" stroke="#111" stroke-width="2.8"/>
<rect x="1961.9" y="1217.7" width="5.5" height="154.4" fill="#111"/>
<line x1="1952.4" y1="1218.2" x2="1952.4" y2="1215.4" stroke="#111" stroke-width="2.8"/>
<line x1="1946.9" y1="1215.4" x2="1957.9" y2="1215.4" stroke="#111" stroke-width="2.8"/>
<circle cx="1944.4" cy="1221.9" r="3.4" fill="none" stroke="#111" stroke-width="1.4"/>
<circle cx="1949.4" cy="1218.2" r="3.4" fill="none" stroke="#111" stroke-width="1.4"/>
<circle cx="1955.4" cy="1212.6" r="3.4" fill="none" stroke="#111" stroke-width="1.4"/>
<circle cx="1960.4" cy="1218.2" r="3.4" fill="none" stroke="#111" stroke-width="1.4"/>
<line x1="1976.9" y1="1191.0" x2="1976.9" y2="1190.0" stroke="#111" stroke-width="2.8"/>
<line x1="1971.4" y1="1190.0" x2="1982.4" y2="1190.0" stroke="#111" stroke-width="2.8"/>
<circle cx="1968.9" cy="1191.9" r="3.4" fill="none" stroke="#111" stroke-width="1.4"/>
<circle cx="1973.9" cy="1190.0" r="3.4" fill="none" stroke="#111" stroke-width="1.4"/>
<circle cx="1979.9" cy="1191.9" r="3.4" fill="none" stroke="#111" stroke-width="1.4"/>
<circle cx="1984.9" cy="1190.0" r="3.4" fill="none" stroke="#111" stroke-width="1.4"/>
<rect x="2000.1" y="1320.5" width="24.5" height="51.6" fill="#fff" stroke="#111" stroke-width="2.8"/>
<rect x="2024.6" y="1295.1" width="24.5" height="77.0" fill="#93bdf3" stroke="#111" stroke-width="2.8"/>
<rect x="2021.8" y="1320.0" width="5.5" height="52.1" fill="#111"/>
<line x1="2012.3" y1="1320.5" x2="2012.3" y2="1314.9" stroke="#111" stroke-width="2.8"/>
<line x1="2006.8" y1="1314.9" x2="2017.9" y2="1314.9" stroke="#111" stroke-width="2.8"/>
<circle cx="2004.3" cy="1312.0" r="3.4" fill="none" stroke="#111" stroke-width="1.4"/>
<circle cx="2009.3" cy="1328.9" r="3.4" fill="none" stroke="#111" stroke-width="1.4"/>
<circle cx="2015.3" cy="1313.9" r="3.4" fill="none" stroke="#111" stroke-width="1.4"/>
<circle cx="2020.3" cy="1325.2" r="3.4" fill="none" stroke="#111" stroke-width="1.4"/>
<line x1="2036.8" y1="1295.1" x2="2036.8" y2="1293.3" stroke="#111" stroke-width="2.8"/>
<line x1="2031.3" y1="1293.3" x2="2042.4" y2="1293.3" stroke="#111" stroke-width="2.8"/>
<circle cx="2028.8" cy="1297.0" r="3.4" fill="none" stroke="#111" stroke-width="1.4"/>
<circle cx="2033.8" cy="1293.3" r="3.4" fill="none" stroke="#111" stroke-width="1.4"/>
<circle cx="2039.8" cy="1297.0" r="3.4" fill="none" stroke="#111" stroke-width="1.4"/>
<circle cx="2044.8" cy="1291.4" r="3.4" fill="none" stroke="#111" stroke-width="1.4"/>
<rect x="2060.1" y="1303.6" width="24.5" height="68.5" fill="#fff" stroke="#111" stroke-width="2.8"/>
<rect x="2084.6" y="1244.5" width="24.5" height="127.6" fill="#93bdf3" stroke="#111" stroke-width="2.8"/>
<rect x="2081.8" y="1303.1" width="5.5" height="69.0" fill="#111"/>
<line x1="2072.3" y1="1303.6" x2="2072.3" y2="1301.7" stroke="#111" stroke-width="2.8"/>
<line x1="2066.8" y1="1301.7" x2="2077.8" y2="1301.7" stroke="#111" stroke-width="2.8"/>
<circle cx="2064.3" cy="1300.8" r="3.4" fill="none" stroke="#111" stroke-width="1.4"/>
<circle cx="2069.3" cy="1306.4" r="3.4" fill="none" stroke="#111" stroke-width="1.4"/>
<circle cx="2075.3" cy="1302.7" r="3.4" fill="none" stroke="#111" stroke-width="1.4"/>
<circle cx="2080.3" cy="1302.7" r="3.4" fill="none" stroke="#111" stroke-width="1.4"/>
<line x1="2096.8" y1="1244.5" x2="2096.8" y2="1239.8" stroke="#111" stroke-width="2.8"/>
<line x1="2091.3" y1="1239.8" x2="2102.3" y2="1239.8" stroke="#111" stroke-width="2.8"/>
<circle cx="2088.8" cy="1248.2" r="3.4" fill="none" stroke="#111" stroke-width="1.4"/>
<circle cx="2093.8" cy="1235.1" r="3.4" fill="none" stroke="#111" stroke-width="1.4"/>
<circle cx="2099.8" cy="1246.3" r="3.4" fill="none" stroke="#111" stroke-width="1.4"/>
<circle cx="2104.8" cy="1246.3" r="3.4" fill="none" stroke="#111" stroke-width="1.4"/>
<line x1="1784.8" y1="1372.1" x2="1784.8" y2="1381.1" stroke="#111" stroke-width="3"/>
<text x="1792.3" y="1382.0" font-size="21" transform="rotate(-90 1792.3 1382.0)" text-anchor="end">CTR</text>
<line x1="1844.8" y1="1372.1" x2="1844.8" y2="1381.1" stroke="#111" stroke-width="3"/>
<text x="1852.2" y="1382.0" font-size="21" transform="rotate(-90 1852.2 1382.0)" text-anchor="end">TMX</text>
<line x1="1904.7" y1="1372.1" x2="1904.7" y2="1381.1" stroke="#111" stroke-width="3"/>
<text x="1912.2" y="1382.0" font-size="21" transform="rotate(-90 1912.2 1382.0)" text-anchor="end">FULV</text>
<line x1="1964.7" y1="1372.1" x2="1964.7" y2="1381.1" stroke="#111" stroke-width="3"/>
<text x="1972.2" y="1382.0" font-size="21" transform="rotate(-90 1972.2 1382.0)" text-anchor="end">STS</text>
<line x1="2024.6" y1="1372.1" x2="2024.6" y2="1381.1" stroke="#111" stroke-width="3"/>
<text x="2032.1" y="1382.0" font-size="21" transform="rotate(-90 2032.1 1382.0)" text-anchor="end">TMX+STS</text>
<line x1="2084.6" y1="1372.1" x2="2084.6" y2="1381.1" stroke="#111" stroke-width="3"/>
<text x="2092.1" y="1382.0" font-size="21" transform="rotate(-90 2092.1 1382.0)" text-anchor="end">FULV+STS</text>
<text x="1843.5" y="1146.5" font-size="21" text-anchor="middle">0.0004</text>
<polyline points="1829.4,1159.9 1829.4,1150.4 1857.5,1150.4 1857.5,1159.9" fill="none" stroke="#111" stroke-width="2.4"/>
<text x="1906.5" y="1191.5" font-size="21" text-anchor="middle">0.0001</text>
<polyline points="1892.5,1204.5 1892.5,1195.0 1920.6,1195.0 1920.6,1204.5" fill="none" stroke="#111" stroke-width="2.4"/>
<text x="1966.0" y="1170.5" font-size="21" text-anchor="middle">0.0001</text>
<polyline points="1952.2,1183.5 1952.2,1174.0 1979.5,1174.0 1979.5,1183.5" fill="none" stroke="#111" stroke-width="2.4"/>
<text x="2024.0" y="1272.0" font-size="21" text-anchor="middle">0.0031</text>
<polyline points="2010.0,1285.1 2010.0,1275.6 2038.0,1275.6 2038.0,1285.1" fill="none" stroke="#111" stroke-width="2.4"/>
<text x="2084.5" y="1212.5" font-size="21" text-anchor="middle">0.0001</text>
<polyline points="2070.7,1225.5 2070.7,1216.0 2098.8,1216.0 2098.8,1225.5" fill="none" stroke="#111" stroke-width="2.4"/>
<rect x="1999.3" y="1099.5" width="15.5" height="9.5" fill="#fff" stroke="#111" stroke-width="2"/>
<text x="2020.6" y="1111.5" font-size="21">CTR</text>
<rect x="1999.3" y="1125.5" width="15.5" height="9.5" fill="#93bdf3" stroke="#111" stroke-width="2"/>
<text x="2020.6" y="1137.5" font-size="21">myr-AKT</text>
<text x="10.0" y="1580.6" font-size="33" font-weight="bold" fill="#000">i</text>
<text x="111.2" y="1682.5" font-size="20.5">CTR</text>
<text x="177.8" y="1649.5" font-size="20.5">STS+</text>
<text x="177.8" y="1682.5" font-size="20.5">TMX</text>
<text x="253.0" y="1580.7" font-size="20.5">STS+</text>
<text x="253.0" y="1606.2" font-size="20.5">TMX+</text>
<text x="253.0" y="1631.6" font-size="20.5">ins./</text>
<text x="253.0" y="1657.0" font-size="20.5">lept./</text>
<text x="253.0" y="1682.5" font-size="20.5">IGF1</text>
<text x="323.5" y="1631.2" font-size="20.5">STS+</text>
<text x="323.5" y="1656.9" font-size="20.5">TMX+</text>
<text x="323.5" y="1682.5" font-size="20.5">17βE</text>
<rect x="96.5" y="1692.5" width="284.2" height="65.7" fill="#f9f9f9"/>
<clipPath id="cl25"><rect x="96.5" y="1692.5" width="284.2" height="65.7"/></clipPath>
<g clip-path="url(#cl25)">
<rect x="103.6" y="1721.4" width="51.0" height="21.0" rx="10.5" fill="#000" fill-opacity="0.320" filter="url(#b7)"/>
<rect x="106.6" y="1725.6" width="45.0" height="12.7" rx="8.9" ry="6.3" fill="#000" fill-opacity="1.000" filter="url(#b1)"/>
<rect x="177.0" y="1722.5" width="52.0" height="23.0" rx="11.5" fill="#000" fill-opacity="0.320" filter="url(#b2)"/>
<rect x="180.0" y="1727.0" width="46.0" height="14.0" rx="9.8" ry="7.0" fill="#000" fill-opacity="1.000" filter="url(#b1)"/>
<rect x="249.0" y="1727.5" width="46.7" height="15.5" rx="7.8" fill="#000" fill-opacity="0.320" filter="url(#b6)" transform="rotate(2.68 272.3 1735.2)"/>
<rect x="252.0" y="1730.7" width="40.7" height="9.0" rx="6.3" ry="4.5" fill="#000" fill-opacity="1.000" filter="url(#b4)" transform="rotate(2.68 272.3 1735.2)"/>
<rect x="319.4" y="1727.4" width="46.7" height="12.1" rx="6.0" fill="#000" fill-opacity="0.232" filter="url(#b12)"/>
<rect x="322.4" y="1730.1" width="40.7" height="6.7" rx="4.7" ry="3.4" fill="#000" fill-opacity="0.724" filter="url(#b4)"/>
<rect x="104.1" y="1710.2" width="50.0" height="15.5" rx="7.8" fill="#000" fill-opacity="0.161" filter="url(#b6)"/>
<rect x="107.1" y="1713.5" width="44.0" height="9.0" rx="6.3" ry="4.5" fill="#000" fill-opacity="0.503" filter="url(#b12)"/>
<rect x="177.0" y="1711.2" width="52.0" height="15.5" rx="7.8" fill="#000" fill-opacity="0.176" filter="url(#b6)"/>
<rect x="180.0" y="1714.5" width="46.0" height="9.0" rx="6.3" ry="4.5" fill="#000" fill-opacity="0.549" filter="url(#b12)"/>
<rect x="249.3" y="1715.1" width="46.0" height="13.2" rx="6.6" fill="#000" fill-opacity="0.245" filter="url(#b3)"/>
<rect x="252.3" y="1718.0" width="40.0" height="7.5" rx="5.2" ry="3.8" fill="#000" fill-opacity="0.765" filter="url(#b4)"/>
<rect x="319.8" y="1712.9" width="46.0" height="13.2" rx="6.6" fill="#000" fill-opacity="0.204" filter="url(#b3)"/>
<rect x="322.8" y="1715.8" width="40.0" height="7.5" rx="5.2" ry="3.8" fill="#000" fill-opacity="0.639" filter="url(#b4)"/>
<rect x="104.1" y="1690.5" width="50.0" height="35.0" rx="17.5" fill="#000" fill-opacity="0.113" filter="url(#b15)"/>
<rect x="107.1" y="1697.0" width="44.0" height="22.0" rx="15.4" ry="11.0" fill="#000" fill-opacity="0.354" filter="url(#b7)"/>
<rect x="177.0" y="1690.5" width="52.0" height="35.0" rx="17.5" fill="#000" fill-opacity="0.123" filter="url(#b15)"/>
<rect x="180.0" y="1697.0" width="46.0" height="22.0" rx="15.4" ry="11.0" fill="#000" fill-opacity="0.385" filter="url(#b7)"/>
<rect x="105.1" y="1736.0" width="48.0" height="20.0" rx="10.0" fill="#000" fill-opacity="0.077" filter="url(#b7)"/>
<rect x="108.1" y="1740.0" width="42.0" height="12.0" rx="8.4" ry="6.0" fill="#000" fill-opacity="0.241" filter="url(#b5)"/>
<rect x="178.0" y="1737.0" width="50.0" height="20.0" rx="10.0" fill="#000" fill-opacity="0.088" filter="url(#b7)"/>
<rect x="181.0" y="1741.0" width="44.0" height="12.0" rx="8.4" ry="6.0" fill="#000" fill-opacity="0.276" filter="url(#b5)"/>
<rect x="249.3" y="1704.5" width="46.0" height="47.0" rx="23.0" fill="#000" fill-opacity="0.065" filter="url(#b16)"/>
<rect x="252.3" y="1713.0" width="40.0" height="30.0" rx="20.0" ry="15.0" fill="#000" fill-opacity="0.204" filter="url(#b7)"/>
<rect x="319.8" y="1702.5" width="46.0" height="47.0" rx="23.0" fill="#000" fill-opacity="0.057" filter="url(#b16)"/>
<rect x="322.8" y="1711.0" width="40.0" height="30.0" rx="20.0" ry="15.0" fill="#000" fill-opacity="0.178" filter="url(#b7)"/>
</g>
<rect x="96.5" y="1692.5" width="284.2" height="65.7" fill="none" stroke="#3a3a3a" stroke-width="1.5"/>
<text x="89.2" y="1746.0" font-size="21" text-anchor="end">EGR1</text>
<rect x="96.5" y="1770.5" width="284.2" height="66.0" fill="#f1f1f1"/>
<clipPath id="cl26"><rect x="96.5" y="1770.5" width="284.2" height="66.0"/></clipPath>
<g clip-path="url(#cl26)">
<rect x="106.5" y="1795.4" width="49.0" height="22.2" rx="11.1" fill="#000" fill-opacity="0.320" filter="url(#b2)"/>
<rect x="109.5" y="1799.8" width="43.0" height="13.5" rx="9.4" ry="6.8" fill="#000" fill-opacity="1.000" filter="url(#b1)"/>
<rect x="174.8" y="1795.3" width="53.5" height="26.8" rx="13.4" fill="#000" fill-opacity="0.320" filter="url(#b10)"/>
<rect x="177.8" y="1800.5" width="47.5" height="16.5" rx="11.5" ry="8.2" fill="#000" fill-opacity="1.000" filter="url(#b8)"/>
<rect x="246.0" y="1801.0" width="54.0" height="20.0" rx="10.0" fill="#000" fill-opacity="0.320" filter="url(#b7)"/>
<rect x="249.0" y="1805.0" width="48.0" height="12.0" rx="8.4" ry="6.0" fill="#000" fill-opacity="1.000" filter="url(#b1)"/>
<rect x="320.2" y="1802.8" width="47.5" height="17.8" rx="8.9" fill="#000" fill-opacity="0.320" filter="url(#b5)"/>
<rect x="323.2" y="1806.5" width="41.5" height="10.5" rx="7.3" ry="5.2" fill="#000" fill-opacity="1.000" filter="url(#b1)"/>
</g>
<rect x="96.5" y="1770.5" width="284.2" height="66.0" fill="none" stroke="#3a3a3a" stroke-width="1.5"/>
<text x="89.2" y="1812.5" font-size="21" text-anchor="end">PTEN</text>
<rect x="96.5" y="1847.0" width="284.2" height="65.5" fill="#f9f9f9"/>
<clipPath id="cl27"><rect x="96.5" y="1847.0" width="284.2" height="65.5"/></clipPath>
<g clip-path="url(#cl27)">
<rect x="104.2" y="1861.0" width="49.7" height="26.0" rx="13.0" fill="#000" fill-opacity="0.176" filter="url(#b10)"/>
<rect x="107.2" y="1866.0" width="43.7" height="16.0" rx="11.2" ry="8.0" fill="#000" fill-opacity="0.549" filter="url(#b5)"/>
<rect x="104.2" y="1881.2" width="49.7" height="15.5" rx="7.8" fill="#000" fill-opacity="0.167" filter="url(#b6)"/>
<rect x="107.2" y="1884.5" width="43.7" height="9.0" rx="6.3" ry="4.5" fill="#000" fill-opacity="0.522" filter="url(#b3)"/>
<rect x="175.5" y="1858.6" width="52.0" height="44.0" rx="22.0" fill="#000" fill-opacity="0.320" filter="url(#b17)"/>
<rect x="178.5" y="1866.6" width="46.0" height="28.0" rx="19.6" ry="14.0" fill="#000" fill-opacity="1.000" filter="url(#b6)"/>
<rect x="247.5" y="1862.8" width="52.0" height="38.0" rx="19.0" fill="#000" fill-opacity="0.130" filter="url(#b18)"/>
<rect x="250.5" y="1869.8" width="46.0" height="24.0" rx="16.8" ry="12.0" fill="#000" fill-opacity="0.405" filter="url(#b7)"/>
<rect x="268.0" y="1865.5" width="28.0" height="17.0" rx="8.5" fill="#000" fill-opacity="0.113" filter="url(#b5)"/>
<rect x="271.0" y="1869.0" width="22.0" height="10.0" rx="7.0" ry="5.0" fill="#000" fill-opacity="0.354" filter="url(#b3)"/>
<rect x="324.1" y="1867.2" width="44.5" height="24.5" rx="12.2" fill="#000" fill-opacity="0.258" filter="url(#b9)"/>
<rect x="327.1" y="1872.0" width="38.5" height="15.0" rx="10.5" ry="7.5" fill="#000" fill-opacity="0.806" filter="url(#b3)"/>
<rect x="324.3" y="1884.0" width="44.0" height="14.0" rx="7.0" fill="#000" fill-opacity="0.161" filter="url(#b3)"/>
<rect x="327.3" y="1887.0" width="38.0" height="8.0" rx="5.6" ry="4.0" fill="#000" fill-opacity="0.503" filter="url(#b3)"/>
</g>
<rect x="96.5" y="1847.0" width="284.2" height="65.5" fill="none" stroke="#3a3a3a" stroke-width="1.5"/>
<text x="89.2" y="1888.5" font-size="21" text-anchor="end">4E-BP1</text>
<rect x="96.5" y="1923.7" width="284.2" height="66.0" fill="#f9f9f9"/>
<clipPath id="cl28"><rect x="96.5" y="1923.7" width="284.2" height="66.0"/></clipPath>
<g clip-path="url(#cl28)">
<rect x="109.5" y="1949.2" width="49.0" height="14.5" rx="7.2" fill="#000" fill-opacity="0.320" filter="url(#b6)" transform="rotate(2.54 134.0 1956.4)"/>
<rect x="112.5" y="1952.2" width="43.0" height="8.3" rx="5.8" ry="4.2" fill="#000" fill-opacity="1.000" filter="url(#b4)" transform="rotate(2.54 134.0 1956.4)"/>
<rect x="177.9" y="1952.0" width="54.0" height="12.5" rx="6.2" fill="#000" fill-opacity="0.320" filter="url(#b3)" transform="rotate(6.84 204.9 1958.2)"/>
<rect x="180.9" y="1954.7" width="48.0" height="7.0" rx="4.9" ry="3.5" fill="#000" fill-opacity="1.000" filter="url(#b4)" transform="rotate(6.84 204.9 1958.2)"/>
<rect x="249.8" y="1957.1" width="57.0" height="11.8" rx="5.9" fill="#000" fill-opacity="0.320" filter="url(#b12)"/>
<rect x="252.8" y="1959.8" width="51.0" height="6.5" rx="4.5" ry="3.2" fill="#000" fill-opacity="1.000" filter="url(#b4)"/>
<rect x="323.2" y="1959.5" width="52.8" height="11.8" rx="5.9" fill="#000" fill-opacity="0.308" filter="url(#b12)" transform="rotate(3.52 349.6 1965.4)"/>
<rect x="326.2" y="1962.2" width="46.8" height="6.5" rx="4.5" ry="3.2" fill="#000" fill-opacity="0.962" filter="url(#b4)" transform="rotate(3.52 349.6 1965.4)"/>
<rect x="110.0" y="1934.2" width="48.0" height="9.5" rx="4.8" fill="#000" fill-opacity="0.023" filter="url(#b8)"/>
<rect x="113.0" y="1936.5" width="42.0" height="5.0" rx="3.5" ry="2.5" fill="#000" fill-opacity="0.072" filter="url(#b12)"/>
<rect x="180.9" y="1934.2" width="48.0" height="9.5" rx="4.8" fill="#000" fill-opacity="0.023" filter="url(#b8)"/>
<rect x="183.9" y="1936.5" width="42.0" height="5.0" rx="3.5" ry="2.5" fill="#000" fill-opacity="0.072" filter="url(#b12)"/>
</g>
<rect x="96.5" y="1923.7" width="284.2" height="66.0" fill="none" stroke="#3a3a3a" stroke-width="1.5"/>
<text x="89.2" y="1960.5" font-size="21" text-anchor="end">Vinculin</text>
<text x="492.0" y="1581.0" font-size="33" font-weight="bold" fill="#000">j</text>
<line x1="514.3" y1="1614.3" x2="585.7" y2="1614.3" stroke="#333" stroke-width="1.3"/>
<line x1="716.0" y1="1614.3" x2="788.2" y2="1614.3" stroke="#333" stroke-width="1.3"/>
<line x1="514.3" y1="1613.7" x2="514.3" y2="1631.4" stroke="#333" stroke-width="1.3"/>
<line x1="788.2" y1="1613.7" x2="788.2" y2="1631.4" stroke="#333" stroke-width="1.3"/>
<text x="653.6" y="1621.0" font-size="21" text-anchor="middle">vector</text>
<line x1="808.9" y1="1614.3" x2="864.3" y2="1614.3" stroke="#333" stroke-width="1.3"/>
<line x1="1026.8" y1="1614.3" x2="1082.1" y2="1614.3" stroke="#333" stroke-width="1.3"/>
<line x1="808.9" y1="1613.7" x2="808.9" y2="1631.4" stroke="#333" stroke-width="1.3"/>
<line x1="1082.1" y1="1613.7" x2="1082.1" y2="1631.4" stroke="#333" stroke-width="1.3"/>
<text x="946.4" y="1621.0" font-size="21" text-anchor="middle">myr-AKT</text>
<text x="542.9" y="1667.1" font-size="21.5" text-anchor="middle">CTR</text>
<text x="618.6" y="1667.1" font-size="21.5" text-anchor="middle">TMX</text>
<text x="687.5" y="1667.1" font-size="21.5" text-anchor="middle">STS</text>
<text x="757.1" y="1642.1" font-size="21.5" text-anchor="middle">STS+</text>
<text x="757.1" y="1667.1" font-size="21.5" text-anchor="middle">TMX</text>
<text x="832.1" y="1667.1" font-size="21.5" text-anchor="middle">CTR</text>
<text x="902.9" y="1667.1" font-size="21.5" text-anchor="middle">TMX</text>
<text x="977.9" y="1667.1" font-size="21.5" text-anchor="middle">STS</text>
<text x="1047.1" y="1642.1" font-size="21.5" text-anchor="middle">STS+</text>
<text x="1047.1" y="1667.1" font-size="21.5" text-anchor="middle">TMX</text>
<rect x="506.4" y="1673.4" width="581.6" height="51.2" fill="url(#gradj)"/>
<clipPath id="cl29"><rect x="506.4" y="1673.4" width="581.6" height="51.2"/></clipPath>
<g clip-path="url(#cl29)">
<rect x="514.8" y="1689.8" width="53.0" height="21.5" rx="10.8" fill="#000" fill-opacity="0.176" filter="url(#b7)"/>
<rect x="517.8" y="1694.0" width="47.0" height="13.0" rx="9.1" ry="6.5" fill="#000" fill-opacity="0.549" filter="url(#b1)"/>
<rect x="588.4" y="1691.2" width="52.0" height="21.5" rx="10.8" fill="#000" fill-opacity="0.271" filter="url(#b7)"/>
<rect x="591.4" y="1695.5" width="46.0" height="13.0" rx="9.1" ry="6.5" fill="#000" fill-opacity="0.846" filter="url(#b1)"/>
<rect x="661.0" y="1694.0" width="52.0" height="21.5" rx="10.8" fill="#000" fill-opacity="0.245" filter="url(#b7)"/>
<rect x="664.0" y="1698.2" width="46.0" height="13.0" rx="9.1" ry="6.5" fill="#000" fill-opacity="0.765" filter="url(#b1)"/>
<rect x="733.7" y="1691.3" width="53.0" height="24.5" rx="12.2" fill="#000" fill-opacity="0.296" filter="url(#b9)"/>
<rect x="736.7" y="1696.1" width="47.0" height="15.0" rx="10.5" ry="7.5" fill="#000" fill-opacity="0.924" filter="url(#b8)"/>
<rect x="806.2" y="1693.0" width="51.5" height="20.0" rx="10.0" fill="#000" fill-opacity="0.176" filter="url(#b7)"/>
<rect x="809.2" y="1697.0" width="45.5" height="12.0" rx="8.4" ry="6.0" fill="#000" fill-opacity="0.549" filter="url(#b1)"/>
<rect x="876.7" y="1691.3" width="54.0" height="20.0" rx="10.0" fill="#000" fill-opacity="0.204" filter="url(#b7)"/>
<rect x="879.7" y="1695.3" width="48.0" height="12.0" rx="8.4" ry="6.0" fill="#000" fill-opacity="0.639" filter="url(#b1)"/>
<rect x="950.2" y="1689.3" width="51.5" height="18.5" rx="9.2" fill="#000" fill-opacity="0.146" filter="url(#b0)"/>
<rect x="953.2" y="1693.1" width="45.5" height="11.0" rx="7.7" ry="5.5" fill="#000" fill-opacity="0.455" filter="url(#b8)"/>
<rect x="1023.7" y="1687.8" width="57.6" height="18.5" rx="9.2" fill="#000" fill-opacity="0.271" filter="url(#b0)" transform="rotate(-3.20 1052.5 1697.0)"/>
<rect x="1026.7" y="1691.5" width="51.6" height="11.0" rx="7.7" ry="5.5" fill="#000" fill-opacity="0.846" filter="url(#b1)" transform="rotate(-3.20 1052.5 1697.0)"/>
</g>
<rect x="506.4" y="1673.4" width="581.6" height="51.2" fill="none" stroke="#3a3a3a" stroke-width="1.5"/>
<text x="498.2" y="1710.5" font-size="21" text-anchor="end">EGR1</text>
<rect x="506.4" y="1735.3" width="581.6" height="50.9" fill="#f9f9f9"/>
<clipPath id="cl30"><rect x="506.4" y="1735.3" width="581.6" height="50.9"/></clipPath>
<g clip-path="url(#cl30)">
<rect x="519.5" y="1737.2" width="62.0" height="21.5" rx="10.8" fill="#000" fill-opacity="0.320" filter="url(#b7)"/>
<rect x="522.5" y="1741.5" width="56.0" height="13.0" rx="9.1" ry="6.5" fill="#000" fill-opacity="1.000" filter="url(#b1)"/>
<rect x="589.8" y="1740.3" width="63.0" height="23.0" rx="11.5" fill="#000" fill-opacity="0.320" filter="url(#b2)"/>
<rect x="592.8" y="1744.8" width="57.0" height="14.0" rx="9.8" ry="7.0" fill="#000" fill-opacity="1.000" filter="url(#b1)"/>
<rect x="659.7" y="1742.2" width="61.0" height="21.5" rx="10.8" fill="#000" fill-opacity="0.320" filter="url(#b7)"/>
<rect x="662.7" y="1746.5" width="55.0" height="13.0" rx="9.1" ry="6.5" fill="#000" fill-opacity="1.000" filter="url(#b1)"/>
<rect x="726.2" y="1745.2" width="71.0" height="18.5" rx="9.2" fill="#000" fill-opacity="0.271" filter="url(#b0)"/>
<rect x="729.2" y="1748.9" width="65.0" height="11.0" rx="7.7" ry="5.5" fill="#000" fill-opacity="0.846" filter="url(#b1)"/>
<rect x="803.0" y="1743.7" width="64.0" height="20.0" rx="10.0" fill="#000" fill-opacity="0.320" filter="url(#b7)"/>
<rect x="806.0" y="1747.7" width="58.0" height="12.0" rx="8.4" ry="6.0" fill="#000" fill-opacity="1.000" filter="url(#b1)"/>
<rect x="871.2" y="1742.0" width="64.0" height="20.0" rx="10.0" fill="#000" fill-opacity="0.320" filter="url(#b7)"/>
<rect x="874.2" y="1746.0" width="58.0" height="12.0" rx="8.4" ry="6.0" fill="#000" fill-opacity="1.000" filter="url(#b1)"/>
<rect x="939.5" y="1742.0" width="65.0" height="20.0" rx="10.0" fill="#000" fill-opacity="0.320" filter="url(#b7)"/>
<rect x="942.5" y="1746.0" width="59.0" height="12.0" rx="8.4" ry="6.0" fill="#000" fill-opacity="1.000" filter="url(#b1)"/>
<rect x="1008.5" y="1739.8" width="68.0" height="17.0" rx="8.5" fill="#000" fill-opacity="0.283" filter="url(#b5)" transform="rotate(-2.68 1042.5 1748.3)"/>
<rect x="1011.5" y="1743.3" width="62.0" height="10.0" rx="7.0" ry="5.0" fill="#000" fill-opacity="0.885" filter="url(#b4)" transform="rotate(-2.68 1042.5 1748.3)"/>
<rect x="524.9" y="1760.5" width="49.0" height="11.0" rx="5.5" fill="#000" fill-opacity="0.130" filter="url(#b12)"/>
<rect x="527.9" y="1763.0" width="43.0" height="6.0" rx="4.2" ry="3.0" fill="#000" fill-opacity="0.405" filter="url(#b8)"/>
<rect x="599.0" y="1764.8" width="44.0" height="9.5" rx="4.8" fill="#000" fill-opacity="0.123" filter="url(#b8)"/>
<rect x="602.0" y="1767.1" width="38.0" height="5.0" rx="3.5" ry="2.5" fill="#000" fill-opacity="0.385" filter="url(#b8)"/>
<rect x="667.0" y="1766.2" width="46.0" height="9.5" rx="4.8" fill="#000" fill-opacity="0.123" filter="url(#b8)"/>
<rect x="670.0" y="1768.5" width="40.0" height="5.0" rx="3.5" ry="2.5" fill="#000" fill-opacity="0.385" filter="url(#b8)"/>
<rect x="739.0" y="1767.8" width="46.0" height="9.5" rx="4.8" fill="#000" fill-opacity="0.113" filter="url(#b8)"/>
<rect x="742.0" y="1770.1" width="40.0" height="5.0" rx="3.5" ry="2.5" fill="#000" fill-opacity="0.354" filter="url(#b8)"/>
<rect x="812.0" y="1768.0" width="44.0" height="9.5" rx="4.8" fill="#000" fill-opacity="0.130" filter="url(#b8)"/>
<rect x="815.0" y="1770.3" width="38.0" height="5.0" rx="3.5" ry="2.5" fill="#000" fill-opacity="0.405" filter="url(#b8)"/>
<rect x="881.0" y="1764.2" width="44.0" height="9.5" rx="4.8" fill="#000" fill-opacity="0.096" filter="url(#b8)"/>
<rect x="884.0" y="1766.4" width="38.0" height="5.0" rx="3.5" ry="2.5" fill="#000" fill-opacity="0.299" filter="url(#b8)"/>
<rect x="950.0" y="1765.7" width="44.0" height="9.5" rx="4.8" fill="#000" fill-opacity="0.088" filter="url(#b8)"/>
<rect x="953.0" y="1767.9" width="38.0" height="5.0" rx="3.5" ry="2.5" fill="#000" fill-opacity="0.276" filter="url(#b8)"/>
<rect x="1021.0" y="1763.9" width="44.0" height="8.0" rx="4.0" fill="#000" fill-opacity="0.065" filter="url(#b8)"/>
<rect x="1024.0" y="1765.9" width="38.0" height="4.0" rx="2.8" ry="2.0" fill="#000" fill-opacity="0.204" filter="url(#b8)"/>
</g>
<rect x="506.4" y="1735.3" width="581.6" height="50.9" fill="none" stroke="#3a3a3a" stroke-width="1.5"/>
<text x="498.2" y="1763.0" font-size="21" text-anchor="end">GAPDH</text>
<text x="542.9" y="1859.3" font-size="21.5" text-anchor="middle">CTR</text>
<text x="618.6" y="1859.3" font-size="21.5" text-anchor="middle">FULV</text>
<text x="687.5" y="1859.3" font-size="21.5" text-anchor="middle">STS</text>
<text x="757.1" y="1833.2" font-size="21.5" text-anchor="middle">STS+</text>
<text x="757.1" y="1859.3" font-size="21.5" text-anchor="middle">FULV</text>
<text x="832.1" y="1859.3" font-size="21.5" text-anchor="middle">CTR</text>
<text x="902.9" y="1859.3" font-size="21.5" text-anchor="middle">FULV</text>
<text x="977.9" y="1859.3" font-size="21.5" text-anchor="middle">STS</text>
<text x="1047.1" y="1833.2" font-size="21.5" text-anchor="middle">STS+</text>
<text x="1047.1" y="1859.3" font-size="21.5" text-anchor="middle">FULV</text>
<rect x="506.4" y="1866.4" width="581.6" height="51.0" fill="#f9f9f9"/>
<clipPath id="cl31"><rect x="506.4" y="1866.4" width="581.6" height="51.0"/></clipPath>
<g clip-path="url(#cl31)">
<rect x="515.5" y="1884.4" width="67.0" height="14.0" rx="7.0" fill="#000" fill-opacity="0.218" filter="url(#b3)"/>
<rect x="518.5" y="1887.4" width="61.0" height="8.0" rx="5.6" ry="4.0" fill="#000" fill-opacity="0.682" filter="url(#b4)"/>
<rect x="587.5" y="1883.8" width="65.0" height="18.5" rx="9.2" fill="#000" fill-opacity="0.320" filter="url(#b0)"/>
<rect x="590.5" y="1887.5" width="59.0" height="11.0" rx="7.7" ry="5.5" fill="#000" fill-opacity="1.000" filter="url(#b1)"/>
<rect x="654.2" y="1884.5" width="71.0" height="17.0" rx="8.5" fill="#000" fill-opacity="0.320" filter="url(#b5)"/>
<rect x="657.2" y="1888.0" width="65.0" height="10.0" rx="7.0" ry="5.0" fill="#000" fill-opacity="1.000" filter="url(#b4)"/>
<rect x="726.1" y="1884.4" width="65.0" height="19.2" rx="9.6" fill="#000" fill-opacity="0.320" filter="url(#b0)"/>
<rect x="729.1" y="1888.2" width="59.0" height="11.5" rx="8.0" ry="5.8" fill="#000" fill-opacity="1.000" filter="url(#b1)"/>
<rect x="794.0" y="1883.7" width="68.0" height="15.5" rx="7.8" fill="#000" fill-opacity="0.258" filter="url(#b6)"/>
<rect x="797.0" y="1886.9" width="62.0" height="9.0" rx="6.3" ry="4.5" fill="#000" fill-opacity="0.806" filter="url(#b4)"/>
<rect x="864.5" y="1886.3" width="71.0" height="14.0" rx="7.0" fill="#000" fill-opacity="0.245" filter="url(#b3)"/>
<rect x="867.5" y="1889.3" width="65.0" height="8.0" rx="5.6" ry="4.0" fill="#000" fill-opacity="0.765" filter="url(#b4)"/>
<rect x="934.9" y="1886.0" width="73.0" height="14.0" rx="7.0" fill="#000" fill-opacity="0.245" filter="url(#b3)"/>
<rect x="937.9" y="1889.0" width="67.0" height="8.0" rx="5.6" ry="4.0" fill="#000" fill-opacity="0.765" filter="url(#b4)"/>
<rect x="1008.3" y="1887.0" width="70.0" height="12.5" rx="6.2" fill="#000" fill-opacity="0.245" filter="url(#b3)"/>
<rect x="1011.3" y="1889.8" width="64.0" height="7.0" rx="4.9" ry="3.5" fill="#000" fill-opacity="0.765" filter="url(#b4)"/>
<rect x="527.0" y="1907.5" width="44.0" height="8.0" rx="4.0" fill="#000" fill-opacity="0.057" filter="url(#b8)"/>
<rect x="530.0" y="1909.5" width="38.0" height="4.0" rx="2.8" ry="2.0" fill="#000" fill-opacity="0.178" filter="url(#b8)"/>
<rect x="598.0" y="1907.5" width="44.0" height="8.0" rx="4.0" fill="#000" fill-opacity="0.057" filter="url(#b8)"/>
<rect x="601.0" y="1909.5" width="38.0" height="4.0" rx="2.8" ry="2.0" fill="#000" fill-opacity="0.178" filter="url(#b8)"/>
<rect x="668.0" y="1907.5" width="44.0" height="8.0" rx="4.0" fill="#000" fill-opacity="0.057" filter="url(#b8)"/>
<rect x="671.0" y="1909.5" width="38.0" height="4.0" rx="2.8" ry="2.0" fill="#000" fill-opacity="0.178" filter="url(#b8)"/>
</g>
<rect x="506.4" y="1866.4" width="581.6" height="51.0" fill="none" stroke="#3a3a3a" stroke-width="1.5"/>
<text x="498.2" y="1910.0" font-size="21" text-anchor="end">EGR1</text>
<rect x="506.4" y="1928.6" width="581.6" height="51.6" fill="#f9f9f9"/>
<clipPath id="cl32"><rect x="506.4" y="1928.6" width="581.6" height="51.6"/></clipPath>
<g clip-path="url(#cl32)">
<rect x="513.0" y="1937.2" width="72.0" height="21.5" rx="10.8" fill="#000" fill-opacity="0.320" filter="url(#b7)"/>
<rect x="516.0" y="1941.5" width="66.0" height="13.0" rx="9.1" ry="6.5" fill="#000" fill-opacity="1.000" filter="url(#b1)"/>
<rect x="583.0" y="1939.5" width="74.0" height="21.5" rx="10.8" fill="#000" fill-opacity="0.320" filter="url(#b7)"/>
<rect x="586.0" y="1943.8" width="68.0" height="13.0" rx="9.1" ry="6.5" fill="#000" fill-opacity="1.000" filter="url(#b1)"/>
<rect x="653.0" y="1941.8" width="74.0" height="21.5" rx="10.8" fill="#000" fill-opacity="0.320" filter="url(#b7)"/>
<rect x="656.0" y="1946.1" width="68.0" height="13.0" rx="9.1" ry="6.5" fill="#000" fill-opacity="1.000" filter="url(#b1)"/>
<rect x="722.0" y="1942.2" width="74.0" height="21.5" rx="10.8" fill="#000" fill-opacity="0.320" filter="url(#b7)"/>
<rect x="725.0" y="1946.5" width="68.0" height="13.0" rx="9.1" ry="6.5" fill="#000" fill-opacity="1.000" filter="url(#b1)"/>
<rect x="791.0" y="1943.2" width="74.0" height="21.5" rx="10.8" fill="#000" fill-opacity="0.320" filter="url(#b7)"/>
<rect x="794.0" y="1947.5" width="68.0" height="13.0" rx="9.1" ry="6.5" fill="#000" fill-opacity="1.000" filter="url(#b1)"/>
<rect x="863.0" y="1943.2" width="74.0" height="21.5" rx="10.8" fill="#000" fill-opacity="0.320" filter="url(#b7)"/>
<rect x="866.0" y="1947.5" width="68.0" height="13.0" rx="9.1" ry="6.5" fill="#000" fill-opacity="1.000" filter="url(#b1)"/>
<rect x="934.0" y="1943.2" width="74.0" height="21.5" rx="10.8" fill="#000" fill-opacity="0.320" filter="url(#b7)"/>
<rect x="937.0" y="1947.5" width="68.0" height="13.0" rx="9.1" ry="6.5" fill="#000" fill-opacity="1.000" filter="url(#b1)"/>
<rect x="1006.0" y="1942.0" width="74.0" height="20.0" rx="10.0" fill="#000" fill-opacity="0.320" filter="url(#b7)"/>
<rect x="1009.0" y="1946.0" width="68.0" height="12.0" rx="8.4" ry="6.0" fill="#000" fill-opacity="1.000" filter="url(#b1)"/>
<rect x="526.0" y="1959.2" width="46.0" height="9.5" rx="4.8" fill="#000" fill-opacity="0.130" filter="url(#b8)"/>
<rect x="529.0" y="1961.5" width="40.0" height="5.0" rx="3.5" ry="2.5" fill="#000" fill-opacity="0.405" filter="url(#b8)"/>
<rect x="597.0" y="1959.8" width="46.0" height="9.5" rx="4.8" fill="#000" fill-opacity="0.130" filter="url(#b8)"/>
<rect x="600.0" y="1962.0" width="40.0" height="5.0" rx="3.5" ry="2.5" fill="#000" fill-opacity="0.405" filter="url(#b8)"/>
<rect x="667.0" y="1962.2" width="46.0" height="9.5" rx="4.8" fill="#000" fill-opacity="0.096" filter="url(#b8)"/>
<rect x="670.0" y="1964.5" width="40.0" height="5.0" rx="3.5" ry="2.5" fill="#000" fill-opacity="0.299" filter="url(#b8)"/>
<rect x="736.0" y="1964.7" width="46.0" height="9.5" rx="4.8" fill="#000" fill-opacity="0.130" filter="url(#b8)"/>
<rect x="739.0" y="1966.9" width="40.0" height="5.0" rx="3.5" ry="2.5" fill="#000" fill-opacity="0.405" filter="url(#b8)"/>
<rect x="808.0" y="1964.7" width="44.0" height="9.5" rx="4.8" fill="#000" fill-opacity="0.113" filter="url(#b8)"/>
<rect x="811.0" y="1966.9" width="38.0" height="5.0" rx="3.5" ry="2.5" fill="#000" fill-opacity="0.354" filter="url(#b8)"/>
<rect x="878.0" y="1964.7" width="44.0" height="9.5" rx="4.8" fill="#000" fill-opacity="0.096" filter="url(#b8)"/>
<rect x="881.0" y="1966.9" width="38.0" height="5.0" rx="3.5" ry="2.5" fill="#000" fill-opacity="0.299" filter="url(#b8)"/>
<rect x="949.0" y="1964.7" width="44.0" height="9.5" rx="4.8" fill="#000" fill-opacity="0.113" filter="url(#b8)"/>
<rect x="952.0" y="1966.9" width="38.0" height="5.0" rx="3.5" ry="2.5" fill="#000" fill-opacity="0.354" filter="url(#b8)"/>
<rect x="1021.0" y="1964.7" width="44.0" height="9.5" rx="4.8" fill="#000" fill-opacity="0.096" filter="url(#b8)"/>
<rect x="1024.0" y="1966.9" width="38.0" height="5.0" rx="3.5" ry="2.5" fill="#000" fill-opacity="0.299" filter="url(#b8)"/>
</g>
<rect x="506.4" y="1928.6" width="581.6" height="51.6" fill="none" stroke="#3a3a3a" stroke-width="1.5"/>
<text x="498.2" y="1962.0" font-size="21" text-anchor="end">GAPDH</text>
<text x="1139.0" y="1581.4" font-size="33" font-weight="bold" fill="#000">k</text>
<text x="1322.9" y="1581.4" font-size="21" text-anchor="middle" font-style="italic">EGR1</text>
<text x="1566.4" y="1581.4" font-size="21" text-anchor="middle" font-style="italic">PTEN</text>
<line x1="1221.0" y1="1673.2" x2="1221.0" y2="1914.6" stroke="#111" stroke-width="2.8"/>
<line x1="1212.9" y1="1913.6" x2="1666.4" y2="1913.6" stroke="#111" stroke-width="2.8"/>
<line x1="1212.9" y1="1913.6" x2="1221.0" y2="1913.6" stroke="#111" stroke-width="2.4"/>
<text x="1209.5" y="1921.1" font-size="21" text-anchor="end">0</text>
<line x1="1212.9" y1="1853.8" x2="1221.0" y2="1853.8" stroke="#111" stroke-width="2.4"/>
<text x="1209.5" y="1861.3" font-size="21" text-anchor="end">0.4</text>
<line x1="1212.9" y1="1793.9" x2="1221.0" y2="1793.9" stroke="#111" stroke-width="2.4"/>
<text x="1209.5" y="1801.4" font-size="21" text-anchor="end">0.8</text>
<line x1="1212.9" y1="1734.1" x2="1221.0" y2="1734.1" stroke="#111" stroke-width="2.4"/>
<text x="1209.5" y="1741.6" font-size="21" text-anchor="end">1.2</text>
<line x1="1212.9" y1="1674.2" x2="1221.0" y2="1674.2" stroke="#111" stroke-width="2.4"/>
<text x="1209.5" y="1681.7" font-size="21" text-anchor="end">1.6</text>
<text x="1166.5" y="1794.0" font-size="21" transform="rotate(-90 1166.5 1794.0)" text-anchor="middle">Expression level</text>
<line x1="1442.5" y1="1680.7" x2="1442.5" y2="1920.7" stroke="#111" stroke-width="2.6"/>
<rect x="1226.4" y="1764.0" width="25.8" height="149.6" fill="#fff" stroke="#111" stroke-width="2.6"/>
<rect x="1252.2" y="1764.0" width="25.8" height="149.6" fill="#f5a3a3" stroke="#111" stroke-width="2.6"/>
<rect x="1249.5" y="1763.5" width="5.5" height="150.1" fill="#111"/>
<line x1="1239.3" y1="1764.0" x2="1239.3" y2="1753.5" stroke="#111" stroke-width="2.8"/>
<line x1="1233.5" y1="1753.5" x2="1245.1" y2="1753.5" stroke="#111" stroke-width="2.8"/>
<circle cx="1231.3" cy="1743.1" r="3.9" fill="none" stroke="#111" stroke-width="1.4"/>
<circle cx="1239.3" cy="1793.9" r="3.9" fill="none" stroke="#111" stroke-width="1.4"/>
<circle cx="1247.3" cy="1761.0" r="3.9" fill="none" stroke="#111" stroke-width="1.4"/>
<line x1="1265.1" y1="1764.0" x2="1265.1" y2="1756.5" stroke="#111" stroke-width="2.8"/>
<line x1="1259.3" y1="1756.5" x2="1270.9" y2="1756.5" stroke="#111" stroke-width="2.8"/>
<circle cx="1257.1" cy="1752.0" r="3.9" fill="none" stroke="#111" stroke-width="1.4"/>
<circle cx="1265.1" cy="1771.5" r="3.9" fill="none" stroke="#111" stroke-width="1.4"/>
<circle cx="1273.1" cy="1765.5" r="3.9" fill="none" stroke="#111" stroke-width="1.4"/>
<rect x="1289.6" y="1713.1" width="25.8" height="200.5" fill="#fff" stroke="#111" stroke-width="2.6"/>
<rect x="1315.4" y="1762.5" width="25.8" height="151.1" fill="#f5a3a3" stroke="#111" stroke-width="2.6"/>
<rect x="1312.6" y="1762.0" width="5.5" height="151.6" fill="#111"/>
<line x1="1302.5" y1="1713.1" x2="1302.5" y2="1707.2" stroke="#111" stroke-width="2.8"/>
<line x1="1296.7" y1="1707.2" x2="1308.3" y2="1707.2" stroke="#111" stroke-width="2.8"/>
<circle cx="1294.5" cy="1707.2" r="3.9" fill="none" stroke="#111" stroke-width="1.4"/>
<circle cx="1302.5" cy="1713.1" r="3.9" fill="none" stroke="#111" stroke-width="1.4"/>
<circle cx="1310.5" cy="1719.1" r="3.9" fill="none" stroke="#111" stroke-width="1.4"/>
<line x1="1328.3" y1="1762.5" x2="1328.3" y2="1756.5" stroke="#111" stroke-width="2.8"/>
<line x1="1322.5" y1="1756.5" x2="1334.1" y2="1756.5" stroke="#111" stroke-width="2.8"/>
<circle cx="1320.3" cy="1753.5" r="3.9" fill="none" stroke="#111" stroke-width="1.4"/>
<circle cx="1328.3" cy="1767.0" r="3.9" fill="none" stroke="#111" stroke-width="1.4"/>
<circle cx="1336.3" cy="1764.0" r="3.9" fill="none" stroke="#111" stroke-width="1.4"/>
<rect x="1352.5" y="1690.7" width="25.8" height="222.9" fill="#fff" stroke="#111" stroke-width="2.6"/>
<rect x="1378.3" y="1804.4" width="25.8" height="109.2" fill="#f5a3a3" stroke="#111" stroke-width="2.6"/>
<rect x="1375.5" y="1803.9" width="5.5" height="109.7" fill="#111"/>
<line x1="1365.4" y1="1690.7" x2="1365.4" y2="1683.2" stroke="#111" stroke-width="2.8"/>
<line x1="1359.6" y1="1683.2" x2="1371.2" y2="1683.2" stroke="#111" stroke-width="2.8"/>
<circle cx="1357.4" cy="1680.2" r="3.9" fill="none" stroke="#111" stroke-width="1.4"/>
<circle cx="1365.4" cy="1701.2" r="3.9" fill="none" stroke="#111" stroke-width="1.4"/>
<circle cx="1373.4" cy="1689.2" r="3.9" fill="none" stroke="#111" stroke-width="1.4"/>
<line x1="1391.2" y1="1804.4" x2="1391.2" y2="1802.9" stroke="#111" stroke-width="2.8"/>
<line x1="1385.4" y1="1802.9" x2="1397.0" y2="1802.9" stroke="#111" stroke-width="2.8"/>
<circle cx="1383.2" cy="1802.9" r="3.9" fill="none" stroke="#111" stroke-width="1.4"/>
<circle cx="1391.2" cy="1802.9" r="3.9" fill="none" stroke="#111" stroke-width="1.4"/>
<circle cx="1399.2" cy="1802.9" r="3.9" fill="none" stroke="#111" stroke-width="1.4"/>
<rect x="1480.0" y="1764.0" width="25.8" height="149.6" fill="#fff" stroke="#111" stroke-width="2.6"/>
<rect x="1505.8" y="1762.5" width="25.8" height="151.1" fill="#f5a3a3" stroke="#111" stroke-width="2.6"/>
<rect x="1503.0" y="1763.5" width="5.5" height="150.1" fill="#111"/>
<line x1="1492.9" y1="1764.0" x2="1492.9" y2="1755.0" stroke="#111" stroke-width="2.8"/>
<line x1="1487.1" y1="1755.0" x2="1498.7" y2="1755.0" stroke="#111" stroke-width="2.8"/>
<circle cx="1484.9" cy="1746.0" r="3.9" fill="none" stroke="#111" stroke-width="1.4"/>
<circle cx="1492.9" cy="1782.0" r="3.9" fill="none" stroke="#111" stroke-width="1.4"/>
<circle cx="1500.9" cy="1764.0" r="3.9" fill="none" stroke="#111" stroke-width="1.4"/>
<line x1="1518.7" y1="1762.5" x2="1518.7" y2="1746.0" stroke="#111" stroke-width="2.8"/>
<line x1="1512.9" y1="1746.0" x2="1524.5" y2="1746.0" stroke="#111" stroke-width="2.8"/>
<circle cx="1510.7" cy="1734.1" r="3.9" fill="none" stroke="#111" stroke-width="1.4"/>
<circle cx="1518.7" cy="1790.9" r="3.9" fill="none" stroke="#111" stroke-width="1.4"/>
<circle cx="1526.7" cy="1764.0" r="3.9" fill="none" stroke="#111" stroke-width="1.4"/>
<rect x="1543.6" y="1720.6" width="25.8" height="193.0" fill="#fff" stroke="#111" stroke-width="2.6"/>
<rect x="1569.4" y="1784.9" width="25.8" height="128.7" fill="#f5a3a3" stroke="#111" stroke-width="2.6"/>
<rect x="1566.6" y="1784.4" width="5.5" height="129.2" fill="#111"/>
<line x1="1556.5" y1="1720.6" x2="1556.5" y2="1717.6" stroke="#111" stroke-width="2.8"/>
<line x1="1550.7" y1="1717.6" x2="1562.3" y2="1717.6" stroke="#111" stroke-width="2.8"/>
<circle cx="1548.5" cy="1719.1" r="3.9" fill="none" stroke="#111" stroke-width="1.4"/>
<circle cx="1556.5" cy="1722.1" r="3.9" fill="none" stroke="#111" stroke-width="1.4"/>
<circle cx="1564.5" cy="1719.1" r="3.9" fill="none" stroke="#111" stroke-width="1.4"/>
<line x1="1582.3" y1="1784.9" x2="1582.3" y2="1780.5" stroke="#111" stroke-width="2.8"/>
<line x1="1576.5" y1="1780.5" x2="1588.1" y2="1780.5" stroke="#111" stroke-width="2.8"/>
<circle cx="1574.3" cy="1777.5" r="3.9" fill="none" stroke="#111" stroke-width="1.4"/>
<circle cx="1582.3" cy="1789.4" r="3.9" fill="none" stroke="#111" stroke-width="1.4"/>
<circle cx="1590.3" cy="1786.4" r="3.9" fill="none" stroke="#111" stroke-width="1.4"/>
<rect x="1607.9" y="1723.6" width="25.8" height="190.0" fill="#fff" stroke="#111" stroke-width="2.6"/>
<rect x="1633.7" y="1790.9" width="25.8" height="122.7" fill="#f5a3a3" stroke="#111" stroke-width="2.6"/>
<rect x="1631.0" y="1790.4" width="5.5" height="123.2" fill="#111"/>
<line x1="1620.8" y1="1723.6" x2="1620.8" y2="1719.1" stroke="#111" stroke-width="2.8"/>
<line x1="1615.0" y1="1719.1" x2="1626.6" y2="1719.1" stroke="#111" stroke-width="2.8"/>
<circle cx="1612.8" cy="1716.1" r="3.9" fill="none" stroke="#111" stroke-width="1.4"/>
<circle cx="1620.8" cy="1728.1" r="3.9" fill="none" stroke="#111" stroke-width="1.4"/>
<circle cx="1628.8" cy="1725.1" r="3.9" fill="none" stroke="#111" stroke-width="1.4"/>
<line x1="1646.6" y1="1790.9" x2="1646.6" y2="1786.4" stroke="#111" stroke-width="2.8"/>
<line x1="1640.8" y1="1786.4" x2="1652.4" y2="1786.4" stroke="#111" stroke-width="2.8"/>
<circle cx="1638.6" cy="1784.9" r="3.9" fill="none" stroke="#111" stroke-width="1.4"/>
<circle cx="1646.6" cy="1793.9" r="3.9" fill="none" stroke="#111" stroke-width="1.4"/>
<circle cx="1654.6" cy="1792.4" r="3.9" fill="none" stroke="#111" stroke-width="1.4"/>
<line x1="1252.2" y1="1913.6" x2="1252.2" y2="1920.6" stroke="#111" stroke-width="2.4"/>
<text x="1259.7" y="1926.0" font-size="21" transform="rotate(-90 1259.7 1926.0)" text-anchor="end">CTR</text>
<line x1="1315.4" y1="1913.6" x2="1315.4" y2="1920.6" stroke="#111" stroke-width="2.4"/>
<text x="1322.9" y="1926.0" font-size="21" transform="rotate(-90 1322.9 1926.0)" text-anchor="end">TMX+STS</text>
<line x1="1378.3" y1="1913.6" x2="1378.3" y2="1920.6" stroke="#111" stroke-width="2.4"/>
<text x="1385.8" y="1926.0" font-size="21" transform="rotate(-90 1385.8 1926.0)" text-anchor="end">FULV+STS</text>
<line x1="1505.8" y1="1913.6" x2="1505.8" y2="1920.6" stroke="#111" stroke-width="2.4"/>
<text x="1513.3" y="1926.0" font-size="21" transform="rotate(-90 1513.3 1926.0)" text-anchor="end">CTR</text>
<line x1="1569.4" y1="1913.6" x2="1569.4" y2="1920.6" stroke="#111" stroke-width="2.4"/>
<text x="1576.9" y="1926.0" font-size="21" transform="rotate(-90 1576.9 1926.0)" text-anchor="end">TMX+STS</text>
<line x1="1633.7" y1="1913.6" x2="1633.7" y2="1920.6" stroke="#111" stroke-width="2.4"/>
<text x="1641.2" y="1926.0" font-size="21" transform="rotate(-90 1641.2 1926.0)" text-anchor="end">FULV+STS</text>
<polyline points="1240.0,1738.9 1240.0,1728.4 1269.2,1728.4 1269.2,1738.9" fill="none" stroke="#111" stroke-width="2.6"/>
<text x="0" y="0" font-size="21" transform="translate(1264.0 1725.2) rotate(-90) scale(1.24 1)">0.9717</text>
<polyline points="1301.8,1703.0 1301.8,1692.5 1331.9,1692.5 1331.9,1703.0" fill="none" stroke="#111" stroke-width="2.6"/>
<text x="0" y="0" font-size="21" transform="translate(1324.3 1689.3) rotate(-90) scale(1.24 1)">0.0015</text>
<polyline points="1365.9,1672.8 1365.9,1662.3 1395.6,1662.3 1395.6,1672.8" fill="none" stroke="#111" stroke-width="2.6"/>
<text x="0" y="0" font-size="21" transform="translate(1388.0 1659.1) rotate(-90) scale(1.24 1)">0.0001</text>
<polyline points="1489.9,1728.4 1489.9,1717.9 1519.5,1717.9 1519.5,1728.4" fill="none" stroke="#111" stroke-width="2.6"/>
<text x="0" y="0" font-size="21" transform="translate(1512.9 1714.7) rotate(-90) scale(1.24 1)">0.9578</text>
<polyline points="1555.7,1710.5 1555.7,1700.0 1585.8,1700.0 1585.8,1710.5" fill="none" stroke="#111" stroke-width="2.6"/>
<text x="0" y="0" font-size="21" transform="translate(1579.7 1696.8) rotate(-90) scale(1.24 1)">0.0002</text>
<polyline points="1620.5,1707.9 1620.5,1697.4 1651.1,1697.4 1651.1,1707.9" fill="none" stroke="#111" stroke-width="2.6"/>
<text x="0" y="0" font-size="21" transform="translate(1644.0 1694.2) rotate(-90) scale(1.24 1)">0.0003</text>
<rect x="1694.0" y="1666.8" width="30.5" height="12.5" fill="#fff" stroke="#111" stroke-width="2.4"/>
<text x="1735.4" y="1680.0" font-size="21">vector</text>
<rect x="1694.0" y="1701.4" width="30.5" height="12.5" fill="#f5a3a3" stroke="#111" stroke-width="2.4"/>
<text x="1735.4" y="1715.0" font-size="21">myr-AKT</text>
</svg>
</body></html>
